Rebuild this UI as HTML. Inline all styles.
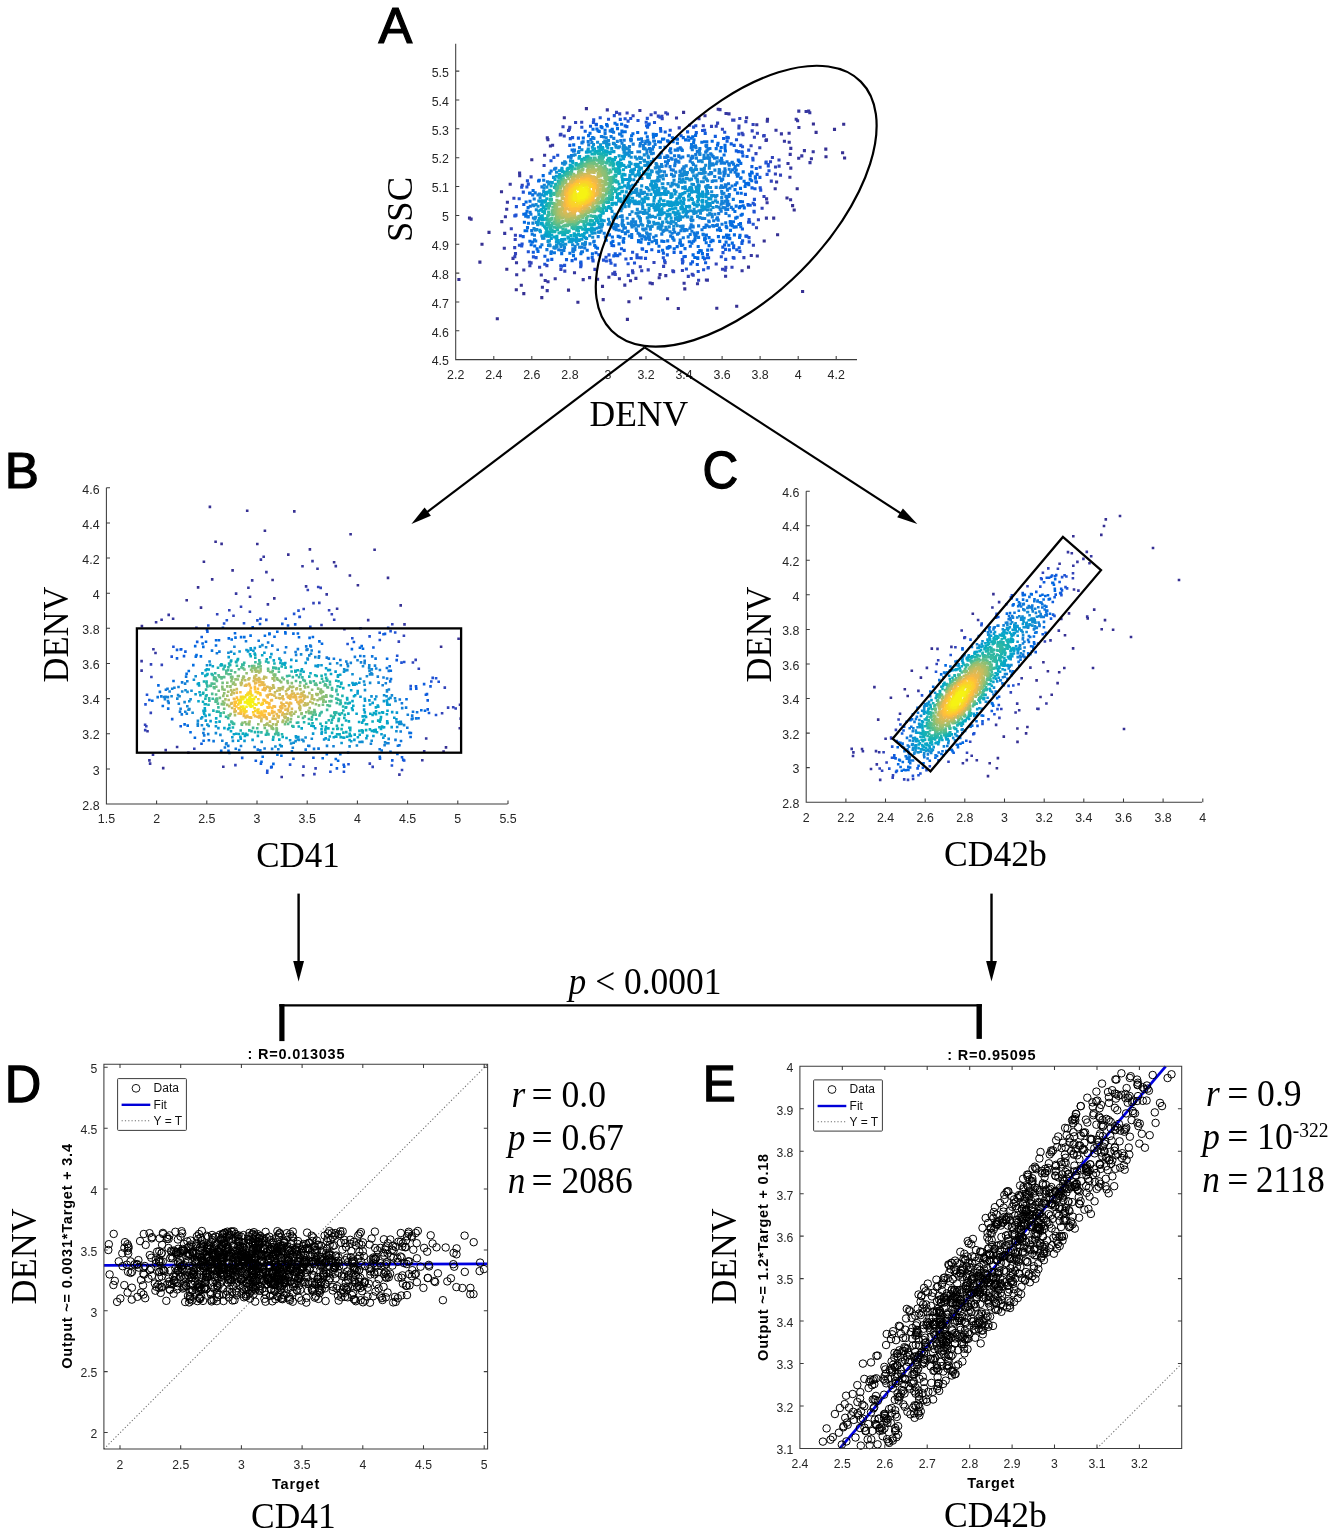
<!DOCTYPE html>
<html lang="en"><head><meta charset="utf-8"><title>Figure</title>
<style>html,body{margin:0;padding:0;background:#fff}svg{display:block}.ss{font-family:'Liberation Sans', Arial, sans-serif}.sf{font-family:'Liberation Serif', 'Times New Roman', serif}</style></head><body>
<svg width="1337" height="1536" viewBox="0 0 1337 1536">
<defs><marker id="mk" markerUnits="userSpaceOnUse" markerWidth="12" markerHeight="12" refX="6" refY="6" overflow="visible"><circle cx="6" cy="6" r="3.75" fill="none" stroke="#000" stroke-width="1"/></marker></defs>
<rect width="1337" height="1536" fill="#fff"/>
<g id="panelA">
<g stroke-linecap="square" stroke-width="3.1" fill="none">
<path stroke="#363093" d="M802.6 291.5h0M497.3 318.7h0M458.9 279.5h0M736.7 306.3h0M716.8 308.3h0M479.9 262.1h0M627.4 319.4h0M577.9 302.2h0M678.3 308.5h0M603.2 299.6h0M482 244.2h0M843.7 124.3h0M667.6 298.8h0M777.6 234.8h0M834.5 129.4h0M628.9 301.7h0M489 232.4h0M640.6 298h0M568.5 290.1h0M844.6 158h0M469.5 218.1h0M471.1 219.1h0M842.6 152.8h0M816.1 132.4h0M797.2 188.8h0M531.8 159.7h0M501.5 191.7h0M523.8 293.6h0M541.8 297.6h0M825.8 149.1h0M826 156.7h0M794.2 210h0M516.3 289.7h0M586.4 108.6h0M506.8 269.2h0M773.7 218.1h0M764.2 241h0M683.6 112.4h0M813.4 124h0M521.3 285.2h0M602.5 286.4h0M792.6 205.6h0M684.8 288.9h0M787 198h0M767.5 119.2h0M748.5 267.1h0M564.3 117.7h0"/>
<path stroke="#3637a0" d="M790.6 199.7h0M757.3 256h0M742.1 270.7h0M810 162.6h0M504.3 248.3h0M516.7 274.7h0M798.9 127.5h0M789.9 177.3h0M813.2 151.8h0M547.2 290.6h0M583.2 279.6h0M510.2 184.3h0M798.8 111.1h0M501.8 221.6h0M718.2 109.3h0M767.3 121.1h0M652.3 283.6h0M650.1 283h0M809.8 112.7h0M808.7 111.1h0M789.1 133.3h0M547.3 137.9h0M796.2 119.2h0M811.4 158.7h0M720 109.6h0M504.7 233.4h0M776 130.2h0M597.6 279.2h0M519.6 173h0M542.4 287.3h0M797.6 120.8h0M725.6 276.3h0M804.4 150.6h0M781.4 133.9h0M624.8 285.1h0M806.1 111.5h0M589.6 277.6h0M547.9 139.6h0M789.2 142.3h0M784.4 141.3h0M705 115.7h0M790.8 168.1h0M790.8 148.4h0M766.4 218.1h0M684.1 283.3h0M555.2 278.7h0M798.7 158.2h0M775.2 188.8h0M801.8 155.9h0M507.4 202.3h0M548 281.8h0M790.2 154.4h0M676.5 118h0M544.6 155.2h0M519.7 175.6h0M659.2 277.8h0M505.4 216.8h0M545.2 280.5h0M523.8 270h0M639.9 110.5h0M726 113.5h0M607.3 109.9h0M751.3 255.5h0M729 113.9h0M707.4 280.1h0M746.6 117.7h0M697.5 283.8h0M506.7 209.2h0M788 163.5h0M665.8 275.6h0M541.3 275h0M550.4 146h0M706.4 280h0M630.5 280.8h0M608.9 277.3h0M660 274.5h0M516.5 262.8h0M767.1 202.7h0M513 258.4h0M699 118.8h0M552.6 145.3h0M635.9 278.4h0M776.6 182h0M756.8 124.7h0M766.5 139.9h0M619.4 278.7h0M766 140.5h0M574.5 272.8h0M766.6 198.9h0"/>
<path stroke="#3243ba" d="M725.3 270.3h0M511.3 228.7h0M667.5 114h0M665.8 112.7h0M648.2 269.9h0M563 126.8h0M732 267.2h0M739.8 118.5h0M753.1 124.5h0M514.8 256.8h0M780.5 175.1h0M575.6 122.5h0M673.6 271.6h0M764.2 135.6h0M594.9 269.4h0M753.4 245.2h0M763.6 136h0M745.9 121.6h0M698.6 280.2h0M722.5 269.3h0M672.8 270.9h0M779 160h0M717.6 123.1h0M759.8 147.7h0M513.9 198.3h0M732.7 120.1h0M743.9 257.6h0M733.9 120.1h0M756.5 227.7h0M615.3 274.5h0M628.3 275.4h0M612.8 273.9h0M564.8 271.1h0M529.9 265.7h0M725.8 267.4h0M560.3 134.9h0M515.5 253.6h0M641.7 270.8h0M772.4 157.5h0M757.4 133.3h0M560.9 134.3h0M762.1 208.2h0M758.4 219.7h0M764 196.5h0M581.7 122.2h0M771.3 181.1h0M752.2 130.9h0M539.6 267.3h0M614.7 272.2h0M688.3 276.4h0M754.4 137.2h0M655.2 112.8h0M514.7 247.6h0M632.9 272.6h0M663.6 266.4h0M627.1 113h0M654 262.5h0M560.9 269.5h0M779.1 166.1h0M716.2 126.3h0M616.5 112.4h0M569.8 127.3h0M632.5 270.9h0M633.1 115.8h0M529.4 262.2h0M711.5 126.4h0M775.4 174h0M531.1 262.9h0M739 126h0M544.1 165.5h0M531.1 176.9h0M682.4 270.5h0M515.2 239.5h0M651.1 114.7h0M515.4 235.2h0M661.9 116.2h0M640.3 266.7h0M569.4 129.3h0M756 153.6h0M689.6 125.2h0M693.2 275.2h0M564.2 136h0M738.9 128h0M568.5 130.5h0M751.1 145.7h0M716.2 264h0M722.4 129.2h0M692.2 274.2h0M546.9 265.6h0M775.5 167h0M522.2 185.2h0M679.2 127.9h0M619.7 113.9h0M703.3 125.8h0M665.1 262.6h0M742.1 133.3h0M658.3 116.1h0M743 134.8h0M662.2 118.6h0M770.5 161.8h0"/>
<path stroke="#2053d4" d="M753.2 224.3h0M521.7 187.2h0M660 117.2h0M580.7 266.7h0M734 258.1h0M514.8 215.7h0M527.4 180.7h0M628.1 263.8h0M638 120.5h0M561.6 266.2h0M725.7 259.4h0M544.8 264.2h0M515.1 216h0M695.8 125.7h0M560.8 265.9h0M615.1 265.1h0M749.2 241.9h0M647.3 118.4h0M733.2 257.5h0M738.8 134.1h0M516.4 206.6h0M708.1 268h0M664.6 260.9h0M766.2 162.1h0M686.4 269h0M600.2 117.8h0M519.4 245.2h0M708.3 267.5h0M630.7 118.5h0M634.5 263h0M614.3 115.6h0M519.2 198.8h0M645.5 258.4h0M564.6 265.4h0M698.2 271.5h0M760.7 190.1h0M703.6 269.8h0M765.9 162.9h0M593.7 119.9h0M516 215.1h0M724.7 132.2h0M611 263.3h0M581.8 127.3h0M768.3 164.5h0M581.1 265.1h0M693.6 127.1h0M749 237.6h0M721.3 256.7h0M625.9 259h0M748.7 150.1h0M553.9 157.4h0M769 170.7h0M768.3 166h0M767.1 174.4h0M606.4 261h0M603.5 260.1h0M631.2 258.5h0M754.2 212h0M521.7 246h0M752.8 158.3h0M551 160.7h0M754 211.4h0M682.5 263h0M641.1 257.9h0M739.9 251.4h0M760.2 187.7h0M753 159.9h0M533.4 256.9h0M704.6 130.2h0M646.2 122.2h0M610.1 260.4h0M639.1 257.7h0M754.4 199.4h0M593.1 260.9h0M637 257.8h0M663.3 257.8h0M754.5 204.7h0M522.1 244h0M670.2 130.3h0M520.4 235.8h0M736.5 139.7h0M528.3 251.7h0M523.3 192.1h0M682.9 261.4h0M528.3 184.1h0M536.1 257.6h0M557.7 155.3h0M749.6 222.2h0M580.7 263.3h0M606 257.3h0M742.5 146.7h0M625.1 118.8h0M592.8 260h0M702.6 130.5h0M570.3 138.6h0M753.2 203.3h0M740.8 145.4h0M746.9 236.2h0M654.5 122.5h0M637 254.8h0M628.1 121.1h0M723 252.6h0M593.4 122.5h0M632.6 252.2h0M682.3 259.6h0M760.1 167.2h0M608.5 119.2h0M748.6 222.3h0M749.1 219.5h0M526.9 187h0M617.7 255.7h0M572.6 137.6h0M609 254.9h0"/>
<path stroke="#0f5cdd" d="M616.8 255.5h0M619.9 254h0M726.9 137.4h0M728.3 137.8h0M649.2 124h0M613.8 255.9h0M715.3 136.4h0M745.9 236.1h0M727.3 137.6h0M580.9 262.1h0M690.8 263.9h0M747 156.5h0M624.2 250.4h0M648.6 124.7h0M736.8 249.8h0M547.8 260.1h0M705.2 133.4h0M598.9 254.8h0M620.3 119.4h0M739.2 247.7h0M646.6 125.8h0M705.6 262.8h0M615.2 253.7h0M660.5 128.5h0M687.6 131.9h0M697.3 264.5h0M723.6 138.5h0M750.2 205.2h0M741.9 243.4h0M667.3 254.9h0M533.3 252.3h0M755 188.8h0M741.7 151.7h0M523.2 236.6h0M742.3 152.4h0M734.2 145.4h0M592.2 257.5h0M742 242.6h0M756.3 168.5h0M683.9 256.7h0M590.5 126.2h0M646.4 251.5h0M621.5 248.8h0M742.6 240.8h0M692.5 261.9h0M665.2 132h0M708.6 257.8h0M725.5 249.4h0M759.9 177.4h0M647.6 127.1h0M731.2 143.9h0M729.4 249.9h0M572.1 260.6h0M727.1 141.1h0M685.3 256.5h0M751.9 166.6h0M748.6 205.2h0M663.4 253.1h0M588.2 258.3h0M585.2 131.2h0M551.8 259.4h0M748 204.6h0M658.7 251.4h0M742.9 155.9h0M696.3 132.6h0M707.4 257.7h0M738.4 151.6h0M722.8 247.1h0M660.8 131.1h0M566.5 259.6h0M733.6 247.7h0M596.1 124.3h0M736.3 150.9h0M596 252.8h0M612 245.5h0M711.7 249.7h0M651.8 249.8h0M613.6 245.8h0M669.4 135.2h0M569.8 145.4h0M596.4 124.6h0M745.4 194.4h0M681.1 135.7h0M704.5 258.9h0M674.1 252.4h0M752 187.9h0M757.1 174.4h0M680.8 252.4h0M756.5 182.2h0M626.9 126.6h0M707.5 254.5h0M733.7 245.7h0M642.6 249.1h0M575.5 259h0M544.9 256.2h0M578.4 138.1h0M724.6 245h0M523.8 204.5h0M642.1 248.8h0M742.4 229h0M755.9 181.8h0M625.2 125.9h0"/>
<path stroke="#0268e1" d="M694.8 257.5h0M592.4 253.9h0M662.6 250.3h0M739.6 237.4h0M611.3 242.9h0M697.8 258.4h0M728.8 245.2h0M725 145.3h0M703.1 257.4h0M744.3 207.9h0M621.6 124.3h0M740 235.4h0M619 243.9h0M637.7 132.5h0M615 123.2h0M543.2 175.6h0M697.7 257.7h0M693.1 254.9h0M672.4 137.8h0M525.1 230.8h0M538 251.4h0M755.5 178.1h0M719.7 241.4h0M531.2 244.8h0M755.3 176.7h0M597.5 248.3h0M707.7 250.1h0M742.5 201.8h0M743.2 205.7h0M732.3 243.1h0M751.6 172h0M695.6 135.4h0M742.3 214.2h0M538.6 181h0M539.3 180.2h0M718 143.3h0M683.3 137.6h0M675.4 138.5h0M712.2 141.3h0M752.2 173h0M726.1 242.1h0M606.6 124.5h0M612.9 241.4h0M741.2 193.3h0M740.8 226.7h0M725 147.9h0M676.8 138.9h0M623.6 242.2h0M593 129.3h0M617 124.8h0M741.1 215.3h0M709.1 245.6h0M677.5 139.3h0M702.4 253.6h0M688.3 137h0M529.9 241.3h0M740.5 223.5h0M524.4 222.2h0M526.1 202h0M523.8 214.3h0M713.1 240.8h0M685 248.6h0M674.2 248.7h0M740.5 201.6h0M748.8 184.7h0M529.6 193.3h0M667.6 248.3h0M692.7 136.8h0M632.9 133.7h0M745.1 186.5h0M537.1 248.9h0M606.3 240.3h0M698.4 252.5h0M710.8 241.7h0M751.7 180.8h0M601.1 126.6h0M623.2 241.1h0M749.7 174.2h0M712.1 240.3h0M645.7 133h0M530.1 193.1h0M573.7 144.9h0M729.8 238.6h0M667.2 247.7h0M659 246.2h0M607.3 125.9h0M701.3 250.8h0M717.5 145.2h0M718.4 236.6h0M723.5 237.2h0M699.9 251h0M668.6 247.6h0M740.1 206.6h0M534.7 246h0M750.2 175.8h0M526.7 230.7h0M721.2 147.5h0M748.4 183.3h0M727 237.8h0M699.8 250.6h0M738.9 224.5h0M740.5 188.4h0M725.4 151h0M734.4 234.9h0M740.8 163.4h0M738.3 160.1h0M656.3 134.5h0M595.8 247.1h0M663.8 139h0M739.3 161.4h0M747.2 183.5h0M590 133.2h0M667.6 140.9h0M583.3 138h0M750.2 179.2h0M739.4 207.8h0M670.1 247h0M596.9 129h0M745.7 183.6h0M691.3 138.2h0M673.1 141.8h0M685.6 139.9h0M677.2 246.6h0M662.5 139.1h0M668.9 141.9h0M669.2 246.5h0M602 127.6h0M737.5 193.1h0M690.3 246.2h0M728.8 235.2h0M726.5 235.1h0"/>
<path stroke="#046de0" d="M653.3 134.4h0M706.2 242.7h0M655.9 135.5h0M532.5 242h0M573.5 255.6h0M737.2 217.2h0M681.3 245.4h0M706.8 141.9h0M625.2 131.7h0M698.2 246.5h0M736.2 226.9h0M743.2 171.9h0M682.7 245h0M744.1 181.3h0M677.4 143.3h0M688.7 140.2h0M533.1 190.5h0M588.6 135.6h0M525.7 216.3h0M631.6 135.8h0M709.1 237.6h0M617.5 128.6h0M612.4 237h0M704.6 141.8h0M735.7 218.1h0M694 139.8h0M623.8 238.5h0M526 213.9h0M734.1 227.3h0M527.5 227.6h0M734.2 226.8h0M621.9 131h0M730.5 230.4h0M598 130.7h0M720.6 230.5h0M594.7 245.5h0M736.2 206.1h0M580.9 253.7h0M741 177.7h0M679.7 243.2h0M691.9 243.2h0M656.6 243.1h0M740.6 178.1h0M704.6 239.6h0M738 165.2h0M720.3 151h0M734.9 211.5h0M705.4 238.7h0M638.5 241.6h0M736.9 182.9h0M733.5 221.7h0M735 189.6h0M648.7 243.6h0M622.1 132h0M717.5 230h0M620.1 237.1h0M660.5 142h0M732.3 225.6h0M612.3 129.2h0M605.4 237.1h0M735.4 184.9h0M527 211.3h0M680.4 242.2h0M701.8 142.2h0M716.2 148.6h0M653.5 137.1h0M737.5 165.3h0M638.8 241.3h0M618.2 236.4h0M704.7 238h0M726.8 227.8h0M641 242.1h0M599.2 131.5h0M724.1 155h0M730.7 225h0M731.7 222.4h0M689.3 241.7h0M690.1 241.7h0M551 253.4h0M719.4 228.1h0M665 147.2h0M528.1 207.6h0M572.1 150h0M605.1 130.2h0M726.2 226.4h0M693.6 241.3h0M587.2 250.2h0M706.4 235.1h0M663.9 241.5h0M638.5 240.6h0M647.3 136.8h0M680.2 147.7h0M658.6 141.8h0M730.2 222.2h0M730.3 221.5h0M609.5 234.9h0M738.2 174.4h0M530 201.3h0M540.4 247h0M661.8 241.1h0M611.8 130.4h0M670.6 148.9h0M551 252.9h0M737.4 176.1h0M631.7 237.4h0M561.7 253.6h0M693.6 142.7h0M532.7 194.9h0M667.7 240.9h0M569.9 253.3h0M733.1 209.2h0M678 148.9h0M694.9 239.9h0"/>
<path stroke="#0d75dc" d="M725.7 222.8h0M681.3 149.1h0M610.2 130.9h0M583.1 141.8h0M652 241.7h0M581.6 252h0M582.5 251.7h0M680.2 240h0M638.5 139.3h0M722 224.2h0M733.3 199.4h0M543.7 180.2h0M551.2 171h0M736.8 174.1h0M674 240.1h0M703.4 234.7h0M732.3 162.3h0M641.5 138.8h0M729.2 215.7h0M581.9 142.9h0M612.1 131.4h0M706.7 145.5h0M534.5 239.8h0M582 142.9h0M656.4 240.6h0M677.6 150.1h0M528.5 223.2h0M629.4 236h0M675.2 150.1h0M732.1 186h0M698.6 237.4h0M691.5 144.6h0M703 234.3h0M528 216.9h0M669.7 150.8h0M660.2 147.5h0M735.3 166.6h0M682.3 150.4h0M733.6 164.1h0M736.3 170h0M535.7 241h0M732 162.7h0M716.5 225.5h0M717.4 224.9h0M620.5 134.2h0M655.1 240.5h0M554.4 252.8h0M695.2 237.6h0M528.3 216.6h0M613.6 132.3h0M619.5 134h0M705.9 145.8h0M713.6 226.1h0M630.6 139.4h0M654.5 141.2h0M631.4 139.7h0M735.1 172.3h0M734.8 168.2h0M551.4 251.9h0M731.3 207.4h0M549.9 173.3h0M673 238.4h0M683.3 237.8h0M532.2 234.3h0M696.1 235.8h0M653.7 141h0M706.6 146.6h0M712.7 225.6h0M670.9 152.8h0M622 136h0M688.2 236.9h0M535.2 192.9h0M709.4 226.8h0M573.3 251.8h0M709.9 148.5h0M530.3 206.2h0M546.9 249.6h0M691.2 147.7h0M592.7 137.6h0M693.1 146.5h0M729.9 188.3h0M702 229.7h0M625.4 233.7h0M694.8 234.5h0M695.2 145.8h0M697.5 232.9h0M574.5 150.1h0M641.8 239h0M605.1 133.4h0M672.5 237.3h0M649.5 239.7h0M725.9 213.5h0M661.3 153h0M631.7 234.5h0M647.8 140.1h0M705.2 227.2h0M655.1 144.5h0M704 227.5h0M631 140.8h0M695.5 146.3h0M727 161.8h0M694.3 146.8h0M718.2 220.1h0M573.5 151.3h0M645.7 239.3h0M728.5 183.7h0M694.2 233h0M707 225.8h0M690.2 234.5h0M531.7 230.6h0M593.7 242h0M721.5 158.2h0M732.6 169.7h0M678.7 155.9h0M667 155.7h0M728.8 163.7h0M625.3 232.7h0M706.2 225.7h0M642.2 141.5h0M642 141.6h0M674.6 155.7h0M727.7 209.4h0M679 156.4h0M679.1 156.5h0M670.7 236.1h0M574 151.3h0M594.2 241.3h0M682.8 157h0M590.9 139.5h0M708 149.1h0M530.1 212.4h0M706.1 225h0M667.9 156.8h0M729.3 194.6h0"/>
<path stroke="#1079da" d="M584.8 248h0M692.3 149.8h0M729.3 165.2h0M645.8 141.4h0M680.7 158h0M622.3 231.4h0M572.8 250.6h0M696 147.8h0M554.6 169.1h0M666.1 157.5h0M729 204.4h0M541.9 244.7h0M664.7 157.4h0M593.9 138.4h0M647.6 238.2h0M604.2 233.2h0M691.9 231.2h0M730.7 172h0M716.7 219h0M688.3 155.8h0M698.6 225.9h0M648.9 142.3h0M627.6 231.7h0M728.9 196.4h0M671.1 158.3h0M588.2 141.6h0M727.6 190.1h0M619.1 230.3h0M727.4 189.5h0M616.2 229.7h0M726.1 185h0M653.7 237.2h0M725.8 209.7h0M534.5 235.3h0M639.9 236h0M659.8 155.8h0M713.7 220.7h0M717.4 217.8h0M677.5 234.2h0M640.4 143.5h0M653.5 146.7h0M568.5 156.9h0M590 243.9h0M628.1 231.4h0M721.9 160.6h0M728.3 175.4h0M672.1 159.3h0M648.9 142.8h0M675.9 159.7h0M649.8 143.2h0M725.9 186.9h0M725.3 184.7h0M555.8 168.2h0M649.3 237.4h0M579.5 147.6h0M563.9 250.4h0M675.5 160.6h0M724.6 163.3h0M729.2 169.2h0M727.4 205.7h0M699.9 148.6h0M668.5 160.5h0M616.1 228.8h0M534.2 199h0M614.2 228.6h0M678 161.2h0M530.9 214.2h0M641.9 235.9h0M723.3 162.7h0M678.8 233.2h0M660.2 157.4h0M601.4 136.5h0M709.2 221.7h0M644.7 236.7h0M693.2 227h0M624.2 140.3h0M645.2 143.5h0M633.2 144.1h0M642.4 235.9h0M656.1 235.8h0M574.8 249.6h0M678.9 162.1h0M717.1 157.9h0M639.6 234.4h0M598.2 236.6h0M727.8 201.5h0M648.9 144.3h0M720.1 160.7h0M648.2 236.5h0M706.9 150.9h0M727.6 201.6h0M611.1 136.6h0M561.1 250.2h0M692.9 226h0M532.8 205h0M675.1 163.8h0M687 230.1h0M725.2 207.8h0M665.5 161.7h0M708.7 221h0M658.6 157.3h0M672 233.2h0M690 228.1h0M667.5 163.2h0M638.1 233.2h0M722.7 179h0M722.3 179.5h0M652.5 149.1h0M726.9 203.6h0M721.4 180.7h0M684.3 230.6h0M674.7 165.7h0M692.4 156.2h0M613 227.3h0M670 166.6h0M691.9 157.1h0M723.9 175.8h0M690.9 226.5h0M699.4 150.4h0M661.8 234.1h0M718.7 213.6h0M639.9 145.9h0M691.1 158.5h0M721.2 163h0M623.9 228.1h0M721.2 211.1h0M726.9 199h0M721.2 163.1h0M722.9 187.4h0M674.7 232.2h0M603.9 137h0M685.5 229.6h0M710.7 153.9h0M697.3 151.5h0M725.1 172.6h0M725 172.9h0M643.4 145.5h0M541.9 186.9h0M625.4 227.9h0M721.4 185.7h0M724.3 173.7h0M558.7 249.7h0M725.2 170.6h0M711.9 155.1h0M671.2 169.8h0M581.6 247.3h0M680.9 230.7h0M724.9 168.8h0M571.4 155.6h0M666 165.9h0M692.9 157.7h0M691.2 224.8h0M719.4 177.7h0M653.3 153.3h0M620.8 140.6h0M613.8 138.4h0M723.9 172h0M725.9 196.4h0M705.7 152.1h0M713.1 156.6h0M615.8 225.7h0M690.2 161.3h0M673.3 170.1h0M714.6 158.1h0M618 225.6h0M572.9 248.7h0M695.7 154.6h0M636.6 230.4h0M649.5 148.5h0"/>
<path stroke="#1481d6" d="M622.6 225.6h0M723 207.6h0M650.1 234.3h0M670 231.8h0M623.6 225.4h0M562.5 163.3h0M716 180.8h0M616.1 224.6h0M720.4 187.8h0M606.2 137.8h0M622 224.3h0M717.1 161.7h0M564.7 161.7h0M720.2 173.3h0M647.2 233.8h0M699.1 153h0M712.3 216.9h0M723.9 193.3h0M632.1 227h0M622.3 223.4h0M725.1 201.3h0M579.6 247.2h0M650.6 151.6h0M611.4 225.5h0M681.9 228.7h0M636.1 228.7h0M719 172.9h0M622.7 220.5h0M651.6 153.6h0M622.3 220.6h0M628.2 223.4h0M627.2 218.3h0M533.9 205.7h0M671.5 174.4h0M644.7 148.2h0M719.6 170.8h0M714.7 176.5h0M534 228.6h0M713.6 180.8h0M683.8 166.7h0M723.2 193.3h0M613.6 223.9h0M584.5 244.9h0M643.6 148.5h0M631.4 224.9h0M686.2 165.9h0M720.2 209.1h0M622.2 217.1h0M714.9 214.3h0M700 153.9h0M661.5 164.6h0M719.2 169.6h0M646.6 232.7h0M532.9 223.1h0M675.7 172.1h0M721.7 191.6h0M682.6 227.8h0M644.8 149h0M707.9 155.2h0M645.1 149h0M699.8 154.4h0M622.1 215.9h0M692.4 162.8h0M538 195h0M633.7 225.6h0M704.7 218.5h0M716.3 163.7h0M696.4 158.1h0M647 150.1h0M682.4 227.5h0M631.6 221.9h0M663 231.5h0M620.3 216.5h0M585.4 244h0M662.1 166.5h0M722.6 193.9h0M702.4 218.4h0M723.3 203.3h0M712.2 181.4h0M692.9 220.3h0M632.5 222.1h0M722.1 193.5h0M617.3 141.4h0M544.3 185.2h0M664.5 171.9h0M555.1 248.2h0M673.7 229.4h0M716.2 187.4h0M691.6 220.8h0M673.3 176.1h0M591.9 142.5h0M629.8 214.5h0M684.2 168.2h0M635.8 225h0M629.5 146.6h0M633.1 219.2h0M666.3 175.4h0M682.4 169.1h0M714.9 170.1h0M704 155.4h0M674.4 175.8h0M622 143.3h0M616.8 217.6h0M709.5 158h0M643.9 229.9h0M693.4 164.4h0M683.1 226h0M642.7 229h0M573.5 155.2h0M635 221.9h0M663.9 230.4h0M708.4 157.7h0M708.1 157.6h0M638.5 225.9h0M635.4 222.2h0M667 229.9h0M680.3 171.1h0M711.6 172.9h0M699.9 217.6h0M709.1 158.4h0M711 173.7h0M553.9 247.6h0M635.6 221.9h0M639.6 151.8h0M535.3 230h0M653.5 159.2h0M680 171.7h0M548.5 245.5h0M637.9 151.8h0M713.3 165h0M533.4 218h0M564.5 247.5h0M616.3 216.5h0M646.9 153.3h0M721.2 204.3h0M712.6 163.7h0M571 157.7h0M710.6 172.5h0M613.3 219.9h0M719.1 207.3h0M698.5 161.1h0M680.6 226.2h0M691 219.5h0M646.1 228.9h0M706 158.1h0M721.7 197.6h0M699.1 161h0M721.8 201.3h0M599.9 232.1h0M708.9 174.2h0M613.7 218.8h0M539.4 194.1h0M711.4 214.2h0M588.7 144.9h0M709.7 161.2h0M547.4 181.8h0M703.9 158.5h0M575.1 246.4h0M601.2 230.7h0M650.4 229.3h0M608.3 224.2h0M700.8 160.7h0M710.7 165.1h0M695.8 166h0M691.2 168.3h0M709.6 162.8h0M659.1 167h0M641.2 224.3h0M550 245.7h0"/>
<path stroke="#1389d3" d="M642.7 225.3h0M548.8 245.1h0M578.9 151.6h0M707.6 180.8h0M648 156h0M661.2 171.2h0M624.3 145.7h0M656.1 163.6h0M613.5 217.6h0M709.3 168.1h0M709.6 165.2h0M535.7 229.6h0M592.7 237.3h0M660.7 229.3h0M575.1 154.7h0M609.5 222.4h0M554.5 247h0M585.5 242.3h0M697.6 216.4h0M702.2 161.8h0M632.1 211.7h0M674 180.3h0M608.5 140.6h0M690.4 169.5h0M555.6 247.1h0M656.8 164.7h0M708.1 215h0M684.3 171.6h0M706.4 179.1h0M623.4 145.6h0M582.5 243.9h0M644.3 154.9h0M662.9 175.6h0M707.7 215h0M660.7 228.9h0M677.3 225.8h0M623.7 145.9h0M640.5 221.2h0M621.1 210.8h0M709.7 213.9h0M681.2 174.1h0M536.1 204.5h0M648.6 157.6h0M683.9 172.5h0M705.7 165.2h0M705.2 172.6h0M581.9 149.8h0M679.8 175.5h0M704.9 176.9h0M695.6 168.9h0M637.9 216h0M612.8 217.1h0M647.6 225.9h0M709.8 213.6h0M657.8 167.1h0M639.3 218h0M673.7 226.2h0M636 213.3h0M659.3 169.7h0M650.2 226.8h0M691.7 217h0M704.4 168.3h0M656.7 165.8h0M704.3 172.6h0M628.1 148.8h0M693.5 170.1h0M549.7 244.9h0M658.1 228.3h0M578.4 152.5h0M704.2 169.4h0M669.3 226.9h0M536.3 229.8h0M607.6 141h0M557 246.7h0M614.8 214.3h0M598.5 232.1h0M691.9 170.7h0M696.6 169.5h0M703.7 172.9h0M640.4 218.6h0M703.5 173.1h0M665.9 227.4h0M661 228h0M639.4 217h0M701.1 169.3h0M703.9 178h0M701.8 169.7h0M561 246.5h0M710.5 187.5h0M626 147.9h0M631.8 152.5h0M629.2 150.3h0M651.9 226.4h0M672.3 183.4h0M565.7 162.9h0M687.4 172.6h0M716.6 206.6h0M604.8 141.1h0M708 185.6h0M701.1 173.5h0M692.7 171.9h0M652.2 226h0M544 188.2h0M658.3 227.3h0M672 184h0M663.3 179h0M659.4 227.3h0M597.6 142.2h0M534.8 219h0M693 172.2h0M564.3 164.2h0M613.4 143.4h0M699.1 173.2h0M682.4 175.6h0M668 183.6h0M659.9 227.1h0M659 171.9h0M651.2 161.6h0M716.9 195.5h0M674.1 184h0M614.4 144h0M679.6 178.8h0M638.2 212.8h0M685 174.6h0M536.7 229.5h0M660.8 226.7h0M707.2 185.8h0M672.1 184.9h0M639.6 157.2h0M703.3 181.7h0M577.8 244.3h0M623.1 147.6h0M648.7 222.5h0M686.6 174.6h0M624.2 148.2h0M697 175.1h0M717.4 202.3h0M629.5 152.3h0M708 187.2h0M676 223.6h0M625 149h0M687.9 217h0M641.4 158.1h0M648.2 221.1h0M635.3 157.1h0M649.6 222.1h0M629 152.3h0M662 225.8h0M572.6 244.8h0M660.3 176.9h0M619.4 146.7h0M622 208.2h0M693.7 175.8h0M655.3 167.9h0M659.6 176h0M687.4 216.9h0M701.3 181.7h0M640.3 158.5h0M670.8 186.3h0M658 173.2h0M715.7 196.4h0M661.6 225.4h0M542.6 238.2h0M654.6 223.9h0M679.3 182h0M536.3 209.8h0M615.9 145.6h0M700.5 213.3h0M695.7 177.8h0M640.3 212.1h0M693.9 213.5h0M676.8 184.9h0M711.7 191.8h0M608.5 219.2h0M621.4 207.9h0M715.6 197h0M697.2 179.3h0M535.6 217.2h0M637.3 209.4h0M683 179.2h0M656.8 172h0M705.7 186.7h0M671 223.5h0"/>
<path stroke="#108ed2" d="M710.8 209.9h0M713.1 207.5h0M593.5 144.6h0M623.3 149.3h0M556.5 172.2h0M637 158.9h0M659.1 224.3h0M563.2 244.9h0M653.7 222.3h0M647.3 217.9h0M696.1 212.8h0M697.3 180.5h0M641.7 185.9h0M682.2 180.8h0M657.3 223.6h0M681.5 181.5h0M644.4 160.4h0M682.2 180.9h0M556.5 245h0M715.7 200.7h0M595.1 233h0M635.7 184.2h0M686.3 178.6h0M644 160.5h0M681.5 182.2h0M625.2 206.6h0M697.6 181.7h0M627.7 153.2h0M643.6 213.4h0M649.2 163.3h0M658.2 223.3h0M603.7 142.6h0M687.8 178.8h0M691.5 179.1h0M715.4 200.9h0M538.8 201h0M683 181.1h0M647.6 162.3h0M678.3 185.8h0M642.9 212.4h0M713.5 195.5h0M650.1 164.3h0M540.1 197.7h0M628.9 206.1h0M618.3 147.8h0M631.2 157.3h0M637.6 181.5h0M644.5 161.1h0M565.7 244.2h0M673.8 221.9h0M668.5 222.7h0M706.5 188.7h0M662.9 183.7h0M636.7 189.1h0M678.6 220.5h0M689.8 179.9h0M629.2 155.6h0M696.2 211.9h0M644.5 213h0M680.4 219.5h0M657.9 177.3h0M678.3 186.8h0M601.2 227.1h0M624.3 151.2h0M648.4 163.7h0M640.9 190.4h0M536.4 222.5h0M685.7 215.7h0M632.8 185.2h0M616.2 147.3h0M650.1 216.9h0M601.8 226.2h0M662.6 222.5h0M662.2 183.7h0M586.6 238.5h0M693.3 211.6h0M685 182.3h0M543.9 238.3h0M662.7 222.1h0M671.3 221.5h0M541.8 194.8h0M627 154.3h0M541.9 236h0M625.7 153.1h0M678.1 219.8h0M548 241.4h0M659.2 180.6h0M635.3 190.3h0M666.8 221.8h0M649 215.2h0M646.7 213.3h0M570.5 160.9h0M538 206.2h0M707.5 209.9h0M698.3 185h0M646.4 187.5h0M543.7 191.6h0M606.5 143.6h0M682.8 217h0M649.4 215.1h0M646.9 213.1h0M641.2 192.1h0M624 152.1h0M609 144.4h0M648.8 165.4h0M647.3 213.1h0M699.2 185.7h0M636.9 191.7h0M699 210.9h0M674.4 190.4h0M642.7 208.5h0M711.6 195.5h0M560.3 244h0M589.7 235.8h0M626 154.3h0M645 210.3h0M602.5 224.6h0M652.5 216.4h0M657.5 180h0M641.3 193.1h0M644.4 192.4h0M633.8 179.8h0M707.5 191.6h0M693.5 184.5h0M691.9 184.2h0M640.3 162.5h0M665.8 188.9h0M711.8 196.3h0M641.9 178.5h0M642.7 207.7h0M642.9 193.4h0M712.8 202.4h0M647.7 188.4h0M623.4 205.1h0M641.1 178.2h0M686.4 213.3h0M682.7 187.6h0M652.2 171.2h0M690.3 210.7h0M675.8 219.3h0M624.5 204.7h0M701.2 210.4h0M706.8 191.4h0M642.7 206.9h0M635.4 192.5h0M612 211.4h0M638.8 193.8h0M655.4 217.3h0M687.9 211.8h0M548.7 184h0M678.3 218.3h0M683 188h0M623.7 204.7h0M629.9 186.3h0M685.2 186.8h0M657.2 181.1h0M625 154.4h0M651.3 170.7h0M651.8 171.8h0M593.3 232.9h0M702.7 210h0M635.2 203.7h0M694.1 209.4h0M630.1 188.6h0M550 182.2h0M662.8 187.6h0M639.5 194.9h0M645.9 165.3h0M676 191.8h0M656.4 181.1h0M639.1 194.9h0M710.3 205.8h0M633.2 192.4h0M634.3 203.3h0M659.7 218.4h0M702.2 209.8h0M662.9 187.9h0M537.7 224.8h0M696.1 187h0M638.7 203.6h0M637.8 203.4h0M624.4 204.1h0M648.9 210.8h0M546.9 187.1h0M553.5 177.4h0M680.2 216.6h0M648.5 168.2h0M649.1 190.1h0M607.5 144.8h0M642.1 204.1h0M648.5 168.3h0M704.4 209.3h0M685.4 188.7h0M675.4 218.3h0M708 193.5h0M647.3 194.4h0M707.2 192.9h0M667.8 191.9h0M629.5 203h0M649.4 177.7h0M648.4 177.5h0M639.7 196.2h0M644.8 165.5h0M637.3 195.3h0M686.9 211.2h0M690.2 187.5h0M599.1 227.4h0M650.8 184.9h0"/>
<path stroke="#0998d1" d="M651.8 181.2h0M647.7 177h0M666 218.7h0M561.9 168.3h0M654 181.2h0M637.3 202.4h0M698.9 188.4h0M647.9 176.8h0M651 184.7h0M650.3 174.6h0M640.1 176.1h0M648.6 176.7h0M645.2 197.3h0M628.5 186.1h0M548.8 240.7h0M537.7 223.3h0M585.4 237.7h0M638.1 164.5h0M576.4 241.6h0M691.6 187.8h0M642.7 202.7h0M636 164.4h0M668.1 192.5h0M651.7 184h0M639.4 201.7h0M677.2 217.2h0M558.5 243.1h0M549.4 241h0M642 199.1h0M689.7 188.5h0M649.3 174.1h0M629.6 180.7h0M643.5 200.2h0M630.4 179.4h0M710.8 198.9h0M539.8 230.4h0M635.1 164.5h0M644.2 200.1h0M644.4 201.7h0M639.8 175.5h0M628.9 202.4h0M592 233.2h0M588.3 149h0M671.1 218.1h0M628.1 202.5h0M649.1 208.4h0M635.3 175.9h0M647.3 198.1h0M632.7 201.6h0M540.4 231.6h0M708.2 206.6h0M635.2 201.2h0M604.2 220.7h0M652 185.9h0M664.6 191.3h0M637.8 165.1h0M628.3 183.2h0M696.5 188.8h0M637.8 165.2h0M540.4 201.3h0M634.9 201h0M627.9 185.4h0M601.8 223.9h0M647.7 170h0M624.5 156.1h0M647.7 204.8h0M648.1 198.6h0M655.5 184.2h0M579.2 240.4h0M675 193.9h0M671.4 193.9h0M710.1 203.5h0M688.9 190.1h0M600.5 144.7h0M687.8 190.7h0M703.2 208.4h0M559.5 170.8h0M629.7 162.3h0M656.6 185.1h0M658.1 215h0M581.9 239.2h0M645.9 173.9h0M630.9 193.8h0M637.1 174.7h0M646.2 173.7h0M684.9 192.6h0M691.8 189.8h0M689.7 207.2h0M655.5 185.3h0M631.1 163.8h0M650.9 194.4h0M592.4 147.2h0M644.1 173.8h0M571.6 241.7h0M678.9 215.4h0M682.9 193.6h0M654.4 185.9h0M569.2 241.8h0M637.8 166.4h0M652.7 189.1h0M538.5 211.3h0M627 201.7h0M679.9 194.4h0M683.1 212.2h0M638.4 173.7h0M643.6 173.2h0M681.6 194.3h0M636.1 166.5h0M627.3 187.9h0M684.2 211.1h0M629.9 200.5h0M650.3 204.7h0M632.6 198.3h0M667.1 216.5h0M656.4 186.8h0M659 188.3h0M689.5 206.2h0M654.4 187.3h0M705.4 207.1h0M632.3 198.3h0M692.1 191h0M685.5 209.6h0M638.7 167h0M628.5 200.8h0M639.4 173.2h0M629.6 178.1h0M629.7 178h0M655.4 187.4h0M708.6 204.2h0M643.5 172h0M702.6 192.1h0M709 198.2h0M660.9 214.8h0M651.4 205.5h0M641.4 168.1h0M706.1 194.6h0M670.9 195.3h0M658.9 189.4h0M698.5 191.1h0M691.6 192.3h0M665.9 194.4h0M666.3 194.5h0M627.6 200.5h0M638.7 172h0M654.3 190.8h0M633 173.9h0M707 205.5h0M689.3 194.2h0M578.8 239.8h0M694.3 191.8h0M708.1 204h0M639.7 169.4h0M655.2 210.3h0M708.7 199h0M638.5 171.1h0M689.5 194.8h0M654.5 192h0M679.2 213.9h0M671.5 195.9h0M697.1 191.6h0M697 206.1h0M707.1 205h0M680.5 196h0M686.4 206.6h0M680.2 196.1h0M652.7 205h0M562.8 241.8h0M606.7 145.9h0M701.7 206.9h0M688.5 196.3h0M632.8 173.1h0M657.5 190.5h0M694.5 204.7h0M662.1 214h0M669.9 215.4h0M596.8 228.2h0M634.4 169.4h0M662 193.5h0M654.2 197.5h0M663.1 194.2h0M632.2 173.3h0M654 207.5h0M675.3 215h0M628.6 198.4h0M629 196.7h0M633.1 172h0M672.1 196.4h0M693.2 203.5h0M655 208.6h0M653.9 200.9h0M611.7 148.5h0M654.6 197.8h0M655.9 193.3h0M688.8 200h0M622.2 156.3h0M653.7 204.2h0M538.4 220.9h0M667 214.6h0M655.6 195.1h0M658.6 192.5h0M679 196.8h0M659.5 212.1h0M571.9 240.9h0M659.1 193h0M661.1 194h0M702 206.4h0M629.9 175.2h0M683.5 198.2h0M662.6 213.2h0M702.8 193.9h0M691.2 198.2h0M693.8 202.9h0M691.5 198.7h0M706.2 196.7h0M657.3 194.7h0M556.4 241.7h0M655.6 207.7h0M696.9 204.7h0M631.8 169.9h0M702.5 205.9h0M698.1 193.2h0M660.2 194.9h0M684.1 199.7h0M670.1 214.3h0M574.7 240.3h0M692.4 199.5h0M707 203h0M657.7 209.7h0M627.2 197.7h0M679.6 197.9h0M629.5 166.4h0M670.8 197.4h0M594.6 229.6h0M572.6 161.3h0M663.6 212.8h0M587.9 150.4h0M626.3 191.9h0M631.2 170.8h0M664.3 212.8h0M698.5 204.8h0M544.7 235.8h0M623.6 158.7h0M628.8 165.9h0M675.9 213.4h0M630.6 171.4h0M699.3 194h0M656.4 205.7h0M682.7 208h0M659.5 210.2h0M624.6 199.9h0M538.9 214.6h0M701.3 194.6h0M656.9 206.4h0M676.4 213h0M683.7 203.7h0M683.4 202.5h0M626.6 179.5h0M658.6 208.5h0M682.2 207.7h0M583.9 236.5h0M621.3 201.8h0M657.5 204.3h0M676.8 198.7h0M674.9 212.9h0M624.7 199.2h0M706.2 201.4h0M660.5 198.9h0M658.6 207.7h0M681.2 208.9h0M661.9 210.3h0"/>
<path stroke="#079ccf" d="M659.2 201.4h0M700 195.5h0M703.1 196.5h0M680.8 201h0M678 211.2h0M697.4 196.6h0M682 206.1h0M624.1 199.1h0M673.3 212.3h0M599.4 224.2h0M699.9 196.2h0M680.9 207.6h0M697.7 201.4h0M659.4 205.4h0M661.8 208.8h0M545.4 193.1h0M663.4 200.7h0M667.7 211h0M561.9 169.9h0M664 200.8h0M613.9 151.6h0M624.6 185.9h0M591.4 231.2h0M619.1 155.9h0M680.3 203.2h0M660.9 204.5h0M698.5 199.1h0M698.6 198.8h0M702.6 202.3h0M698.6 199.8h0M542.3 200.7h0M544.2 195.8h0M561 240.6h0M616.2 204.3h0M624.6 196.1h0M701.9 201.3h0M702.6 200.4h0M579.6 156.5h0M557.8 240.6h0M677 201.7h0M610.9 208.5h0M676 201.5h0M576.2 238.9h0M667.7 201.9h0M572.9 239.4h0M663.8 205.6h0M539.4 218.6h0M664 205h0M664.1 204.5h0M545.2 235.1h0M669.7 209.6h0M607.8 147.9h0M677.4 202.9h0M670.7 202h0M570.5 239.6h0M546 192.5h0M540.2 210.2h0M676.1 202.6h0M601.8 220.2h0M677.4 204.4h0M586.4 152.1h0M675.4 202.9h0M674.2 202.7h0M667.1 204.7h0M671.3 202.8h0M675.8 208.1h0M672.8 208.7h0M668 204.8h0M670 204h0M541.4 205h0M591.1 230.7h0M583 235.8h0M669.7 205.5h0M556.4 176.2h0M670.4 205.8h0M542 202.9h0M674.2 204.6h0M572.2 239.1h0M671.9 205.5h0M616.3 203.4h0M598.5 147.2h0M593.2 228.9h0M625.9 167.3h0M562.4 239.5h0M576.5 238h0M561.7 239.6h0M564.9 239.2h0M600.9 220.4h0M551.3 238.5h0M620.6 159.7h0M618.7 200.9h0M547.5 236.2h0M587.6 152h0M583.1 235h0M542.2 204.1h0M611.6 151.8h0M600.7 147.4h0M625 174.9h0M594.6 148.8h0M600.8 220.1h0M556.9 239.3h0M552.3 182.6h0M623.9 165.5h0M602.5 147.6h0M588 151.9h0M620.3 198.7h0M591.2 229.7h0M622.4 191.3h0M620 198.9h0M547 235.4h0M623.5 179.5h0M543.3 201.3h0M586.9 232.3h0"/>
<path stroke="#06a4ca" d="M540.8 223.2h0M582.5 234.8h0M579 158.1h0M592 228.7h0M541 224h0M622.7 182.3h0M568.6 238.1h0M619 199.3h0M572.9 163h0M621.8 191.7h0M540.8 216.6h0M622.8 165.1h0M598.2 222.5h0M546.6 194h0M622 187.3h0M584.6 233.2h0M547.5 192.3h0M580 235.4h0M541.7 209.5h0M593 150.1h0M555 179.4h0M621.4 163.6h0M623.5 174.4h0M549.4 236.2h0M546 233.3h0M614.1 203.2h0M549.6 236.2h0M602.8 148.5h0M623.5 169.7h0M612.3 204.7h0M556.1 238.1h0M589.7 229.5h0M622.4 179.3h0M551.1 185.9h0M590.1 151.7h0M621 164.1h0M570.2 165.4h0M615.4 157.5h0M591.6 227.9h0M546 232.9h0M589.4 229.4h0M567.9 237.1h0M606.5 210.4h0M622.8 174.6h0M556.1 237.5h0M620.9 165.1h0M620.1 163.9h0M559.6 174.5h0M618.9 162.3h0M610.1 153.3h0M619.8 193.6h0M554.3 237h0M608.6 207.4h0M621.9 176.6h0M562.7 171.5h0M542.2 223.1h0M543.2 206.5h0M600.9 149.2h0M541.9 219.5h0M575.1 235.6h0M610 153.4h0M576.4 235.2h0M601.9 149.4h0"/>
<path stroke="#06a7c6" d="M574.3 235.6h0M578.5 234.4h0M608.5 152.3h0M609.1 206.6h0M600.2 217.6h0M562.9 171.6h0M594.4 224.3h0M619.4 164.2h0M612 203.5h0M600.3 149.6h0M548.8 192h0M606.9 151.5h0M549.5 234.5h0M620.2 166.2h0M607.7 207.8h0M542.3 215.8h0M618 162.7h0M586.8 229.6h0M542.8 211.5h0M543.1 225.1h0M549.8 190.2h0M547.2 232.5h0M570.9 235.6h0M593.8 224.2h0M617.4 197h0M603.3 212.9h0M619.7 187.6h0M556.9 236.4h0M606.4 151.6h0M545.5 200.8h0M604.8 150.8h0M593 224.8h0M545.1 202.1h0M605.8 151.3h0M543.7 207.6h0M616.8 197.5h0M585.6 229.9h0M551.7 235.1h0M618 163.8h0M614.6 159.6h0M547.5 232.2h0M597.4 220h0M602.6 213.2h0M574.7 234.3h0M594.2 223h0M546.8 198.7h0M596.6 220.6h0M605.1 151.6h0M617.3 163.5h0M549.7 191.7h0M617.7 164.3h0M600.8 215.2h0M571.3 166.4h0M544.6 226.7h0M598.8 150.8h0M618.5 166.2h0M619.1 167.9h0M619.1 184.3h0M568.4 168.4h0M619.8 171h0M619.8 170.9h0M574.2 233.8h0M617.4 194h0M543.3 218.7h0M543.4 219.5h0M567.8 168.9h0M619.7 173.1h0"/>
<path stroke="#0aacbe" d="M546.9 230.1h0M562.7 234.8h0M599.7 151.1h0M567.2 169.4h0M564.7 234.6h0M595.7 151.8h0M595.2 151.9h0M545.6 227.9h0M596.6 151.6h0M619.4 172.4h0M564.2 234.4h0M546.5 229.1h0M590.6 224.7h0M617.9 189h0M599.2 216.1h0M549.4 232h0M549.6 232h0M576.2 163.5h0M611.9 159.4h0M559.5 176.9h0M582.7 229.3h0M551 191h0M603.5 152.6h0M544.6 211.2h0M544.4 213.1h0M618.6 173.3h0M581.7 159.6h0M544.5 212.6h0M570.7 167.8h0M595.3 152.7h0M550.5 192.8h0M578.5 231h0M617.7 169.4h0M596.7 218h0M617.8 170.5h0M612.1 199.8h0M602.9 210.5h0M592 154h0M596.2 218.4h0M617.8 181.7h0M572.4 166.8h0M586.4 156.9h0M585.3 227.1h0M546.9 227.7h0M589.7 223.9h0M606.4 154.9h0M545.5 208.7h0M584.2 158.3h0M613 162h0M558.9 178.3h0M609.8 158.4h0M564.5 172.6h0"/>
<path stroke="#15b1b4" d="M546.5 205.5h0M601.1 212h0M559 233h0M595.6 218.3h0M605.3 154.7h0M559.8 177.5h0M616 190.9h0M567.7 232.4h0M613.8 164.1h0M588.1 156.4h0M592.6 220.9h0M616.9 171.4h0M604.5 207.5h0M615.6 191.6h0M616 190h0M611.3 199.5h0M552.4 231.5h0M560.7 176.7h0M602 153.7h0M594.6 154h0M560.9 232.4h0M551.7 230.9h0M576 165.1h0M565.6 232.1h0M611.8 162.2h0M587.7 224.1h0M547.6 203.8h0M584.8 225.9h0M576.7 230.1h0M596.1 216.8h0M563 232.1h0M554.6 231.7h0M615.4 168.7h0M550.7 195.4h0M616.1 171.4h0M546.9 224.5h0M546.7 224h0M577.6 229.6h0M612.5 197.1h0M567.8 231.6h0M599.9 153.7h0M608.5 202.1h0M598.4 153.8h0M581.3 227.7h0M602.8 208.8h0M608.3 158.9h0M616.2 182h0M611.7 197.9h0M552.1 230.3h0M554.9 231.3h0M612.1 163.9h0M581.9 161.2h0M615.6 171.3h0M569.2 231.1h0M600.1 154.2h0M555.6 184.9h0M550.5 228.9h0M546.2 218.6h0M555.9 184.4h0M566.7 172.1h0M568.8 231h0M551 195.9h0M616 175.1h0M613.2 165.9h0"/>
<path stroke="#1db3af" d="M550.9 228.9h0M554.5 187.4h0M615.8 180.2h0M547.1 222.8h0M607.8 202.1h0M580.4 227.3h0M562.5 175.9h0M550 199.3h0M546.7 219.4h0M590.2 220.7h0M610.8 163.2h0M590.8 220.2h0M607.2 202.5h0M615.6 176.3h0M550.2 199.5h0M552.2 193.8h0M584.9 159.8h0M549.7 226.9h0M608.8 161.2h0M571.7 169.2h0M609.7 198.9h0M603.4 156.4h0M550.4 199.5h0M549.1 203.5h0M584 224.5h0M548.5 224.6h0M615 175.2h0M558.3 181.6h0M578.5 227.5h0M578.6 164.7h0M614.1 188.5h0M594.5 216.2h0M566.2 173.3h0M613.2 169h0M607.4 160.6h0M589.1 158.1h0M565.7 229.9h0M612.4 193.5h0M603.5 205.9h0M573.6 228.8h0M551.1 227h0M601.6 156.4h0M599.4 210.7h0M557.5 229.7h0M614.5 181.1h0M612.2 193.4h0"/>
<path stroke="#2eb7a4" d="M574.3 228.3h0M587.1 159.4h0M547.7 216.2h0M610.2 196.8h0M548.6 208.3h0M547.8 215.7h0M611.3 194.8h0M593.2 216.5h0M550.8 226h0M566.5 173.7h0M610 165h0M586.3 221.6h0M549.5 205.5h0M550.4 202.7h0M582.1 162.9h0M548.3 219.9h0M603 157.8h0M551.5 199.5h0M580.5 164.2h0M600.3 156.9h0M549.5 205.8h0M562.9 229.2h0M600.3 208.9h0M565.1 175.1h0M548.2 215.2h0M581.8 163.4h0M600.9 157.2h0M590.5 158.3h0M613.7 178.1h0M565.1 175.1h0M613.6 177.8h0M549.2 221.7h0M612.6 188.8h0M548.6 212h0M574.7 168.8h0M603.2 204.9h0M575.8 226.8h0M551.4 225.2h0M569 172.5h0M559.4 181.9h0M554.1 193.2h0M613.2 177.1h0M611.1 193.1h0M578.6 166.2h0M607.9 198.6h0M554.3 227.1h0M612.5 188h0M605.3 201.9h0M612.2 189.2h0M549.3 220.1h0M572 227.6h0M607 163h0M602.3 158.7h0M556.6 227.8h0M613 179h0M556.7 227.8h0M561.4 179.5h0M599.2 157.6h0M612.5 187.1h0M572.3 227.5h0M611.5 191.1h0"/>
<path stroke="#38b99e" d="M589.8 159.4h0M599.7 208.5h0M556.9 186.7h0M609.4 195.8h0M601.8 158.8h0M611.2 191.5h0M594 158.1h0M556.1 188.7h0M549.2 214.5h0M595 158.1h0M554.2 194.5h0M568 173.8h0M571.4 171.5h0M583.7 221.7h0M601.9 159.2h0M610.8 191.6h0M556.8 187.8h0M605.8 162.7h0M557.2 186.9h0M586.7 219.5h0M589.6 160h0M611.9 187.1h0M569.5 172.9h0M550 219.6h0M612.2 182.3h0M575 225.9h0M558.9 227.3h0M610.9 171.7h0M558.3 227.2h0M597.8 210h0M571.7 171.6h0M581.6 164.9h0M559 183.7h0M551.9 203.1h0M610.8 190.4h0M560.5 227.2h0M611.9 182.6h0M583.1 221.4h0M611.8 181.3h0M609.8 170h0M590.8 215.9h0M568.9 173.7h0M552.4 223.3h0M594.5 159.1h0M573.1 226h0M599.7 159.5h0M557.3 188h0"/>
<path stroke="#4dbc92" d="M605.9 198.9h0M610.1 172h0M595.2 159.3h0M603.3 161.8h0M551.1 219.8h0M586.5 218.6h0M609.4 192.4h0M563.4 178.8h0M581.8 221.5h0M584.2 164h0M551 218.7h0M610.9 177.5h0M577.3 223.9h0M559.1 226h0M561.5 181.4h0M587.2 162.4h0M589 161.5h0M557.5 188.3h0M577.7 168.8h0M578.8 168h0M610.8 181.2h0M602.6 162.1h0M558 187.4h0M563.4 226.2h0M597.9 208.4h0M557.1 189.7h0M586.2 218.1h0M601.3 161.4h0M570.8 173.2h0M591.3 160.9h0M610.6 183.3h0M556.9 225h0M554.4 223.4h0M594.4 211.7h0M602.9 202h0M573.7 224.8h0M556.8 191.2h0M597.5 160.3h0M610.4 179.8h0M557.7 225h0M565.5 225.9h0M610.2 185h0M610.3 184h0M559.2 185.5h0M599.5 161h0M583.8 165h0M602.4 162.7h0M593.5 160.7h0M598.9 206.7h0M595.1 210.8h0M581.8 166.4h0M601.2 161.9h0M596.7 209.2h0M567.4 225.6h0M587.9 162.7h0M573.1 224.7h0M610 178.8h0M560.8 183.2h0M558.1 224.7h0M610.1 181.2h0M581.3 166.9h0M596.1 209.6h0M552.1 218.4h0M609.9 184h0M553.5 203.5h0"/>
<path stroke="#59bd8c" d="M554.9 222.7h0M565.8 225.3h0M608.6 173.1h0M558.4 224.5h0M578.5 222.1h0M603.2 200.5h0M605 166.5h0M564.9 225.2h0M554.2 221.7h0M602.3 163.6h0M552.1 210.7h0M587.5 216.2h0M585.2 164.7h0M556.9 192.7h0M574.8 223.6h0M552.8 207.2h0M569.8 224.8h0M580.6 220.7h0M609.2 186.5h0M599.4 162.1h0M552.1 212.2h0M586.5 164.2h0M567.3 224.9h0M601.7 163.7h0M593.7 211.2h0M584.3 165.6h0M606.5 169.7h0M567.5 176.6h0M606.2 169.3h0M557.8 223.6h0M609.1 179.6h0M609 178.2h0M591.8 162.3h0M552.5 211.1h0M577.2 222.1h0M608.8 178h0M605.3 168.4h0M599.1 162.7h0M608 189.5h0M570.5 174.8h0M608.3 188.2h0M552.7 214.7h0M606.6 193.2h0M569.3 224.1h0M572.2 223.6h0M602.6 200.2h0"/>
<path stroke="#71bf80" d="M605 169.2h0M557 222.1h0M605.7 170.5h0M553.2 210.6h0M594.4 162.7h0M557.6 193.5h0M592.1 211.6h0M607.5 189.4h0M589.8 163.7h0M564 180.7h0M554.8 203.7h0M590.1 163.7h0M605.2 195.2h0M601.1 201.8h0M600.6 202.5h0M587.2 165h0M607.7 177.2h0M557.1 195.8h0M608.1 183.5h0M587.5 164.9h0M575.1 222.1h0M606.5 191.8h0M601.3 201.2h0M557.1 196h0M605.9 172.2h0M585.9 165.9h0M582.7 217.8h0M606.4 191.8h0M603.2 167.7h0M574.9 222h0M592.5 163.5h0M562.6 182.9h0M562.9 182.5h0M602.8 198.7h0M554.7 206h0M588.7 164.7h0M604.2 169.4h0M553.7 211.7h0M553.7 211.4h0M606.6 174.9h0M560.4 186.9h0M556.3 220.2h0M555.5 219.1h0M561.2 222.7h0M594.2 163.8h0M597 164.2h0M558.9 221.7h0M605 171.9h0M587.8 165.6h0M600.7 166.3h0M596.9 206h0M586.8 166.1h0M586.8 166.2h0M604.4 171.2h0M554.3 214h0M555.7 218.4h0M606.8 179.1h0"/>
<path stroke="#87bf77" d="M606.5 178.3h0M560.6 187.4h0M558.5 193.6h0M573.7 174.2h0M604.2 171.5h0M605.1 173.7h0M599 203.2h0M558.1 195.4h0M556.9 200.3h0M558.5 220.8h0M559.3 191h0M576.5 220.3h0M594.3 208.3h0M603.2 196.5h0M579.1 218.9h0M555.1 207.8h0M579.7 170.8h0M573.5 221.3h0M590.3 211.4h0M578.9 218.8h0M565.8 180.3h0M585.6 214.6h0M588.7 166h0M591.3 210.5h0M605.4 176.2h0M554.9 212.6h0M606.3 184.1h0M600.5 167.6h0M559.3 191.9h0M579.1 171.4h0M603.3 171.3h0M591.5 210.3h0M594.4 207.8h0M601.9 198.1h0M571 221.6h0M570.4 221.7h0M556 205.6h0M596.7 165.7h0M583 169.2h0M599.4 167.1h0M555.3 209.9h0M558.8 220.1h0M567.9 221.9h0M555.8 207.1h0M556.4 204.5h0M590.2 165.9h0M563.1 184h0M562.7 221.5h0M558.6 219.8h0M605.7 180.6h0M605.3 189h0M599.6 167.6h0M559.1 220h0M588.1 212.5h0M605.8 182.7h0M601.5 169.6h0M598.3 203h0M557.7 218.8h0M583.6 215.4h0M602.4 196.6h0M556.5 205.1h0M571 176.7h0M604.9 177.9h0M555.7 209.7h0M604.8 177.5h0M604.6 190.7h0M582.2 216.1h0M558.8 219.3h0M556.5 216.1h0M591.6 166.1h0M593 208.4h0M582.5 170h0M602.4 196h0M568.8 221.3h0M593.9 207.6h0"/>
<path stroke="#92bf73" d="M557.5 217.7h0M588.4 211.9h0M602.9 173.2h0M600.2 169.4h0M601 170.3h0M556.2 209.1h0M556.4 208.1h0M556.7 206.2h0M578.5 172.6h0M557.5 217.2h0M602.8 194.7h0M605 182.2h0M593.1 166.5h0M605 184.6h0M580.5 171.5h0M560.5 190.8h0M601.1 170.7h0M578.1 218.1h0M568.7 178.8h0M592 166.6h0M562.6 186h0M589.1 167.3h0M565.7 220.8h0M593 207.9h0M603.2 174.9h0M599.3 169.1h0M560 193.1h0M598.5 168.7h0M581 216.2h0M560.6 191.1h0M600.6 170.8h0M590.4 167.3h0M556.6 210h0M602.2 173.5h0M566.5 220.6h0M582.1 215.4h0M598 202.1h0M558 216.6h0M579 217.1h0M557.1 214.5h0M557.8 203.9h0M601.4 172.5h0M586.4 212.5h0M602.5 175.2h0M603.6 190h0M557.8 215.3h0M603.6 189.6h0M558.2 216h0M592.7 167.6h0M558.4 202.7h0M557.1 211.7h0M565.7 182.5h0M593.4 167.8h0M597.7 202h0M601.3 173.5h0M588 168.7h0"/>
<path stroke="#a5be6b" d="M558.1 204.7h0M603 190.5h0M558.1 214.5h0M602.8 190.6h0M603.2 181.3h0M603.4 186.9h0M574.8 175.9h0M587.2 211.3h0M559.1 201.3h0M572.1 219.1h0M560.3 217.3h0M561.9 218.3h0M575.5 217.9h0M599 171.6h0M578.9 216.2h0M596.4 169.7h0M602.7 190.5h0M603 188.7h0M589 209.9h0M566.9 219.3h0M558.1 211.5h0M571.2 218.9h0M558.4 212.9h0M593.2 169.1h0M572.6 177.6h0M571.6 218.6h0M602.8 185.1h0M599.9 174.2h0M568.3 218.9h0M600 174.6h0M572.7 218.2h0M569.1 218.7h0M602.3 181.8h0M600 196.3h0M563.2 217.8h0M559.8 214.8h0M563.1 217.6h0"/>
<path stroke="#aebe67" d="M581.7 173h0M566.5 218.4h0M595.6 170.8h0M589.4 170h0M600.3 176h0M595.7 202.9h0M559.4 204.5h0M587.3 170.6h0M561.2 195.2h0M598.6 173.6h0M558.9 209.6h0M559.6 213.6h0M588 209.6h0M559.4 212.7h0M599.8 175.8h0M574.9 217h0M598.4 198.7h0M559.1 210.5h0M560.1 201.7h0M598.2 173.5h0M592 170.2h0M600.3 194.6h0M573 217.5h0M582.6 212.9h0M559.2 209h0M560 202.6h0M580.6 173.9h0M578 175.4h0M579.4 174.6h0M573 178.3h0M601.8 185.8h0M584.9 211.3h0M589.8 170.7h0M597.7 199.4h0M568.6 217.8h0M600.9 180.2h0M576.9 176.1h0M593.6 171.2h0M596.6 200.8h0M592.1 205.9h0M589.3 171.1h0M564.4 187.3h0M572.8 217h0M568.8 217.5h0M562.3 215.4h0M581.1 213.3h0M596.6 200.5h0M593.3 171.5h0M560.2 204.8h0M600.1 193.6h0M574.7 216.3h0M560.8 201.4h0M598.1 198h0M593 204.7h0M564.9 216.5h0"/>
<path stroke="#c0bc60" d="M601 185.7h0M561.9 214.3h0M562.9 215.3h0M588.8 208.1h0M593.6 172.1h0M561 212.4h0M600 192.7h0M566.2 216.6h0M594.1 172.5h0M563.1 191.4h0M588.4 171.9h0M573.6 178.6h0M598.3 176.7h0M562.4 194.3h0M562 213.8h0M588.6 172h0M574.7 215.7h0M583 211.6h0M598 176.6h0M591.1 172.1h0M567.5 216.4h0M600.4 189h0M599.5 180.3h0M580.4 175.2h0M568.8 216.4h0M599.3 180.5h0M577.1 177h0M573 179.4h0M581.8 212h0M598.7 195.1h0M561.2 209h0M564.4 189.4h0M562.2 198.1h0M574.4 215.2h0M572.6 179.9h0M598.5 195.2h0M564.3 214.5h0M599.7 183.5h0M561.5 209.4h0M570.9 181.3h0M584 174.2h0M572.3 215.5h0"/>
<path stroke="#c8bc5d" d="M562.5 198.1h0M569.2 215.7h0M578.6 176.7h0M580.5 175.8h0M571.3 181.1h0M588.6 173.2h0M571.8 215.4h0M570.9 181.5h0M563.4 193.9h0M581.6 211.4h0M599.4 189.7h0M566.4 214.8h0M584.2 209.9h0M566.7 186h0M582.9 175h0M568.2 184.2h0M567.4 185.2h0M564.3 213.4h0M562.2 202.6h0M562.2 202.7h0M586.5 208.2h0M567.2 185.6h0M565.2 213.7h0M573 180.4h0M588.6 173.9h0M562.3 206.1h0M587.6 174h0M562.4 203.6h0M568.5 184.3h0M598.8 191h0M596.4 178h0M585.8 174.5h0M598.9 185.8h0M563.7 194.6h0M597.9 181.5h0M585.4 174.7h0M571.2 214.5h0M573.8 180.2h0M564.1 211.8h0M580.7 211.2h0M563.2 198.5h0M570.9 182.4h0M598.5 189.6h0M592.7 202.5h0M590.4 204.7h0M564.6 211.9h0M563 207.9h0M596.4 179.3h0M568.8 214.1h0M568.2 185.2h0M563.5 209.8h0"/>
<path stroke="#d9ba56" d="M565.7 212.7h0M596.7 180h0M594 200.7h0M573.9 213.6h0M564.6 211.4h0M584.9 208.4h0M571.3 182.4h0M566.8 187.5h0M598 184.9h0M571.1 182.7h0M596.5 180.3h0M594.5 177.6h0M575.7 179.7h0M584 175.9h0M597.5 193.1h0M596.8 181.4h0M593.4 176.8h0M570.7 213.6h0M565.6 190.5h0M589 175.3h0M573.6 213.1h0M571.3 182.9h0M587 206.6h0M569.9 184.2h0M592.9 176.9h0M580.3 210.5h0M579.6 210.8h0M566.6 188.9h0M597.5 185.4h0M571.8 182.6h0M570.5 183.7h0M586.3 175.8h0M574.5 212.6h0M585.8 176h0M573.2 181.7h0M597.5 188.3h0M597.5 189.4h0M567.7 187.4h0M567.4 187.9h0M597.4 190.2h0M590.4 176.3h0M569 185.7h0M597.4 189.4h0M578 179.1h0"/>
<path stroke="#e9b94e" d="M565.7 191.9h0M586.4 176.2h0M564.3 204.8h0M596.7 193.1h0M595.8 181.9h0M594.8 180.2h0M565.5 209.1h0M564.5 205.4h0M593.1 178.3h0M573.8 212.1h0M581.5 177.8h0M596.1 194.4h0M565.4 194h0M588.7 176.6h0M578.8 210.4h0M589.7 203.7h0M593.3 178.9h0M594.8 181h0M567.7 188.5h0M574.9 211.5h0M590.2 203.1h0M569.7 185.8h0M595.3 182.3h0M566 208.5h0M582.6 208.2h0M565 199.1h0M570.6 184.9h0M586.7 177h0M586.9 177h0M595.3 195.6h0M573.5 211.5h0M586.6 205.7h0M566.3 208.6h0M582.9 207.8h0M588.2 204.5h0M579.6 209.5h0M591 178.1h0M568 188.6h0M587.1 177.3h0M593.1 199.2h0M585.8 177.4h0M566.7 208.5h0M586.7 205.4h0M589.1 203.5h0M567.8 189.3h0M565.3 202.4h0M578 180.2h0"/>
<path stroke="#f1b94a" d="M595.1 183.6h0M595.3 184.2h0M566 206.1h0M575.5 210.4h0M572.6 210.8h0M567.1 191.4h0M579.5 209h0M570 210.3h0M595.8 187.8h0M574 210.6h0M593.5 181.3h0M570.9 185.7h0M584 178.5h0M566.3 196.2h0M592.6 198.9h0M595.3 186.4h0M576.7 181.6h0M573.4 210.1h0M568 190.4h0M569.8 209.5h0M591.2 200.5h0M569.1 209h0M584.6 205.8h0M572.4 210h0M575 182.8h0M570.4 209.4h0M566.4 202.1h0M587.6 178.8h0M581.7 179.7h0M591.6 180.7h0M570.4 209h0"/>
<path stroke="#fdbe3d" d="M578.2 208.5h0M594.4 185.6h0M579.1 180.9h0M576.5 209h0M588.8 179.3h0M587.7 179.1h0M587 179h0M577.6 208.6h0M594.7 187h0M567.5 205.5h0M567.3 194.3h0M578.7 208.1h0M566.8 200.1h0M581.6 180.1h0M566.9 201.3h0M593.2 196.4h0M593.5 184h0M571.2 208.8h0M571.7 208.9h0M588.4 179.6h0M576 208.8h0M569.6 189.1h0M567.7 193.9h0M572.1 186h0M577.6 182.1h0M591.7 198.6h0M571 187.3h0M567.1 198.9h0M572.5 208.7h0M593.9 193.8h0M567.3 202.4h0M589.3 201.3h0M589.4 180.4h0M575.6 208.5h0M590.8 199.5h0M587.3 179.9h0M567.4 201h0M573.5 185.2h0M582.2 180.5h0M572.4 208.3h0M577.7 207.7h0M571.6 187.1h0M574.7 184.3h0M591.6 198.3h0M567.8 202.8h0M568.2 204.1h0M567.6 200.8h0M571.3 207.6h0M594 189.8h0M589.6 181h0M567.8 196.6h0M567.7 200.5h0M570.1 206.8h0M580.8 181.3h0M588 202h0M592.6 184.5h0M584.4 180.4h0"/>
<path stroke="#ffc337" d="M586.5 180.3h0M593.3 186.4h0M579.2 206.8h0M593.7 188.1h0M569.3 205.4h0M580.9 181.4h0M579.8 206.5h0M587.8 202h0M592.5 195.8h0M581.1 206h0M593.6 188.8h0M589.9 199.8h0M593.5 192h0M573.2 186.2h0M593.5 192h0M590.3 182.2h0M570.3 206.1h0M568.5 202.6h0M587.2 180.8h0M592.8 186.1h0M591.3 197.6h0M585.7 180.9h0M569 203.2h0M576 184.4h0M584.6 203.7h0M585 181h0M569.1 193.3h0M571.9 206.6h0M578.2 206.5h0M580.9 205.5h0M569.4 192.8h0M569.9 191.5h0M571.7 206.3h0M592.3 186h0M582.7 181.5h0M585.7 202.9h0M592.7 193.6h0M592.7 193.5h0M570.3 190.9h0M569.6 203.6h0M570.3 191.2h0M591.1 184.5h0M568.9 199.6h0M588.3 200.5h0M576.2 184.8h0M588.5 200.2h0"/>
<path stroke="#fcce2e" d="M572.6 205.8h0M570.2 203.6h0M581.6 182.4h0M570.7 191h0M591.8 194.9h0M591.5 185.7h0M576.5 185h0M585.9 202.1h0M572 189.2h0M584.5 182h0M586.6 182.2h0M569.9 193.8h0M577.1 205.7h0M570.7 191.6h0M582.6 203.8h0M582.8 182.4h0M588 200.1h0M574.7 205.8h0M570.6 203.3h0M570.2 193.2h0M577.6 184.6h0M569.5 197.2h0M588 182.9h0M589.7 184.1h0M587.9 200.1h0M591.6 194.2h0M569.9 200.7h0M580.3 204.6h0M569.7 198.1h0M569.8 199.4h0M589.5 198h0M575.6 205.4h0M583.7 182.7h0M571.4 203.3h0M575.1 186.7h0M585.7 201.5h0M570.3 194.5h0M574.7 187.2h0M574.1 204.9h0M571.9 203.6h0M571.7 191.1h0M585.8 201.3h0M571.9 203.4h0M589.3 197.8h0M588.3 184h0M590.3 186.2h0"/>
<path stroke="#fad32a" d="M575.2 187.2h0M586.3 183.3h0M588.9 184.7h0M587.6 183.8h0M587.6 183.9h0M590.1 186.4h0M572.8 190h0M572.1 202.7h0M572.7 190.2h0M573.9 188.8h0M573.6 203.7h0M590.8 193.7h0M590.6 194.2h0M576.7 204.3h0M571 199.9h0M571.2 200.6h0M579.1 185.1h0M570.9 198.2h0M571.1 195.3h0M590.8 191.9h0M581 202.9h0M571.9 192.9h0M589.1 196.6h0M573.1 202.6h0M571.2 198h0M589.9 194.7h0M587.7 185h0M571.5 199.2h0M581.9 202.4h0M582.2 184.4h0M572.5 201.4h0M587.6 198.3h0M571.8 194.3h0M572.6 192.2h0M573.4 202.1h0M589.9 194.1h0M587.6 185.4h0M571.8 195.1h0M577.5 203.2h0M572.1 193.6h0M573.4 202h0M590.2 191.7h0M579.3 185.9h0M577.9 203h0M582.3 184.8h0M585.8 184.8h0M590 192.7h0"/>
<path stroke="#f5de21" d="M588.9 195.9h0M583.5 201h0M572 196.7h0M589.1 195.2h0M579.9 202.4h0M576.3 188.1h0M572.1 197.6h0M579.6 202.4h0M583.9 184.9h0M582.2 185.2h0M579 202.5h0M574.8 189.8h0M587.9 196.9h0M584.1 185.1h0M573 199.9h0M572.4 198.2h0M586.7 198.2h0M574.8 190.1h0M589.5 191.4h0M586.9 186.2h0M589.2 189.6h0M585.6 185.6h0M583.6 185.4h0M589.2 189.9h0M588.8 194.5h0M583.3 200.4h0M572.9 196.3h0M586.7 186.6h0M584.7 199.3h0M589 192.5h0M579.1 187.2h0M585.8 186.3h0M573.2 195.2h0M583.2 200.1h0M573.3 197.5h0M573.3 197h0M588.4 194.1h0M575.8 200.7h0M574.3 199.2h0M585.2 186.6h0M587 187.7h0"/>
<path stroke="#f5eb18" d="M580.9 187h0M586.4 197h0M574.1 198.1h0M586.8 187.9h0M588 194h0M574.7 199.1h0M583.8 198.9h0M587.7 194.2h0M583.7 198.9h0M575.1 192.5h0M574.4 194.4h0M587.7 193.7h0M581.3 187.4h0M578.4 200.4h0M574.3 195.8h0M574.4 195.5h0M583.5 198.7h0M583.2 198.8h0M581.3 199.6h0M587.2 190h0M582.3 199.2h0M585.4 187.9h0M586.3 195.9h0M574.8 195.9h0M585.9 188.4h0M587.2 190.2h0M578.6 189.3h0M575.4 197.9h0M586.7 194.7h0M580.6 199.5h0M580.9 188.2h0M577.8 199.4h0M575.3 196.8h0M586.9 190.5h0M584 197.6h0M578.8 199.4h0M585.6 196h0M585.6 196h0M580.4 188.8h0M575.7 194.3h0M581.1 198.9h0M584.8 196.6h0M575.9 197h0M576.5 197.5h0"/>
<path stroke="#f6f313" d="M584 188.8h0M584 188.8h0M584.8 195.9h0M585.9 193.8h0M582 189.1h0M583.7 196.8h0M585.7 190.9h0M578.9 198.2h0M580.7 189.8h0M582.1 197.5h0M585.8 192.1h0M585.6 191.4h0M585.5 191.7h0M579.8 197.5h0M584.8 190.9h0M578.7 197.2h0M582.1 190.2h0M582.2 190.2h0M583.1 196h0M581.2 190.5h0M582.9 190.4h0M583 196h0M580.9 190.8h0M583.9 191.1h0M583.9 191.5h0M582.3 195.9h0M580.9 196.4h0M578.6 195h0M584 193.9h0M578.8 194.7h0M578.9 194.3h0M580.4 191.9h0M579.1 193.9h0M581.1 191.8h0M580.6 192.3h0M583.2 194h0M582.6 194.6h0M580.8 192.4h0M579.9 194.5h0M582.1 192.5h0M581.4 192.8h0M582.3 193.5h0M581.7 192.9h0"/>
</g>
<path d="M455.7 43.8V359.6H857M455.7 359.6v-3.6M493.8 359.6v-3.6M531.8 359.6v-3.6M569.9 359.6v-3.6M607.9 359.6v-3.6M646 359.6v-3.6M684 359.6v-3.6M722.1 359.6v-3.6M760.1 359.6v-3.6M798.2 359.6v-3.6M836.2 359.6v-3.6M455.7 359.6h3.6M455.7 330.8h3.6M455.7 301.9h3.6M455.7 273.1h3.6M455.7 244.2h3.6M455.7 215.4h3.6M455.7 186.5h3.6M455.7 157.7h3.6M455.7 128.8h3.6M455.7 100h3.6M455.7 71.1h3.6" fill="none" stroke="#3c3c3c" stroke-width="1.05"/>
<text class="ss" transform="translate(455.7 378.9) scale(0.94 1)" font-size="13.2" fill="#262626" text-anchor="middle">2.2</text>
<text class="ss" transform="translate(493.8 378.9) scale(0.94 1)" font-size="13.2" fill="#262626" text-anchor="middle">2.4</text>
<text class="ss" transform="translate(531.8 378.9) scale(0.94 1)" font-size="13.2" fill="#262626" text-anchor="middle">2.6</text>
<text class="ss" transform="translate(569.9 378.9) scale(0.94 1)" font-size="13.2" fill="#262626" text-anchor="middle">2.8</text>
<text class="ss" transform="translate(607.9 378.9) scale(0.94 1)" font-size="13.2" fill="#262626" text-anchor="middle">3</text>
<text class="ss" transform="translate(646 378.9) scale(0.94 1)" font-size="13.2" fill="#262626" text-anchor="middle">3.2</text>
<text class="ss" transform="translate(684 378.9) scale(0.94 1)" font-size="13.2" fill="#262626" text-anchor="middle">3.4</text>
<text class="ss" transform="translate(722.1 378.9) scale(0.94 1)" font-size="13.2" fill="#262626" text-anchor="middle">3.6</text>
<text class="ss" transform="translate(760.1 378.9) scale(0.94 1)" font-size="13.2" fill="#262626" text-anchor="middle">3.8</text>
<text class="ss" transform="translate(798.2 378.9) scale(0.94 1)" font-size="13.2" fill="#262626" text-anchor="middle">4</text>
<text class="ss" transform="translate(836.2 378.9) scale(0.94 1)" font-size="13.2" fill="#262626" text-anchor="middle">4.2</text>
<text class="ss" transform="translate(448.9 365.3) scale(0.94 1)" font-size="13.2" fill="#262626" text-anchor="end">4.5</text>
<text class="ss" transform="translate(448.9 336.5) scale(0.94 1)" font-size="13.2" fill="#262626" text-anchor="end">4.6</text>
<text class="ss" transform="translate(448.9 307.6) scale(0.94 1)" font-size="13.2" fill="#262626" text-anchor="end">4.7</text>
<text class="ss" transform="translate(448.9 278.8) scale(0.94 1)" font-size="13.2" fill="#262626" text-anchor="end">4.8</text>
<text class="ss" transform="translate(448.9 249.9) scale(0.94 1)" font-size="13.2" fill="#262626" text-anchor="end">4.9</text>
<text class="ss" transform="translate(448.9 221.1) scale(0.94 1)" font-size="13.2" fill="#262626" text-anchor="end">5</text>
<text class="ss" transform="translate(448.9 192.2) scale(0.94 1)" font-size="13.2" fill="#262626" text-anchor="end">5.1</text>
<text class="ss" transform="translate(448.9 163.4) scale(0.94 1)" font-size="13.2" fill="#262626" text-anchor="end">5.2</text>
<text class="ss" transform="translate(448.9 134.5) scale(0.94 1)" font-size="13.2" fill="#262626" text-anchor="end">5.3</text>
<text class="ss" transform="translate(448.9 105.7) scale(0.94 1)" font-size="13.2" fill="#262626" text-anchor="end">5.4</text>
<text class="ss" transform="translate(448.9 76.8) scale(0.94 1)" font-size="13.2" fill="#262626" text-anchor="end">5.5</text>
<ellipse cx="736.2" cy="206.2" rx="176.2" ry="91.6" transform="rotate(-45 736.2 206.2)" fill="none" stroke="#000" stroke-width="2.2"/>
<text class="ss" font-size="100" stroke="#000" stroke-width="2.48" stroke-linejoin="miter" transform="matrix(0.5060 0 0 0.5036 378.62 43.27)">A</text>
<text class="sf" transform="translate(638.8 426.3) scale(0.965 1)" font-size="36.8" text-anchor="middle">DENV</text>
<text class="sf" transform="translate(412.3 209.5) rotate(-90) scale(0.995 1)" font-size="36.8" text-anchor="middle">SSC</text>
</g>
<path d="M644.6 347.4L424.5 514.1" stroke="#000" stroke-width="2.15" fill="none"/>
<path d="M411.4 524.0L424.6 507.4L430.9 515.8Z" fill="#000"/>
<path d="M644.6 347.4L903.5 515.1" stroke="#000" stroke-width="2.15" fill="none"/>
<path d="M917.3 524.0L897.2 517.3L902.9 508.5Z" fill="#000"/>
<g id="panelB">
<g stroke-linecap="square" stroke-width="2.6" fill="none">
<path stroke="#363093" d="M294.3 511.4h0M209.9 506.9h0M350.6 534.3h0M388 577.9h0M374.6 549.8h0M247.2 510.8h0M458.6 638.7h0M441.1 646.8h0M203.9 561.8h0M232.6 570.4h0M400.7 605.4h0M264.9 530.8h0M288.3 554.6h0M357.9 585.3h0M141.9 626.1h0M212.2 579.4h0M198.1 587.4h0M186.7 600.2h0M349.9 575.5h0M221.6 543.9h0M215.6 541.7h0M309.9 549.4h0M257.3 544h0M201 607.6h0M459.8 728.3h0M272.6 580h0M163.2 768.1h0M446 747.4h0M443.6 751.5h0M274.3 598.4h0M334.1 562.3h0"/>
<path stroke="#3637a0" d="M302.5 566.2h0M335.8 566.1h0M165.7 750.1h0M422.3 760.3h0M266.4 572.1h0M252.2 580.4h0M263.7 556.7h0M368.2 620.1h0M236.1 593.6h0M173.1 618.8h0M260.9 559.6h0M156.1 622.2h0M177.1 747h0M312.5 561.1h0M168.7 614.9h0M317.5 568.7h0M424.2 751.4h0M141.6 661.1h0M150.1 763.6h0M141.6 670.6h0M223.3 766.8h0M248.4 587.7h0M161.6 619.7h0M149.4 760.4h0M267.9 604.4h0M153 754.6h0M153.4 649.3h0M426.2 738.5h0M460.7 718.6h0M188.4 752.7h0M250 596.8h0M303.1 775.2h0M306.1 586.4h0M344.4 629.3h0M404.5 624.4h0M281.7 777h0M337.1 608.7h0M460 704.8h0M399.4 774.6h0M155.5 653h0M326.7 594.4h0M147.5 731.2h0"/>
<path stroke="#3243ba" d="M334.2 619.7h0M307.8 590h0M145.2 730.1h0M444.8 687.6h0M314.4 774.1h0M372.7 766.9h0M415.7 659.9h0M360.5 628.2h0M151 664.4h0M217.2 614.2h0M320.7 587.9h0M241 606.7h0M145.1 724.8h0M321.5 625h0M403.9 635.7h0M161.8 664.9h0M318.2 587h0M146.3 726.2h0M235.4 765.1h0M331.8 614.2h0M229.3 610.2h0M151.4 677h0M418.8 668.8h0M329.1 610.3h0M369.8 763.6h0M455.7 708.5h0M319.3 602.9h0M313.5 603.1h0M196.4 627.8h0M453.2 707.3h0M412.9 662.5h0M249.9 611.8h0M402 770h0M448.1 707.6h0M398.8 641.6h0M442.1 713.3h0M303.5 766.6h0M194.3 748.7h0M315.6 768.4h0M303.7 609h0M233.5 615.8h0M392.3 624.2h0M150.8 712.9h0"/>
<path stroke="#2053d4" d="M145.5 704.4h0M438.7 681.8h0M436.1 678.2h0M436 715h0M173.4 646.7h0M330.4 771.7h0M343.9 771.8h0M298.5 610.6h0M290.1 764.6h0M208.3 625.5h0M432.7 677.9h0M226.8 620.3h0M171.7 656.6h0M267.2 772.7h0M310.3 626.9h0M404.2 662h0M266.3 619.9h0M369.6 636.4h0M147 694.7h0M352.3 638.3h0M395.2 632.5h0M260.4 618.8h0M397.2 655.7h0M224.1 623.5h0M391.9 765.5h0M388.2 627.9h0M294.1 613.9h0M244 623.3h0M379.7 632.8h0M285.7 618.7h0M257.4 620.4h0M404.2 760.5h0M379.8 640h0M267.3 770.8h0M401.5 662.6h0M390.6 631.1h0M299.8 616.7h0M431.3 681.5h0M348.5 764.3h0M299.5 617h0M347.6 644h0M410.7 686.1h0"/>
<path stroke="#0f5cdd" d="M383.5 634.3h0M177 649.9h0M177 658.4h0M207 629.8h0M385 633.9h0M403.2 759.9h0M222.9 627.8h0M172.2 719.1h0M416 686.3h0M242.2 757.9h0M430.5 686.4h0M344.2 766.6h0M424.1 684.1h0M396.7 660.1h0M336.9 768.4h0M410.7 688.9h0M180.7 649.5h0M260 624h0M282.3 623.9h0M207.4 631.6h0M416.3 688.6h0M181.2 649.3h0M427.7 700.4h0M180.7 726.3h0M427 694.1h0M149.4 700h0M255.8 760.8h0M425.9 694.8h0M353.9 642h0M429 713h0M402 757.2h0M380 758.6h0M271.2 767.4h0M343.7 764.8h0M331.3 764.7h0M252.7 627.2h0M271.7 766.9h0M293.4 758.8h0M260.9 763.6h0M295.2 624.4h0M313.4 757.8h0M201.7 637h0M392.3 760.4h0M288 625.5h0M427.7 709.4h0M373.4 647.5h0M184 656.1h0M185.4 651.6h0M197.2 641.9h0M201.5 743.8h0"/>
<path stroke="#0268e1" d="M379.8 756.9h0M322.7 758.3h0M387.1 658.7h0M261.5 761.7h0M273.4 763.9h0M195.2 646.1h0M297.9 633.5h0M293.4 633.6h0M285.3 632.3h0M158.4 685.4h0M152.3 700.7h0M285.5 633.4h0M322 643.8h0M235 633.3h0M277.3 631.8h0M312.9 637h0M319.4 641.4h0M410.6 737h0M425 710.7h0M194.9 737.7h0M338.1 760.8h0M221.2 750.9h0M190.5 732.3h0M216.1 640.2h0M299 637.2h0M219 640.3h0M397.4 754h0M202.6 643.5h0M206 641.7h0M361.7 646.1h0M335.8 759h0M351.9 649.1h0M184.6 724.4h0M309.6 637.9h0M228.8 638.4h0M269.5 633.6h0"/>
<path stroke="#046de0" d="M421.3 710.2h0M203.3 646.9h0M269.4 634.1h0M196.5 655.1h0M195.8 656.6h0M203.6 740.8h0M262.7 756.8h0M274.5 636.8h0M359.9 647.8h0M229.5 753h0M326.8 754.2h0M410.9 733h0M235.5 637.6h0M363 648.7h0M389.7 666.3h0M231.7 639.5h0M187.7 725.6h0M216 645.5h0M173.5 681h0M406.5 699.2h0M418.5 718.3h0M241.1 637.1h0M250.6 635.6h0M264.9 635.8h0M390.8 670.8h0M348.2 752.8h0M281.4 755.8h0M409.5 732.9h0M399.4 745.2h0M162.8 706h0M340.3 754.1h0M244.3 637.1h0M193.3 665.1h0M168.2 708.6h0M188.8 671h0M390.5 751.7h0M208.9 740.3h0M186.6 673.7h0M228.5 750.9h0M200.9 656.4h0"/>
<path stroke="#0d75dc" d="M286.1 647.3h0M417.1 712.2h0M397.9 745.8h0M381.7 750.5h0M375.6 658.6h0M157.7 697.1h0M401 741h0M372.2 656.4h0M212 650.6h0M416.2 718.4h0M388.8 670.9h0M213.6 741.1h0M305.7 749.6h0M386.9 668h0M391 679h0M314 748.9h0M277.4 754.7h0M159.9 691.9h0M318.6 748.7h0M379.7 749.3h0M260.3 750.4h0M318.5 748.5h0M257.8 749.6h0M186.1 676.6h0M224.9 747.5h0M239.2 750h0M291.9 751.3h0M413 711.7h0M181.8 714.4h0M390.2 681.4h0"/>
<path stroke="#1079da" d="M204.2 735.4h0M354.9 656.9h0M180 711.6h0M333.9 658.8h0M360.3 656h0M364.1 656.3h0M268.1 642.5h0M297.9 649.1h0M235.8 748.8h0M412.6 718.5h0M161.3 696.4h0M310.3 645.6h0M309.2 745.9h0M387.1 678.5h0M412.2 715.6h0M254.6 747h0M246 641.3h0M182.1 682.4h0M406.1 707.6h0M308.3 745.7h0M340.3 660h0M167.5 688.7h0M411.8 719.1h0M165.9 689.7h0M272.3 645.6h0M258.7 640.8h0M219.4 651.6h0M319.2 651.9h0M306.2 646.4h0M326.8 657.6h0M310.9 646.5h0M328.8 658.6h0M399.8 699.5h0M401.9 703.2h0M216.9 653.3h0M203.4 733h0M407.3 727.7h0M295.6 652h0M264.6 748.5h0M228.3 745.9h0M168.7 702.9h0M395.5 739.9h0"/>
<path stroke="#1481d6" d="M277.7 649.7h0M180.6 708.8h0M234.4 646.7h0M163.9 697h0M208.2 734.1h0M226.1 744.2h0M164.9 699.3h0M384.6 745.3h0M346.3 661.5h0M186.8 713.8h0M383.5 677.5h0M357.5 660.3h0M385.8 683.2h0M284.9 652.5h0M174.4 687.8h0M379.9 670h0M292.8 747.8h0M222.3 740.8h0M185.3 711.7h0M327 745.9h0M187.3 681.2h0M172.2 688.7h0M375 665.6h0M168 701.1h0M178.5 687h0M364.7 660.9h0M185.1 683.6h0M388.4 743.3h0M407.8 714.7h0M165.5 696.8h0M350.8 662.9h0M226.5 743.3h0M241 746h0M197.8 725.8h0M307.5 649.4h0M387.1 743.2h0M361 662.4h0M169.6 691.5h0M376.2 668.5h0M402.2 708.1h0M306.6 649.9h0M333.5 746.3h0M382.7 685.2h0M272.1 748.9h0M388.9 689.5h0M311.7 650.5h0M278.3 749.3h0M364.6 663.1h0M378.6 682.6h0M319.1 656.2h0M347.4 664h0M167.9 697.1h0M178.8 703.7h0M370.9 743.8h0M296.1 654.9h0M377.8 676.6h0M400.7 731.5h0"/>
<path stroke="#1389d3" d="M369.3 665.4h0M356.9 745.5h0M337.2 663.2h0M262.4 645.1h0M197.8 723.6h0M385.1 742.4h0M204 729.1h0M349.6 746.4h0M188.5 709.8h0M387 690.2h0M395 698.2h0M363 666.2h0M301.1 654.4h0M215.9 733.1h0M318.8 657.8h0M171.6 696.3h0M371.8 669.4h0M404.1 725.1h0M303.5 741.1h0M369.1 667.9h0M266.1 647.2h0M370.1 682.9h0M348 666.2h0M189.4 709.1h0M182.2 691.5h0M187.3 706.2h0M177.3 698.6h0M311 653.7h0M220.4 734.9h0M311.8 738.7h0M372.2 674.4h0M391.9 695.4h0M387 691.5h0M184.6 702.1h0M178.1 695.1h0M371.4 673.1h0M185.5 690.3h0M192.6 712.8h0M369.5 670.9h0M179.6 696.2h0M340.8 665.2h0M395.5 701h0M388.7 738.9h0M315.3 657.1h0M370 674.4h0M197.9 720.8h0M231.1 651.7h0M201.9 725.3h0M209.6 661.5h0M228.4 652.8h0M330.1 663.8h0M302.4 739.8h0M366.9 676.2h0M309.3 655.4h0"/>
<path stroke="#108ed2" d="M195.7 676.3h0M260 646.6h0M187.5 691.9h0M396.4 731.3h0M281.7 746.3h0M305.6 737.5h0M193.9 679.8h0M275.4 746.5h0M293.7 742.7h0M281.2 746.3h0M291.1 743.5h0M189.3 701.3h0M401.5 724h0M364.6 684.7h0M364 681.5h0M299.1 739.9h0M365 690.1h0M347.3 670.1h0M295.6 741.1h0M307.5 658.5h0M371.5 696.4h0M307.6 658.8h0M371.7 740.8h0M390.5 697.9h0M400.8 721.8h0M360.3 678.8h0M232.9 740.9h0M297.9 739.5h0M307.8 659.4h0M190.6 699.2h0M362.4 742h0M344.2 669.3h0M352.5 674.3h0M208.7 726h0M376.3 696.5h0M324.1 739.5h0M400.1 721.8h0M399.4 724h0M384.1 695.3h0M362 741.7h0M207 665.2h0M386.6 696.2h0M345.3 670.5h0M261.7 741.9h0M191.5 690.7h0M397.2 727h0M359.6 742h0"/>
<path stroke="#0998d1" d="M396.9 712.6h0M207.4 724.6h0M239.6 651.5h0M296.3 660.8h0M280.1 745h0M291.3 659.9h0M383.3 737.7h0M244.5 740.9h0M250.7 648.4h0M254.8 648.1h0M341.6 743h0M321.5 665.3h0M201.2 718.5h0M359.3 682.8h0M238.3 740.8h0M398.3 722.2h0M252.6 739.9h0M388.7 698.9h0M364.8 698.8h0M298.3 737.1h0M218.4 728.1h0M313.1 733.6h0M234.3 653.7h0M318.4 665.3h0M369.4 700.4h0M344 671.7h0M246.5 650h0M305.7 662.9h0M375.1 699.3h0M271.4 654.1h0M365 700.8h0M328.7 739.6h0M384.7 735.6h0M296.2 737.5h0M215.9 726.2h0M325.7 738.4h0M396.7 722.2h0M315.6 665.9h0M396.4 719.4h0M202.2 717.2h0M317.7 666.4h0M360.5 696.7h0M290.1 740.3h0M205.8 720.6h0M356.5 684h0M210.2 664.9h0M251 649.8h0"/>
<path stroke="#079ccf" d="M386.8 700.5h0M355.7 683.6h0M232.3 737.3h0M295.9 736.3h0M389.7 704.8h0M248.2 650.9h0M351.2 741.3h0M394.3 717.8h0M391.7 727.1h0M372.7 702.9h0M357.7 691h0M326.1 668.3h0M392.2 712.1h0M364 705.8h0M387.2 702.7h0M370.1 704.5h0M383.9 701.1h0M354.6 684.8h0M366.4 738.2h0M357.6 693.4h0M248 651.4h0M228.7 657.1h0M195.6 694.3h0M387.2 703.4h0M352.5 683h0M353.5 684.1h0M279.4 658.6h0M240.8 738.6h0M353.4 684.2h0M264.4 652.8h0M210.6 721.1h0M253.4 650.8h0M353.3 684.7h0M387.4 704.6h0M381.5 734.2h0M202.4 673.4h0M354.4 739.9h0M321.6 733.6h0M364.1 709.6h0M329.9 670h0M335.6 671.6h0M373.4 736h0"/>
<path stroke="#06a4ca" d="M224.4 728.1h0M349.6 740h0M205.7 670.3h0M206.9 669.2h0M205.6 715.9h0M197.8 684h0M328.2 670.1h0M216.1 722.2h0M198.5 701.2h0M340.2 674.8h0M204.3 713.9h0M355.2 695.2h0M364.8 712.4h0M203.9 712.4h0M356.6 713.7h0M377.8 705.5h0M280.8 660.5h0M329.8 736.5h0M387.5 710.8h0M240.4 736.9h0M321.9 732h0M367.2 735.7h0M198.8 683.4h0M203.5 710.7h0M354 696.3h0M349 685.2h0M357.9 737.3h0M333.8 737.3h0M375.9 707.4h0M378.3 706.8h0M362.7 716.4h0M233.9 734.2h0M270.4 657.2h0M338.1 675.2h0M285.3 663h0M387.6 723h0M386.9 714.2h0M315.2 728.3h0M286.5 738h0M212.8 666.3h0M387.2 723.1h0M351.2 690.3h0M228.1 729.1h0M387.2 721.4h0M365.2 716h0M384.1 727.2h0M199.1 685.5h0"/>
<path stroke="#06a7c6" d="M377 732.2h0M353.3 705.8h0M301.7 728.4h0M231 731.3h0M301.9 669.4h0M244.9 736h0M205.1 710.8h0M208.7 669.5h0M325.6 732.5h0M352.7 710h0M219.6 721.6h0M335.7 736.6h0M382.9 727.3h0M366.1 717h0M336.3 736.7h0M344.1 737.7h0M381 729h0M359.1 722h0M352.5 701.1h0M209.4 714.9h0M370.3 713.8h0M337.9 676.6h0M254.7 653.6h0M359.7 734.8h0M343.3 737.5h0M250 654.2h0M383 712.6h0M321.5 729.3h0M340.7 737.1h0M382.3 712.3h0M376.1 711.2h0M352 708.2h0M364.1 719.8h0M363.3 720.6h0M236.2 733.8h0M199.6 692.2h0M257.9 735.9h0M374.2 731.5h0M382.1 726.5h0M374.4 731.4h0M291 666.9h0M262.2 655.3h0M373.9 713.1h0M362.2 722.6h0M204.8 708.2h0M216.2 718.4h0M313.7 726.3h0M347.1 736.8h0M283.3 663.6h0M279.3 739.6h0M350.6 736h0M379.4 713h0M349.8 736h0M200.4 695.3h0M331 674h0M350.9 735.7h0M354.7 734.6h0M362.6 732.4h0M372.6 715h0M245.6 734.9h0M375.7 729.8h0M247.4 734.9h0M374.3 730.3h0M371.9 730.9h0M311.4 725.7h0M379.4 727.2h0M238.9 734h0M376 714.1h0M273 739.6h0M284.6 664.8h0M229.4 728h0M362.7 731.3h0M273.8 660.4h0M381 717.1h0M280.4 663h0M303.6 671.7h0M310.5 673.2h0M359.4 730.9h0"/>
<path stroke="#0aacbe" d="M361.8 730.4h0M362.1 730.3h0M282.4 664h0M300.8 671.1h0M366.1 730.1h0M325.4 729.6h0M341.4 682.9h0M255.2 654.9h0M238 659h0M297.7 670.3h0M380.6 719.4h0M203 701.8h0M231.2 660.6h0M366 724.2h0M369.9 729.4h0M379.9 721.6h0M348.9 721.4h0M221.4 664.2h0M367 724.3h0M349.7 702.9h0M332.1 732.9h0M349.7 733.8h0M341.2 683.7h0M348.4 713.6h0M378.2 720.6h0M337.1 734.2h0M204.8 704.3h0M322 726.2h0M205.3 675.9h0M339.6 734.4h0M372.6 721.5h0M242.8 733.6h0M350.3 727.9h0M325.5 674.5h0M245.8 733.7h0M282.7 736.9h0M350.2 730.3h0M250.7 656.2h0M338.5 681.3h0M343.3 688.1h0M349.4 727.8h0M230.8 661.5h0M237.5 660.1h0M298.8 726.5h0M295.3 670.9h0M327.3 728.3h0M295.7 671.1h0M205.7 704.3h0M348.2 703.5h0M220.7 665.4h0M346.3 732.1h0M325.9 726.9h0M206.7 675h0M347.1 698.1h0M347.2 698.5h0M266.8 659.2h0M207.5 674.1h0M346 720.5h0M343.4 732.6h0M221.9 665.1h0M347.3 699.5h0M328.4 728.4h0"/>
<path stroke="#15b1b4" d="M315.2 675.3h0M308.9 723.7h0M320.5 723.8h0M285.6 667.6h0M312.5 723.2h0M295.4 671.8h0M336.2 680.8h0M203 693.6h0M321.6 675.7h0M204 681.5h0M316.7 676h0M340.2 686.8h0M344.3 717.9h0M344.8 714.7h0M346.2 707.2h0M229.4 724.9h0M236 661.7h0M203.3 692.8h0M218 667.8h0M333.2 729h0M232.9 727.5h0M229.1 663.5h0M341.6 729.1h0M345.6 707.6h0M281.7 666.5h0M291.6 671.5h0M345.5 703.1h0M213.4 710.6h0M337.3 729h0M342.2 725h0M274.4 663.5h0M326.2 722.6h0M205.4 698.7h0M236.4 662.2h0M337.9 728.5h0M208.5 704.8h0M255.3 657.7h0M300.5 674.5h0M273.4 737.1h0M309.3 676.6h0"/>
<path stroke="#1db3af" d="M220.5 715.9h0M255 732.1h0M224.9 665.7h0M342.4 695.9h0M336.9 725.9h0M343.3 710.5h0M240.7 730.5h0M337.6 686.2h0M304.1 722.3h0M331.5 722.6h0M341.9 713.3h0M293.4 726.6h0M326.2 677.9h0M328.8 720.2h0M205.9 696.2h0M338.5 721h0M282 734.3h0M343.1 706.5h0M265.9 734.7h0M338.9 718.9h0M338.7 719.4h0M216.9 711.6h0M258.3 732.1h0M230.2 664.9h0M266.1 661.5h0M251.5 731.1h0M224.5 666.8h0M339.9 714.7h0M332.1 719.8h0M229.6 665.2h0M268.4 662.5h0M296.6 675.2h0M211.7 674h0M316.4 719.2h0M339 713.8h0M206.6 695.2h0M206.6 681.6h0M333.5 717.6h0"/>
<path stroke="#2eb7a4" d="M333.7 716.8h0M278.4 734.9h0M249.3 730.4h0M331 715.9h0M322 678.7h0M261.4 732.4h0M206.5 683.2h0M209.4 700.8h0M335 715h0M311.7 719.7h0M340.8 703.4h0M218.8 711.8h0M206.1 689.6h0M292.3 726h0M340.5 700.6h0M327.2 679.8h0M302.4 677.4h0M327.3 679.9h0M244.2 662.8h0M268.5 734.5h0M336.4 712.6h0M220.6 713.2h0M259.3 660.4h0M298.2 722.5h0M339.8 704.1h0M336.5 689.9h0M335.3 712.2h0M334.3 712.6h0M268.1 734.1h0M329.9 681.7h0M299.1 677.1h0M209.2 698.4h0M278.7 668.6h0M296.9 722.8h0M228.4 667.3h0M223.5 669.1h0M337.7 694.5h0M212.6 675h0M215.2 673.2h0M336.4 691.2h0M233 723.8h0M326.7 680.7h0M207.2 685.8h0M236.9 665.7h0M338.3 699.8h0M267 733.4h0M207.4 686.5h0M308.9 719h0M319.5 715.5h0"/>
<path stroke="#38b99e" d="M242.3 664.6h0M275.4 667.8h0M337.2 699h0M234.1 723.9h0M275.2 734.1h0M336.8 703h0M226 716.8h0M278.1 733.4h0M289.4 675.8h0M232.4 722.5h0M275.8 668.4h0M231.4 721.6h0M243.5 664.9h0M278.2 733.1h0M292.8 677.1h0M336.2 698.6h0M276.3 733.5h0M312 717.2h0M273.3 667.6h0M260.1 662.5h0M327.1 709.9h0M320.2 713.5h0M313.8 681.2h0M330 684.5h0M323.3 681.5h0M228.2 718.1h0M218.4 707.4h0M303.4 680h0M255.4 662.3h0M321.6 712.1h0M212.7 698.8h0M287.1 676.1h0M228.1 670.1h0M332 688h0"/>
<path stroke="#4dbc92" d="M310.2 681.6h0M226.3 670.9h0M214.1 677.3h0M278.9 671.7h0M276.7 732.6h0M210.1 685.9h0M223.7 712.6h0M304.8 680.9h0M315.7 714.6h0M332.1 689.7h0M329.5 706h0M241.5 667.4h0M329.9 705.7h0M215.6 701.7h0M210.7 685.7h0M259.5 663.6h0M212.2 693.9h0M320.2 682.7h0M253.1 727.9h0M231.4 670.6h0M218.6 675.4h0M303 717.9h0M215.6 700.6h0M214.3 678.7h0M310.6 682.6h0M215.5 677.7h0M214 679.1h0M211.7 683.6h0M257.2 728.3h0M325.3 684.3h0M238.9 669.2h0M217.9 703.6h0M312.9 714.7h0M212.2 684h0M331.3 701.1h0M332.1 696.4h0M327.5 705.2h0M216.1 699.6h0"/>
<path stroke="#59bd8c" d="M315.8 683.5h0M326 685.2h0M226.3 673.4h0M267.1 730.8h0M258.5 664.3h0M217 700.6h0M243.1 668.3h0M219.5 677h0M216.6 698.8h0M328 687.5h0M216.1 679.6h0M304.8 716.4h0M324.7 685.5h0M276.7 730.9h0M329.5 701.2h0M327.4 687.3h0M249.3 666.2h0M213.8 687.3h0M296 681h0M214.3 683.7h0M214.4 683.7h0M217.2 698.6h0M235.1 672.2h0M288.1 723.9h0M330.6 695.9h0M228.7 674.2h0M272.7 670.9h0M214.5 688.2h0M315 684.6h0M216.1 694.5h0M228.7 715.5h0M268.1 668.7h0M241.9 724.6h0M216.9 680.9h0M314 712.4h0M221.8 677.4h0M314.9 711.9h0M290.5 722h0M230.5 674.3h0M300.3 682.4h0M306.2 683.7h0M282.4 677.8h0M316.6 685h0M224.2 677.1h0M252.3 666h0M221.5 678.5h0"/>
<path stroke="#71bf80" d="M244.4 669.5h0M311.2 713.2h0M216.3 686.7h0M260.6 666.4h0M254.3 666h0M283.8 679.2h0M224.2 708.8h0M241.8 724h0M322.9 704.7h0M276.9 729.5h0M298.4 716.8h0M221.8 704.1h0M325.7 701.7h0M311.5 712.3h0M309.2 713.3h0M287.5 681.1h0M272 672.2h0M229.8 715.4h0M218.7 690.7h0M275.3 674.6h0M219.9 697.9h0M311.4 712h0M314.4 710h0M231.1 677.4h0M232.3 676.9h0M264.8 728h0M268.2 670.6h0M222.6 682.9h0M275.3 675.1h0M285 724.2h0M258.2 667.1h0"/>
<path stroke="#87bf77" d="M246.4 724.3h0M270.1 672h0M326.5 696.8h0M326.3 695.3h0M222.3 686.7h0M273.6 674.6h0M249.2 724.5h0M323.3 701.6h0M232.1 678.6h0M273.2 729h0M319 705.4h0M291.8 683.1h0M276.6 728.3h0M253.6 667.9h0M253 668.2h0M252.4 668.3h0M222.5 689.1h0M237.9 676.3h0M227.3 682.8h0M238.7 676h0M287.9 683h0M242.5 722.7h0M223.8 704.4h0M304.4 685.7h0M222.9 701.5h0M291 719.1h0M323.6 699.7h0M271.8 728.5h0M318.1 688.6h0M320.9 689.6h0M301.5 713.9h0M272.7 728.4h0M277 678.4h0M308.1 687h0M231.4 681.1h0M255.9 668.4h0M306.3 712.3h0M324.2 696.6h0M323 691.7h0M272.4 728.2h0M251.1 669.7h0M280 680.9h0M277 678.9h0M224.5 689.8h0M277.9 679.7h0"/>
<path stroke="#92bf73" d="M260.6 669.3h0M235.5 679.4h0M230.6 714h0M223.3 695.9h0M301.7 713.3h0M227.3 686.4h0M274.4 677.3h0M321.5 691.6h0M281.2 682.2h0M308.6 710.7h0M321.8 692.2h0M224.3 702.7h0M285.9 721.7h0M224.2 693.2h0M322 698.5h0M299.9 685.7h0M322.5 697h0M322.5 696.7h0M320.2 691.7h0M246.6 673.3h0M287.6 720.1h0M255.2 669.7h0M237.8 679.5h0M320.9 693.2h0M320.3 699.3h0M305.1 687.5h0M233.9 682.5h0M245.2 722.3h0M258.3 724.2h0M315.9 704.3h0M312.1 689.8h0M288.1 719.2h0M271.8 726.9h0M232.9 683.9h0M243.5 676.5h0M230.5 686.4h0M319.7 698.5h0M230.4 686.7h0M248.9 722.7h0"/>
<path stroke="#a5be6b" d="M252.1 671.4h0M264.4 725.2h0M273.2 678.7h0M225.4 699.4h0M257.6 670.8h0M272.6 678.4h0M260.5 671.3h0M271.1 726.3h0M243.9 677.2h0M317.6 700.2h0M309.7 708h0M317.8 694.3h0M242.9 678.3h0M282.6 722h0M274.3 680.5h0M287.7 718.4h0M228.2 691.7h0M290 686.6h0M316.5 694.1h0M317.2 695h0M257.6 671.5h0M316.3 694.1h0M255.8 671.6h0M269.2 725.5h0M293.2 686.8h0M276.2 725h0M227.2 704.9h0M235.4 684.6h0M291.5 715.5h0M266.3 724.6h0M227.3 695.7h0M294.1 713.7h0"/>
<path stroke="#aebe67" d="M292 687.2h0M259.2 672.5h0M242.2 680.3h0M283 687h0M276.5 724.2h0M249.6 721.5h0M312.6 703.1h0M283.1 720.5h0M231.2 690.1h0M314.2 699.4h0M235 715.1h0M296.9 688.4h0M273.1 724.3h0M295.6 711.8h0M240.8 682.9h0M300.1 709.9h0M300.5 689.4h0M309.4 693.1h0M312.1 695.2h0M281.3 688.3h0M288.8 688.6h0M267.4 723.6h0"/>
<path stroke="#c0bc60" d="M290.4 714.1h0M278.7 688.2h0M245.2 680.3h0M312.1 697.1h0M229.3 706.1h0M282.5 689.2h0M266.2 677.5h0M284.9 717.9h0M311.7 698.8h0M296.3 689.3h0M264.3 676.7h0M241.8 683.3h0M285.7 716.9h0M287.5 689.6h0M310.3 701.8h0M228.7 700h0M277.7 721.6h0M273.1 685.2h0M249.4 678.2h0M303.7 691.7h0M232.3 691.9h0M279.7 690h0M306.9 704.8h0M307.6 704.1h0M234.3 690h0M256.1 675.4h0M290 713.2h0M273.3 686.1h0M279.6 690.3h0M307.9 703.6h0M291.6 712.1h0M248.5 679.4h0M241.1 684.9h0M305.4 705.2h0M284.4 716.7h0M273.9 687.8h0M231.3 694.6h0M261.3 721.1h0"/>
<path stroke="#c8bc5d" d="M299.3 708h0M254.5 676.6h0M277.2 690.7h0M300.3 707.6h0M286 691.3h0M303.9 705.3h0M307.5 696.9h0M236.8 689.1h0M287.3 713.7h0M263.7 678.8h0M292.2 691.1h0M270 721.6h0M234.5 711.9h0M254.2 678.1h0M305.1 703.3h0M301.6 693.1h0M232.1 708h0M271.6 688.4h0M302.1 693.6h0M275 692.4h0M299.9 706.1h0M259 678.1h0M304.7 695.7h0M233.8 693.3h0M279.7 694.4h0M284.6 714.3h0"/>
<path stroke="#d9ba56" d="M303 694.8h0M304.9 697.1h0M255.4 678.9h0M231.1 703.8h0M270.2 688.6h0M269.6 687.6h0M291.9 708.7h0M288 711h0M286.5 694.2h0M278.6 717.5h0M303.3 696h0M260.2 679.5h0M257.7 679.2h0M282.4 714.9h0M275.6 718.9h0M300.6 694.5h0M304 698.9h0M297.6 693.7h0M246.5 684.7h0M245.6 717.5h0M282.7 696.3h0M244.9 685.7h0M293.9 693.5h0M274.5 695.6h0M258.5 680h0M256.5 680.1h0M231.7 703.1h0M267.3 686.7h0M292.1 693.9h0M253.7 681h0M273 718.8h0M302.6 701.1h0M269.8 691h0M263.3 682.5h0M279 698h0M282.4 697.6h0M278.9 716h0M299 703.9h0M272.7 718.6h0M235.7 711.2h0M276.1 697.8h0M272.1 694.8h0M301.3 702.2h0M261.5 718.6h0M280.2 698.4h0"/>
<path stroke="#e9b94e" d="M288 708.8h0M246 685.7h0M266.8 718.9h0M249.1 683.9h0M282.7 712.7h0M291.3 695h0M261.6 682.2h0M289.1 695.7h0M277.6 716h0M264.5 684.8h0M250.6 717.7h0M270.6 694.3h0M300.7 697.3h0M285.5 709.6h0M236.8 692.6h0M234.7 709.4h0M287.8 696.7h0M298.8 702.9h0M301 700.2h0M261.9 682.9h0M283.4 699.3h0M295.3 695.4h0M238.6 713.5h0M251.1 717.6h0M299.6 697.2h0M295.4 695.5h0M248.8 717.3h0M300 700.7h0M259 682.1h0M263.6 684.8h0M289.1 706.2h0M290.7 696.5h0M262.7 684.3h0M243.8 716h0M288.7 697.6h0M250 717.3h0M294.6 696.2h0M265.9 688.4h0M297.4 702h0M246.5 716.6h0M259 717.5h0M262.4 684.6h0M281.4 702.8h0M256.1 682.8h0M285.1 706.3h0M295.3 697.1h0M296.1 697.4h0M264.9 688h0M279.7 711.9h0M293.4 697.3h0M280.6 710.9h0M291.1 703.5h0M266.3 717.3h0M290.3 698.6h0M288.8 703.7h0M286.5 702.7h0M283.5 704.2h0M268.5 694.8h0M282.3 707.9h0M273.7 715.7h0M276.7 714h0M255.2 683.4h0"/>
<path stroke="#f1b94a" d="M290 702.8h0M282.4 705.2h0M296.2 699.8h0M249.8 685.5h0M264.3 687.8h0M296 699.6h0M281.2 708.3h0M271.9 700.1h0M281.3 706h0M264 717h0M233.9 698.8h0M280.4 707.3h0M280.2 706.9h0M278.7 710.3h0M259.6 716.7h0M271.1 700.5h0M264.9 690.3h0M257.5 716.7h0M247.1 716.1h0M260 685.3h0M259.5 685.3h0M240.9 713.7h0M247.3 715.9h0M267.7 697.3h0M240.6 713.3h0M274.9 706.6h0M266.7 695.5h0M274.4 712.1h0M234.5 699.3h0M240.9 713.4h0M234.6 705.9h0M269.5 714.8h0M273.6 706.3h0M255 716.1h0M259.4 715.9h0M262.8 689.7h0M271.9 713h0M272.3 712.6h0"/>
<path stroke="#fdbe3d" d="M240.4 692.3h0M262.2 715.4h0M261.5 715.3h0M234.7 704.2h0M272.3 707.7h0M272.2 710.7h0M268.8 713.6h0M264.9 714.7h0M234.6 702.2h0M269.4 703.6h0M254.9 686.8h0M262.9 714.8h0M268.8 703.2h0M250.9 687.8h0M269.6 707.1h0M269.2 706.6h0M267.2 702.5h0M244.2 713.8h0M257.9 688.9h0M243.9 713.6h0M236.9 697.6h0M268.4 707.6h0"/>
<path stroke="#ffc337" d="M241.1 712h0M253.8 714.8h0M236.4 706.5h0M235.6 702.6h0M266.3 702.4h0M262.1 713.5h0M235.7 701.9h0M267.6 707.4h0M265.7 711.3h0M265.1 700.7h0M255 689.1h0M240.7 711.3h0M264.4 711.5h0M260.4 713.2h0M264.2 700.4h0M264.4 710.8h0M260.1 693.4h0M263.5 699.8h0M257.9 713h0M250.4 690.6h0M238.6 708.4h0M260.5 694.9h0M261.5 711.5h0"/>
<path stroke="#fcce2e" d="M258 692.4h0M258.6 712.4h0M241.1 710.3h0M257.8 693.2h0M255.7 691.9h0M262.9 702.8h0M257.9 712.1h0M262.9 703.6h0M245.1 712.1h0M238.1 700.1h0M250.2 692.2h0M238.5 700.2h0M261.9 703.8h0M248.7 692.6h0M238.2 704.5h0M253.2 712.2h0"/>
<path stroke="#fad32a" d="M240.9 696.9h0M243.6 710.9h0M261.4 704.7h0M240.3 708h0M258.4 709.5h0M255.3 711h0M246.4 711.4h0M247.5 693.8h0M248 693.7h0M257.5 709.8h0M250.8 693.6h0M239.1 703h0M239.7 700.1h0M258.4 699.3h0"/>
<path stroke="#f5de21" d="M247.6 694.8h0M250.8 694.5h0M246.2 695.3h0M243.3 696.9h0M242 698.1h0M255.7 697h0M258.6 703h0M240.9 699.6h0M241.1 706.7h0M240.1 703h0M243.2 708.6h0M242 698.7h0M252.3 695.5h0M240.4 702.5h0M244.7 708.9h0M240.8 702.4h0M254.6 708.2h0M245.2 697.2h0"/>
<path stroke="#f5eb18" d="M256.4 704.8h0M243.3 699.2h0M254 698.7h0M243.3 706.6h0M249.8 697.1h0M253.4 699.5h0M254.5 704.3h0"/>
<path stroke="#f6f313" d="M249.5 698.4h0M250.6 698.8h0M252.5 706.2h0M251.6 699.4h0M250.8 706.8h0M246.5 706.7h0M253.1 702.2h0M251 700h0M252.4 702.1h0M247.1 699.8h0M244.9 702.4h0M251 705.3h0M248.8 700.1h0M249.6 705.4h0M245.6 702.4h0M250.8 701.9h0M250.4 704.6h0M250.6 701.9h0M246.7 701.8h0M249 702h0M247.5 703.3h0M248.2 703.6h0"/>
</g>
<path d="M106.4 487.8V804H507.6M106.4 804v-3.6M156.6 804v-3.6M206.8 804v-3.6M257 804v-3.6M307.2 804v-3.6M357.4 804v-3.6M407.6 804v-3.6M457.8 804v-3.6M508 804v-3.6M106.4 804h3.6M106.4 768.9h3.6M106.4 733.7h3.6M106.4 698.6h3.6M106.4 663.4h3.6M106.4 628.3h3.6M106.4 593.2h3.6M106.4 558h3.6M106.4 522.9h3.6M106.4 487.7h3.6" fill="none" stroke="#3c3c3c" stroke-width="1.05"/>
<text class="ss" transform="translate(106.4 823.3) scale(0.94 1)" font-size="13.2" fill="#262626" text-anchor="middle">1.5</text>
<text class="ss" transform="translate(156.6 823.3) scale(0.94 1)" font-size="13.2" fill="#262626" text-anchor="middle">2</text>
<text class="ss" transform="translate(206.8 823.3) scale(0.94 1)" font-size="13.2" fill="#262626" text-anchor="middle">2.5</text>
<text class="ss" transform="translate(257 823.3) scale(0.94 1)" font-size="13.2" fill="#262626" text-anchor="middle">3</text>
<text class="ss" transform="translate(307.2 823.3) scale(0.94 1)" font-size="13.2" fill="#262626" text-anchor="middle">3.5</text>
<text class="ss" transform="translate(357.4 823.3) scale(0.94 1)" font-size="13.2" fill="#262626" text-anchor="middle">4</text>
<text class="ss" transform="translate(407.6 823.3) scale(0.94 1)" font-size="13.2" fill="#262626" text-anchor="middle">4.5</text>
<text class="ss" transform="translate(457.8 823.3) scale(0.94 1)" font-size="13.2" fill="#262626" text-anchor="middle">5</text>
<text class="ss" transform="translate(508 823.3) scale(0.94 1)" font-size="13.2" fill="#262626" text-anchor="middle">5.5</text>
<text class="ss" transform="translate(99.6 809.7) scale(0.94 1)" font-size="13.2" fill="#262626" text-anchor="end">2.8</text>
<text class="ss" transform="translate(99.6 774.6) scale(0.94 1)" font-size="13.2" fill="#262626" text-anchor="end">3</text>
<text class="ss" transform="translate(99.6 739.4) scale(0.94 1)" font-size="13.2" fill="#262626" text-anchor="end">3.2</text>
<text class="ss" transform="translate(99.6 704.3) scale(0.94 1)" font-size="13.2" fill="#262626" text-anchor="end">3.4</text>
<text class="ss" transform="translate(99.6 669.2) scale(0.94 1)" font-size="13.2" fill="#262626" text-anchor="end">3.6</text>
<text class="ss" transform="translate(99.6 634) scale(0.94 1)" font-size="13.2" fill="#262626" text-anchor="end">3.8</text>
<text class="ss" transform="translate(99.6 598.9) scale(0.94 1)" font-size="13.2" fill="#262626" text-anchor="end">4</text>
<text class="ss" transform="translate(99.6 563.7) scale(0.94 1)" font-size="13.2" fill="#262626" text-anchor="end">4.2</text>
<text class="ss" transform="translate(99.6 528.6) scale(0.94 1)" font-size="13.2" fill="#262626" text-anchor="end">4.4</text>
<text class="ss" transform="translate(99.6 493.5) scale(0.94 1)" font-size="13.2" fill="#262626" text-anchor="end">4.6</text>
<rect x="136.9" y="628.4" width="324.2" height="124.3" fill="none" stroke="#000" stroke-width="2.3"/>
<text class="ss" font-size="100" stroke="#000" stroke-width="2.46" stroke-linejoin="miter" transform="matrix(0.5119 0 0 0.5051 4.73 487.68)">B</text>
<text class="sf" transform="translate(298 866.7) scale(0.95 1)" font-size="36.8" text-anchor="middle">CD41</text>
<text class="sf" transform="translate(67.5 634.5) rotate(-90) scale(0.94 1)" font-size="36.8" text-anchor="middle">DENV</text>
</g>
<g id="panelC">
<g stroke-linecap="square" stroke-width="2.6" fill="none">
<path stroke="#363093" d="M1124 729h0M1179 580h0M1153 548h0M1093 668h0M874.4 687.1h0M1131 637h0M878.2 719.6h0M1073.1 648.4h0M1073.3 536.2h0M1120 516h0M890.9 697.8h0M1003.8 736.6h0M911.8 670.7h0M988 776.1h0M1113.1 629.7h0M1036.6 680.4h0M1101.3 534.9h0M1017.5 741.9h0M1057.6 683.1h0M1101.7 629.3h0M993.4 594.1h0M1105 620.1h0M997.9 758.1h0M1094.2 609.6h0M1064.3 668h0M1105.8 519.4h0M1069 613.4h0M1051.7 694.8h0M972.8 613.7h0M904.8 689.2h0M1065 635.2h0M1047.9 671.2h0M931.8 648.6h0M996.9 768.2h0M1104 526h0M1017.4 728.5h0M1027.4 727h0M920.9 677.6h0M989.7 763.2h0M1059.2 672.2h0M1040.5 697h0M1026.1 733.4h0M1043.4 662.2h0M907.7 696h0M1087.7 618.4h0"/>
<path stroke="#3637a0" d="M1068 552.1h0M1087.2 616.6h0M937.5 648.9h0M880.2 779.9h0M1017.2 703.6h0M1046.4 703.5h0M926.9 667.9h0M976.8 760.2h0M961.7 630.5h0M1037.4 708.8h0M1015.6 712.5h0M871 769h0M1019.2 710.2h0M1038.4 708.9h0M1089.5 563.3h0M1078.4 590.6h0M1086.8 551.9h0M1071.8 553.3h0M1091.2 556.3h0M962.9 763.3h0M853 756h0M851.7 748.9h0M1058.8 630.6h0M862 749h0M862.9 751.3h0M996.1 724.9h0M876 751.1h0M853.4 752.4h0M900 713.7h0M1077.4 561.9h0M1083.4 558.9h0M1059.6 563.8h0M992.4 607.5h0M1073.3 565.8h0M971.7 755.7h0M966.8 760.1h0M1030.4 667.6h0M1061.3 618.9h0M879.2 752.2h0M918.4 690.9h0M885.6 738.8h0M876.8 764.4h0M951.4 646.9h0M978.1 620h0M999.1 602.1h0M1050.5 640.4h0M1074 589.5h0M1021.7 678.3h0"/>
<path stroke="#3243ba" d="M999.4 717.9h0M938.2 660.3h0M1073 573.2h0M1018.6 684.2h0M1010.8 692.4h0M879.7 768.5h0M1072.9 578.2h0M883.6 752.2h0M882.1 770.8h0M948.5 761.7h0M898.6 719.5h0M936.7 664h0M967 752.8h0M1027.5 586.2h0M965 637.3h0M964.3 637.9h0M892.7 777.6h0M1048.3 568.4h0M955.4 647.2h0M1001.3 709h0M895.9 729.9h0M891.1 737.5h0M908 779.9h0M1057.9 568.8h0M904.2 779.4h0M886.6 762.5h0M913.1 779h0M893 775.2h0M891.2 738.4h0M1044.9 641.5h0M1042.9 572.8h0M970.2 741.7h0"/>
<path stroke="#2053d4" d="M1013.3 685.5h0M926.5 770.1h0M889.3 768.6h0M950.7 655h0M918.5 775.2h0M1066.4 576.5h0M936 671.7h0M994.4 714.2h0M988.5 719.2h0M981.7 623.6h0M920.4 773.5h0M900.4 724.5h0M974.2 733.4h0M1064.6 575.3h0M1011.9 595.4h0M1067.1 588.4h0M1041.1 578.3h0M996.6 613.9h0M973.3 734.1h0M892.2 746.6h0M981.4 625.1h0M997.5 709.1h0M1006.3 604.3h0M929.8 766.2h0M982.5 723.9h0M1010.9 597.3h0M1041.7 579.3h0M912.9 775.9h0M998.8 705h0M1040.3 586.6h0M1065.5 587.1h0M1061.4 595.1h0M996.4 615.7h0M1054.5 615.9h0M1046.3 633.3h0M892 757.7h0M896.1 771.9h0M922 695.4h0M1062.1 577.1h0"/>
<path stroke="#0f5cdd" d="M970.5 639.6h0M1008.6 685.9h0M1011.7 598.1h0M922.9 767.7h0M1035.7 652.1h0M1045.6 632.9h0M991.8 711h0M1043.9 582.2h0M1061 593.4h0M1044.1 582.2h0M982.5 721.4h0M896.9 770.8h0M953.6 752.8h0M938.5 760.4h0M896.8 741.1h0M894.3 755.3h0M1022.7 593.1h0M996.1 617.6h0M966.3 740.7h0M1060.2 593.1h0M1062 590.4h0M1056.2 575.1h0M894.3 757.7h0M1053.1 614.6h0M1038.1 643.6h0M977.5 725.9h0M1046.8 577.7h0M1054.6 597.3h0M1052.8 602h0M1036.3 591.9h0M1061.2 588.7h0M904.1 726.6h0M999.1 696.7h0M1052.1 575.5h0M998.3 617h0M917.6 768.4h0M1055.1 576.2h0M1055.7 594.6h0M906.6 721.7h0M1059.6 582h0M902.1 733.5h0M1049.1 577.7h0M1051.1 576.8h0M895.6 758.4h0M1051 618.6h0M1042.7 634.3h0M903.5 730.5h0M898.4 742.5h0M962.5 648.4h0"/>
<path stroke="#0268e1" d="M897.7 747.3h0M1054.9 590.8h0M901.8 770.7h0M1055.2 579.2h0M945.6 665.4h0M1054.8 588.7h0M918.6 765.7h0M1031 594h0M952.5 751.1h0M993.2 705.6h0M1053.9 584.8h0M1052.4 582.9h0M1053.1 582.9h0M962.8 742.6h0M1022.9 595.2h0M1048 595.2h0M1024.8 594.9h0M997.2 698.1h0M1049.9 598.9h0M1031.7 594.4h0M958 747.3h0M898.2 764.2h0M943.4 755.2h0M923.5 763.2h0M1042.5 594.8h0M962.5 649.5h0M912.9 714.2h0M903.9 769.8h0M905.6 770.2h0M1048.8 599.4h0M1019.3 665.8h0M1045.3 596h0M900.4 742.8h0M908.4 769.9h0M900.6 767h0M983.1 715.7h0M1033.3 648.5h0M908 769.7h0M1034.4 643.8h0M1032 651.2h0M1030.3 654.2h0M1040.2 595.7h0M960.5 743.7h0M1050 613.8h0M1003.8 685.3h0M929.8 760.8h0M1006.9 613.6h0M899.2 759.7h0M1012.8 605.4h0M951.8 749.7h0M1033.2 646.5h0M1017 599.6h0M992.5 703.9h0M978.8 636h0M1013.6 604.4h0M910.4 720.2h0M1034 642.4h0M910.1 767.5h0M899.9 760.5h0"/>
<path stroke="#046de0" d="M917.5 707.9h0M1028.5 655.4h0M1029.4 596.9h0M1043.9 627.2h0M908.3 766.9h0M941.2 674.4h0M935.4 757.7h0M957.8 744.7h0M949.8 749.5h0M991.9 703.1h0M946.4 751.1h0M941.4 754h0M933.2 686.7h0M981.7 715.5h0M1043.6 599.5h0M902.6 743.6h0M1011.4 675.1h0M902.3 746.8h0M912.1 719.2h0M902.8 762h0M1031.1 646.3h0M1010 613.1h0M956.8 744.7h0M937 756h0M1046.4 606.6h0M1013.2 671.4h0M976.5 721.3h0M1028.2 653.2h0M1023.1 599.6h0M1012.3 672.7h0M1047.2 610.6h0M910.2 763.2h0M972.2 725.6h0M1034.5 599.3h0M1007.5 678.8h0M1033.9 636.5h0M984.8 630.8h0"/>
<path stroke="#0d75dc" d="M1018.9 602.3h0M1046.8 615.4h0M930.3 691.5h0M1024.6 657.1h0M1046.6 614.1h0M1044.8 605.9h0M1037.7 600.6h0M904 747.8h0M1002.4 683.4h0M970.6 726.6h0M909.1 761.6h0M942.5 751.2h0M909.7 728.3h0M944.1 672.5h0M913 760.5h0M1046.2 611.6h0M1041.5 602.6h0M1044 621.9h0M989.8 627.3h0M1026.9 600.6h0M1040 602.3h0M910.8 760.5h0M927.6 758.5h0M1037.4 601.5h0M904.5 751.1h0M939.3 680.1h0M1034.3 601.2h0M1009 616.3h0M1042.2 604.2h0M1018.6 661.9h0M935.6 755.2h0M1045.5 615.2h0M906.8 758.8h0M989 628.2h0M907 737.9h0M1028.9 642h0M1020.2 603.5h0M905.7 756.2h0M1044.7 609.5h0M1036.5 632.4h0M1020.1 603.9h0M1018.2 606.3h0M1020.5 659.8h0M909.1 759.4h0M1019.1 605.2h0M906.8 757.5h0M960.2 738h0M1019.8 605h0M950.4 666.5h0M995.9 691.5h0M907.9 757.6h0M1014.5 612.8h0M938.7 752.5h0M1030.2 637h0M911.3 726.7h0M1035.2 632.7h0M1042.3 607.5h0M955.5 661.5h0M1028.1 639.9h0M995.7 691.6h0"/>
<path stroke="#1079da" d="M965.1 730.9h0M909.7 757.3h0M918 712.7h0M1023.8 603.9h0M945 673.1h0M1043.7 617h0M1023.3 604.4h0M971.9 646.9h0M1023 656.2h0M1021.2 606.5h0M1012.2 616h0M924.3 757.3h0M1028.9 636h0M993.5 694.5h0M1018.8 610.7h0M908.9 754.5h0M988.7 701.8h0M1038.3 607.3h0M997.6 625.8h0M1032.3 605.5h0M907.5 749.4h0M914.5 721.9h0M1008.7 619.3h0M1010.3 671.1h0M962.3 733h0M998.3 625.6h0M916.9 716.7h0M1039.5 625.9h0M947.3 746h0M1010.4 618.3h0M1023.2 654.5h0M916 719h0M1028.8 606h0M908.6 752h0M1042 616.7h0M994.7 627.3h0M993.8 627.7h0M907.8 745.5h0M1032.1 606.6h0M957.4 661h0M959 736.6h0M1020.6 657.1h0M1031.7 607.1h0"/>
<path stroke="#1481d6" d="M989.5 630.3h0M1041.3 616.9h0M1029.8 607.4h0M1023.3 609.4h0M947 672.4h0M955.2 740.5h0M1039.4 624.6h0M1039.4 611.5h0M1040.7 614.1h0M1035.2 608.7h0M1013 617.6h0M1027.4 607.9h0M1004.6 676.7h0M1024.4 641.7h0M943.5 677.2h0M1023.9 651.2h0M910.5 736.1h0M1024.6 647.5h0M981.8 708.8h0M1006.8 674h0M1036.7 627.9h0M955 740.2h0M913.3 728.2h0M1024.5 610.1h0M1032.2 609.2h0M1036.8 627.5h0M943.9 746.4h0M909.7 740.5h0M1005.9 622.9h0M909.1 746.6h0M977 644.3h0M911.1 735.7h0M1010.7 620.1h0M988 632.4h0M1020 656.1h0M1000.8 680.3h0M1033.9 629.4h0M930.2 696.2h0M912.8 731.1h0M930.2 696.3h0M962.6 656.6h0M1007.3 622.6h0M963.4 655.9h0M924 755.2h0M914.2 753.6h0M1039.1 616.3h0M964.5 654.9h0M1002.9 677.3h0M1034.6 628.5h0M1038.6 622.5h0M1023 643.5h0M1032.8 611.4h0M1000.3 680.4h0M1022.8 639.1h0M1035.9 612.9h0M949.9 670.6h0M993.5 629.5h0M1023 637.9h0M927.9 754.4h0M1003.6 625.4h0M1017.2 617.5h0M925.2 704.3h0"/>
<path stroke="#1389d3" d="M1019.3 616.3h0M1027.4 612.2h0M1028 612.1h0M948.3 743.3h0M949.7 671.2h0M1017.7 657.1h0M931.2 752.9h0M1011.4 665.1h0M1020.8 653.4h0M1026.6 632h0M914.6 752.5h0M1005 674h0M924.8 705.7h0M924.2 706.6h0M1023.1 635h0M1036.9 616.7h0M962.6 729.3h0M1035 626.2h0M990.8 631.9h0M922.2 710.7h0M950.8 670.6h0M956 665.3h0M912.8 749.7h0M956.7 735.9h0M1008.7 668.5h0M977.1 713.4h0M985.8 701.7h0M1022.5 616.6h0M975.8 715.2h0M1007.4 624.7h0M1009.7 666.4h0M1012.2 622.2h0M961.7 729.7h0M992 691.8h0M1021.3 618h0M1029.6 615.2h0M930.7 751.9h0M912.1 744.6h0M917.6 752.2h0M924.2 753.3h0"/>
<path stroke="#108ed2" d="M927.1 703.5h0M994 687.6h0M1035.5 622.6h0M988.2 634.8h0M982.5 641.2h0M913.1 747.9h0M982.5 641.2h0M1010.7 623.7h0M918.7 752.3h0M913.1 738.3h0M1022.5 618.2h0M1009.4 665.9h0M1022.6 632.1h0M920.9 715.8h0M915.6 750.5h0M912.8 741h0M1020.3 648.6h0M924.2 708.8h0M1020.2 645.3h0M1034.8 620h0M1021.1 619.6h0M1022.3 619h0M962.5 659.3h0M932 750.6h0M912.8 744.4h0M1032.5 625.6h0M1021.9 619.3h0M1024.4 618.1h0M1034.6 619.9h0M1033.7 618.6h0M919.4 720h0M989.2 634.5h0M1020 645.2h0M974.3 716h0M1028.1 627.6h0M915.8 730.6h0M952.5 670.2h0M953.2 737.9h0M921.1 716h0M1034.1 621.5h0M1034.1 621.7h0M997.2 681.4h0M1033.9 620.2h0M932.9 749.7h0M1019.7 645.8h0M987.6 697.8h0M1033.6 621.2h0M1031.8 618.5h0M979.4 708.3h0M1023.2 619.9h0M1028.3 626.7h0M920.9 751.8h0M1033.1 622.2h0M948.6 740.9h0M1015.6 623.3h0M1021.6 630.7h0M929 701.8h0M1019.4 648.8h0M979.4 645.6h0M958.6 664.4h0M1017.7 653.1h0M1026.1 627.1h0M979.4 645.7h0M1002.8 629.2h0M1030.5 624.9h0M915.3 748.2h0M1032.4 621.8h0M1021.2 630.4h0M1028.4 625.8h0M1031.8 620.3h0M1030.8 619.6h0M928.6 751.1h0M935.1 692.7h0M917.6 727.3h0"/>
<path stroke="#0998d1" d="M931.6 749.6h0M1023.6 621.6h0M1023.7 627.3h0M995 632h0M916.1 732.5h0M977.5 647.9h0M1029.5 624.4h0M1008 665.9h0M962.2 660.6h0M1007 627.9h0M1014.3 624.8h0M1028.7 620.3h0M1004.9 670h0M915.8 747.9h0M914.6 739.1h0M914.9 737.9h0M1018.7 648.1h0M1026.4 624.9h0M1008.3 665.1h0M919.1 723.7h0M981.9 643.7h0M923.9 711.4h0M1018.1 650.6h0M998.8 677.7h0M1018.4 649.6h0M1022.9 624h0M1009.8 627.1h0M1026.6 623.5h0M1026.3 623.6h0M1026.7 622.8h0M1017.7 635.8h0M927.2 705.8h0M1017.8 650.4h0M1019.6 628.5h0M915.2 745.5h0M928.3 704.1h0M1007 628.7h0M1019.3 629.1h0M1016.3 625.8h0M1017.6 641.8h0M926 750.9h0M1017.4 626h0M1017.6 626.2h0M955.3 734.1h0M916.7 732.7h0M1008.5 628.4h0M919.5 724.2h0M1017.6 627h0M1015.1 626.7h0M1017.5 631.5h0M938.3 744.3h0M957.4 731.4h0M933.7 747.1h0M978.7 647.8h0M1014.3 627.3h0M924.1 712.3h0M1004.5 630.2h0M1007.1 665.5h0M968.8 655.2h0M1017 631.5h0M1010.7 659.3h0M949.2 675.7h0M927.8 749.8h0M994 633.6h0M916.3 745.4h0M915.8 741.2h0M990.4 690.8h0M1015.1 628.9h0M919.6 725.5h0M1015.7 629.9h0"/>
<path stroke="#079ccf" d="M1015.5 629.7h0M918.5 748.1h0M921.1 749.5h0M1015.6 630h0M954.8 670h0M924 749.9h0M989.5 636.9h0M991 635.7h0M958.6 666.2h0M921.2 749.2h0M922.2 749.5h0M921.3 749.2h0M931.5 700.1h0M1012.7 629.7h0M929.9 748.4h0M1007.8 630.3h0M916.5 739.1h0M1016.5 649.2h0M1014.9 633h0M924.1 713.8h0M1012.3 656.1h0M977.2 709.1h0M922.1 749h0M947.7 739.2h0M956.1 669.2h0M987.5 639.6h0M1004 631.6h0M1003.5 631.8h0M1013.9 653.5h0M917 739.4h0M1013.7 633h0M925.4 711.7h0M946.7 739.5h0M1016.1 646.4h0M1013.8 634h0M967 657.7h0M981.4 646.7h0M973.7 713.9h0M917.2 740.8h0M974.8 652.1h0M1002.6 669.2h0M929.6 747.5h0M1010.2 657.5h0M1010.8 656.7h0M920.3 727.3h0M968.6 656.6h0M996.2 678.6h0M917.5 741h0M922.1 721.4h0M1013.3 635.3h0M969.1 719h0M962.8 662.6h0M946.4 739.2h0"/>
<path stroke="#06a4ca" d="M989.6 638.5h0M926.1 748.1h0M956.2 669.9h0M918.7 744.5h0M1005.2 632.5h0M982.6 646.2h0M985.4 643.2h0M1009.7 632.6h0M943.4 684.2h0M984 699.2h0M944.5 682.8h0M941.4 686.8h0M1004.8 665.2h0M919.2 732.7h0M938.3 742.3h0M1000.1 671.7h0M991.8 685.7h0M1008.9 658.4h0M961.5 725.6h0M921.6 724.5h0M938.9 742h0M1011.2 634.1h0M1004.3 665.6h0M1014.1 650.6h0M1012.1 653.8h0M1010.1 656.4h0M918.6 741h0M935.6 743.3h0M1002.4 633.5h0M1006.7 633.2h0M1011.7 635.9h0M989.9 688.9h0M1004.9 664.1h0M1004.6 664.5h0M936.6 742.5h0M962.9 724h0M1014.2 648.8h0M997.3 675.3h0M966.8 659h0M951.8 734.4h0M976.9 651.8h0M919.8 743.4h0M923.4 746.5h0M993.4 681.9h0M957.6 669.3h0M1003.5 665.6h0M1013.1 640.4h0M924.1 746.6h0M990.1 639.3h0M942.4 740h0M974.4 653.5h0M929.5 745.8h0M932.2 744.5h0M922.8 746.1h0M1012.4 639.2h0M989.7 639.9h0M988 641.7h0M1013.3 649.5h0M923 722.3h0M983.4 698.9h0M995.6 636h0M997.8 673.7h0M999.8 634.8h0M920.3 733.3h0M997.1 674.9h0M1010.7 653.9h0M930.4 704.9h0M922.2 745.1h0M984.3 697.7h0M1013.5 648.1h0"/>
<path stroke="#06a7c6" d="M949.9 735.6h0M963.3 663.5h0M1004 634.6h0M1004.8 662.3h0M1012.7 641.8h0M1005.9 660.4h0M995.2 636.5h0M928.4 708.9h0M1011.2 638.5h0M922.4 725.6h0M997.5 673.7h0M927.6 745.3h0M1002.8 635h0M1007.9 656.9h0M981 649.7h0M927 745.2h0M943 686.1h0M996.9 636.2h0M1012.8 648.4h0M956.2 729h0M920.5 736.7h0M1011 639h0M975.1 653.8h0M1003.5 663.4h0M980.1 702.5h0M926.8 713h0M949.9 735h0M993.8 637.8h0M1001.3 635.5h0M965.2 721.1h0M1011 639.8h0M979.8 651h0M967.8 659.2h0M997.3 636.4h0M979.6 651.2h0M1012 649.1h0M979.5 651.3h0M926.3 744.4h0M939.4 740h0M924.8 719.5h0M922.5 728.2h0M988.6 642.8h0M985.6 646.2h0M1011.2 650.6h0M921.6 733.4h0M1002.7 663.6h0M1011 640.9h0M945.8 737.3h0M970.6 715.5h0M961.7 666.3h0M970.4 657.2h0M921.6 739.7h0M929.3 708.5h0M944.6 684.4h0M998.2 670.8h0M1002.6 636h0M985.6 694.8h0M1001.5 665.1h0M959.9 668.3h0M972 656.2h0M925.4 743.7h0M930.3 743.1h0M1011.4 649.2h0M1004.1 660.8h0M937.2 694.6h0M955.5 728.9h0M928.1 711.4h0M986.3 645.8h0M1010.5 650.9h0M922.7 741.1h0M947.5 736.1h0M965.7 720.1h0M927.1 743.5h0"/>
<path stroke="#0aacbe" d="M922.1 733.8h0M931.9 742.2h0M1010.7 642h0M939.9 691h0M999.5 667.6h0M922.7 731.4h0M987.7 644.8h0M962.1 723.1h0M997.7 637.4h0M1010.2 641.5h0M922.9 730.5h0M984.7 648.2h0M1001.3 664.1h0M993.7 639.3h0M970 715.6h0M936.6 695.9h0M997.6 637.6h0M998.4 637.4h0M937.1 695.3h0M931.9 741.6h0M1008.5 639.5h0M972.6 656.4h0M922.7 736.7h0M998.7 668.3h0M1001.9 662.6h0M994.7 676.3h0M989.1 643.8h0M930.7 706.9h0M1004.3 637.4h0M1005 637.6h0M1004.4 658.3h0M923.9 740.1h0M993.6 678.2h0M930.9 741.5h0M998.1 668.7h0M949.9 679.1h0M991.5 641.8h0M923.2 733.9h0M923.4 731.3h0M941.5 738.1h0M985.5 648.3h0M984.5 649.1h0M967.8 660.5h0M949.4 733.8h0M992.2 641.5h0M990.3 684.1h0M1004.2 638.1h0M998.8 666.5h0M968.5 716.7h0M923.7 736h0M964.1 720.8h0M1009.8 647.2h0M925 739.7h0M996.2 639.1h0M967 718.1h0M925.1 739.6h0M995.6 673.3h0M996.7 639h0M972.6 656.9h0M962.9 721.7h0M935.8 698h0M923.8 734.9h0M924.1 736.6h0M946.1 735.8h0M935.1 739.5h0"/>
<path stroke="#15b1b4" d="M926.6 718.2h0M924 733.1h0M940 691.9h0M924.8 726.3h0M933.2 703.2h0M950.3 732.4h0M1008 642h0M1006.5 640.3h0M977.1 654.7h0M971.1 713.4h0M1007.4 641.4h0M1007.9 642.1h0M938.3 694.5h0M1000.7 661.2h0M1008.1 642.6h0M931.1 740h0M948.6 733.7h0M1008.9 646.3h0M1004.7 655h0M1000.9 660.8h0M1007.9 642.5h0M982.2 697.7h0M959.7 723.9h0M929.2 739.9h0M1005 654.4h0M939.6 737.9h0M927.4 716.8h0M994.1 641.4h0M1001.8 639.2h0M954.4 728.1h0M987.2 648.4h0M928.6 713.9h0M987.2 689.3h0M964.6 665h0M942.5 689h0M929 739.5h0M954.6 675.2h0M971.5 658.2h0M947 734.6h0M929.1 712.7h0M925.2 734.9h0M1008.2 644.9h0M949.8 732.3h0M925.2 734.7h0M930 739.3h0M993.5 642.4h0M957.4 725.5h0M1002.3 657.2h0M1005.4 652.9h0M1008.1 645.1h0M930.8 739.2h0M994.8 641.6h0M1007.6 648.8h0M925.3 733.9h0M933.3 738.7h0M991 681h0M979.4 700.8h0M988.1 648.5h0M945.7 735h0M926.9 720.2h0M925.7 733.8h0M989.7 647h0M986.5 690h0M969.8 660h0M934.3 738.3h0M925.6 732.3h0M993 643.8h0M992.7 644.1h0M1007.3 645.7h0M957.4 725.2h0M999.4 659.9h0M994.6 642.7h0M983.8 694.6h0M952.5 677.8h0M993.9 643.4h0M982.6 652.9h0"/>
<path stroke="#1db3af" d="M968.9 715.1h0M958.1 724.5h0M1006.6 648.3h0M959 723.8h0M1000 658.4h0M1006.7 647.2h0M974.7 656.9h0M936.5 737.6h0M977.9 655.3h0M1004 652.5h0M1000.5 657.2h0M1000.8 656.4h0M947 684h0M927.6 735.9h0M996.7 665.6h0M988 649.9h0M944.3 735.2h0M986 651.4h0M954.9 675.7h0M999.3 658.1h0M1005.9 645.4h0M1000.4 641.5h0M1003.4 642.2h0M953.9 727.5h0M1004.6 650.4h0M945.6 734.3h0M960.4 670.6h0M929.8 736.8h0M995.7 668.2h0M926.9 723.3h0M998 642.3h0M1001 641.9h0M1001.8 653.7h0M959.8 722.8h0M1001.2 654.4h0M941.2 736.1h0M996.8 663.7h0M1004.9 649h0M991.4 647.7h0M932.1 737.2h0M930.2 712.4h0M1004.4 649.6h0M976.6 703.6h0M937.9 696.7h0M929.9 713.4h0M987.6 651.3h0M946.6 684.9h0M980 699h0M991.1 648.8h0M997.8 643.3h0M937.6 736.5h0M1001.8 652.1h0M996.8 661.1h0M998.4 643.3h0M1003.5 644.6h0M1000.7 643.2h0M932.2 736.5h0M927 725.7h0M982.6 654.1h0M1003.4 645h0M997.6 644h0M990.9 649.7h0M1001.2 651.7h0M1002.4 650.1h0M1002.1 644.3h0M988.3 684.2h0M998.2 655.3h0M937.4 736.2h0M935.3 736.4h0M928.1 732.4h0M1001.3 651h0"/>
<path stroke="#2eb7a4" d="M931.3 735.7h0M990.9 650.6h0M932 709.3h0M1002.5 648.4h0M1000.3 651.6h0M1001.1 644.9h0M1000.3 644.6h0M996.1 660.2h0M992.9 649.6h0M1002.1 647h0M997.7 645.6h0M994.7 667.7h0M997.2 654.5h0M990.4 679.4h0M1000.6 650h0M992.4 650.5h0M929.3 733.7h0M931.8 735.5h0M927.6 728.2h0M1000.2 650.2h0M993.7 649.7h0M939 695.8h0M970.5 660.9h0M981.1 696.9h0M997.5 646.5h0M1000.4 646.2h0M995.8 658.1h0M993.8 650.2h0M995.4 661.6h0M998.9 646.4h0M999.2 650.5h0M1000.3 648.8h0M985.3 689.9h0M983 694h0M995.8 656.3h0M991.4 652h0M992.5 674.5h0M997.6 650.7h0M992.3 651.9h0M996.8 650h0M988.5 653.1h0M980 656h0M928.6 720.4h0M977.1 657.2h0M937.8 735.4h0M993.9 653.7h0M967.1 664.6h0M994.7 660.2h0M928.2 724.1h0M928.7 720.8h0M940 694.8h0M950.4 681.4h0M994.3 657.2h0M978.5 699.8h0M928.2 725.4h0M934.6 735.1h0M975.6 703.8h0M945.9 732.5h0M980.4 697.3h0M989 654.1h0M992.8 655.1h0M989.1 654.2h0M944.7 733h0M988.1 654.5h0M931.4 712.8h0M940.5 694.4h0M991.3 655h0M993.7 659.1h0M991.7 655.4h0M984.5 655.4h0M928.7 727.8h0M993.5 668.6h0"/>
<path stroke="#38b99e" d="M979.3 698.4h0M986.1 687.1h0M950.4 728.4h0M992.7 657.7h0M930.1 717.2h0M934.4 705.8h0M985.7 687.7h0M981.8 694.8h0M969.1 712.8h0M928.8 725.3h0M949.9 728.7h0M989.3 679.8h0M991.2 675.6h0M943.6 733h0M930 730.5h0M971.9 661h0M991.3 656.9h0M983.3 656.1h0M971.1 661.7h0M990 677.9h0M929.1 725h0M993 661.3h0M937.1 700.6h0M935.4 734h0M939.7 696.2h0M986.2 656.1h0M931.3 714.6h0M943.5 732.7h0M958.3 674.7h0M939 697.4h0M961.9 719.3h0M950.1 728h0M988.1 656.6h0M966 667.2h0M938.1 733.7h0M939.1 733.7h0M929.6 722.7h0M992.6 668.7h0M989 657.2h0M940.4 733.4h0M935.2 705.1h0M974.3 704.6h0M991 659h0M983.7 690.8h0M949.5 728.3h0M984.1 689.9h0M985.3 656.9h0M968 665.2h0M975.2 659.6h0M929.8 725h0M991.8 671.8h0M931.2 716.4h0M983.3 691.4h0M983.8 657.1h0"/>
<path stroke="#4dbc92" d="M965.3 716.1h0M948.7 684.7h0M958 721.8h0M930 725.5h0M986.6 657.3h0M986.7 683.7h0M982.9 691.9h0M973 706.2h0M945.7 730.8h0M958.5 675h0M953 680.2h0M948.8 684.7h0M948.8 684.8h0M944.2 731.5h0M931.2 717.5h0M930.2 723.8h0M938 700h0M978.3 658.7h0M970.1 710.4h0M965 669.1h0M934.3 708.6h0M930.5 722.7h0M969.6 711h0M974.9 660.3h0M944.8 730.9h0M991.6 664.9h0M961.7 672.5h0M930.5 723.6h0M931.2 727.9h0M939.8 697.3h0M930.7 724.2h0M950.5 683.3h0M971.5 662.8h0M989 677.5h0M990.3 674.1h0M940.9 732.1h0M932.6 729.7h0M935.6 731.8h0M991.2 670.3h0M991.4 667.3h0M978.9 659.1h0M935.5 731.7h0M955.3 723h0M934.6 708.6h0M970 709.9h0M990.2 662.3h0M945.1 690.1h0M973.5 704.6h0M973.5 661.6h0M990.2 662.5h0M977.1 659.8h0M955.4 722.8h0M991.2 667.4h0"/>
<path stroke="#59bd8c" d="M945.7 729.6h0M937.5 731.8h0M991.1 667.3h0M986.2 682.9h0M983.3 658.8h0M931.5 725.5h0M959.6 674.9h0M963.7 671.2h0M944 730.4h0M935.4 730.9h0M942 694.7h0M988.5 677.4h0M933.4 713.1h0M947.5 687.4h0M941.1 731.2h0M990.6 665.6h0M986.1 659.6h0M974.5 702.5h0M952.5 681.7h0M949.2 726.7h0M956.1 678.3h0M990.2 664.8h0M987.2 680h0M933.6 729h0M941.6 695.5h0M987.5 660.8h0M937.5 731h0M963.8 716.1h0M934.7 729.8h0M959.3 675.6h0M974.8 701.8h0M985.3 659.9h0M990.2 666.6h0M933.2 727.7h0M932.2 719.8h0M946.9 688.6h0M947.6 687.6h0M984.2 659.8h0M934 728.6h0M958.8 676.2h0M965.1 670.4h0M989.3 663.7h0M932.1 723.5h0M949.6 725.9h0M987.7 677.9h0M976.6 660.9h0M984.4 660h0M964.8 714.9h0M976.7 661h0M987 679.4h0M989 674.4h0M958.8 719.7h0M987.4 661.6h0M985.3 660.4h0M988.6 675.4h0M945.5 728.6h0M984.3 685.8h0M980.5 660.1h0"/>
<path stroke="#71bf80" d="M974.4 701.9h0M988.9 674.4h0M937.2 704.3h0M960.8 718.1h0M970 708.6h0M933.3 716.5h0M988.8 664.1h0M936.8 729.7h0M952.9 723.2h0M984.3 685.1h0M955.5 679.6h0M938.4 702.1h0M935.7 708.8h0M987.5 662.7h0M933.3 725.5h0M941.4 729.7h0M935.3 710.3h0M938.9 729.8h0M987.8 663.3h0M964.6 671.6h0M955.3 680h0M955.6 679.7h0M985.2 682.2h0M935.8 709.2h0M935.4 728.1h0M980.5 692.5h0M984.8 683.1h0M941.6 729.3h0M984.6 683.6h0M949.9 685.7h0M935.5 728.1h0M989.1 668.1h0M949.4 686.3h0M983.3 661.1h0M935.5 727.8h0M988.6 673h0M958.5 719.3h0M965.6 671h0M972 664.8h0M987.7 675.6h0M933.6 724h0M982.8 687.5h0M934.1 725.4h0M950.2 685.6h0M948.1 725.7h0M978.9 661.5h0M988.8 670.1h0"/>
<path stroke="#87bf77" d="M986.4 663.1h0M934.3 715.5h0M938.9 728.8h0M964.8 672.2h0M937.7 705h0M982.7 687.3h0M984.3 683.2h0M987.2 676h0M974.8 663.2h0M942.6 728.3h0M953.1 722.3h0M954.5 721.4h0M937.2 728h0M933.8 720.7h0M968.7 709.2h0M973.6 664.1h0M977.6 662.3h0M984.9 662.7h0M938.6 703.3h0M987.5 674.2h0M984.8 662.9h0M934.1 721.3h0M946.5 726h0M971.5 666h0M976.7 662.8h0M987.8 672.4h0M948.4 688.4h0M980.1 692.1h0M934.3 719.3h0M934.7 723.7h0M965.8 671.8h0M987.6 667.4h0M978.6 694.1h0M985.2 663.7h0M978.1 694.9h0M968.8 668.9h0M958.6 678.1h0M981.6 688.7h0M970.4 667.4h0M949.1 724h0M987.5 672.1h0M966.7 671.3h0"/>
<path stroke="#92bf73" d="M935 716.6h0M987 673.8h0M969.9 668.1h0M947.1 724.9h0M946.7 691.1h0M982 662.9h0M986.7 666.7h0M942.9 696.7h0M951.8 722.1h0M987.1 672h0M940.5 727h0M969.6 668.7h0M987.1 668.4h0M984.3 680.5h0M983.9 663.8h0M983.4 683h0M963.1 714.5h0M935.3 717.3h0M936.2 712.5h0M986.9 672.2h0M970.1 705.9h0M942.6 726.5h0M941.3 726.6h0M976.7 663.9h0M942.1 726.5h0M981.7 663.4h0M977.7 663.7h0M948.7 723.5h0M937.3 725.1h0M960.4 677.3h0M951.6 685.6h0M977 664h0M952.6 684.5h0M946.5 692h0M974.1 665.4h0M960.5 716.3h0M973.2 666.1h0M940.2 726.1h0M960.3 677.5h0M968.5 708h0M939.3 704.2h0M936.2 722.7h0M938.9 705.2h0M942.7 725.8h0M975.8 696.7h0M986.4 670.3h0M945.3 724.8h0"/>
<path stroke="#a5be6b" d="M986.3 671.3h0M947.5 723.6h0M985.8 673.8h0M974 665.9h0M942.9 697.6h0M981.3 687.1h0M941.9 725.6h0M972 667.6h0M942.2 725.4h0M969.8 705.6h0M979.4 664.2h0M936.5 721.5h0M968.3 707.8h0M953.2 720.5h0M984.7 666.4h0M975.9 665.2h0M943.2 725.1h0M953.1 720.5h0M961.2 677.2h0M942 699.3h0M936.3 720.3h0M954.2 683.4h0M957.7 717.8h0M938.8 706.4h0M939.6 704.4h0M967.3 709h0M985.4 668.6h0M971.4 668.6h0M984.9 675h0M947.7 723h0M963.6 713h0M967.8 708.2h0M983.2 680.1h0M981.6 684.9h0M983.2 665.8h0M936.9 721.2h0M941.7 724.8h0M970.2 669.8h0M982.1 683.2h0M978.7 664.9h0M980.4 664.9h0M977.2 665.2h0M969.2 705.9h0M979.6 689.9h0M983.1 680h0M985.4 671.5h0M936.8 720.2h0M968 707.8h0M959.6 678.9h0M982.8 665.8h0M936.7 718.9h0M983.8 677.7h0M937.5 722.1h0M985.1 669.2h0M966.7 709.4h0M975.6 696.1h0M968.4 707h0M952 686.2h0M940.4 724.3h0M937.6 722h0M975.5 696.1h0M939.9 704.5h0M937.5 721.5h0M983.4 666.6h0M981.9 683.3h0M943.4 697.7h0M973.7 667.3h0M958.2 680.2h0M941.4 724.3h0M957.2 681.1h0"/>
<path stroke="#aebe67" d="M937.7 721.6h0M941.5 724.2h0M962.4 713.7h0M947.8 691.6h0M971.8 701.4h0M938.7 722.8h0M984.3 668.4h0M975.6 695.8h0M937.4 719.8h0M961.3 714.5h0M971.6 669.2h0M940.3 723.6h0M951.1 720.7h0M949.2 721.6h0M983.1 678.3h0M972 700.8h0M939.1 707.6h0M981.9 666.3h0M961.1 714.6h0M961.1 678.1h0M963.8 676.1h0M941.1 702.6h0M938.6 721.9h0M973.2 668.3h0M951.5 687.3h0M979.3 689h0M984.3 672.1h0M984.2 670.8h0M983.9 669.5h0M979.5 666.1h0M949.3 690.1h0M983.6 668.8h0M979.2 689.1h0M937.7 715.3h0M982 680.6h0M972.6 699.5h0M955.7 683.1h0M958.2 716.4h0M940.5 722.8h0M982.7 668h0M968 706.7h0M953.7 718.9h0M972.3 699.8h0M937.9 715.2h0M978.9 689.5h0M966.2 674.7h0M964.1 711.4h0M970.5 671.1h0M978.9 689.4h0M977.9 666.7h0M939.5 721.6h0M981.9 667.7h0M977.8 666.9h0M983.5 673.2h0M974.2 668.4h0"/>
<path stroke="#c0bc60" d="M941.7 722.5h0M941.1 703.6h0M983.3 674.2h0M965 675.8h0M942.6 722.6h0M938.3 714.4h0M950.5 689.1h0M964.8 710.4h0M961.8 713.3h0M976.9 692.6h0M982.3 677.4h0M943.4 722.3h0M946.5 694.6h0M971.6 670.6h0M979.4 667.3h0M970.6 671.5h0M968.4 673.3h0M969.2 672.7h0M941 721.7h0M945.7 696h0M942.1 702h0M975 668.5h0M982.7 670.7h0M953.8 718.4h0M982.4 669.8h0M951.7 719.4h0M939.7 720.4h0M939.5 709.2h0M976.9 692.2h0M976.4 693h0M977 667.9h0M972.5 698.7h0M980.6 682.4h0M939 712h0M975.4 668.6h0M980.3 683.4h0M938.8 713.9h0M973.6 669.7h0M940.8 705.4h0M942.9 700.8h0M979.5 668h0M951.3 688.6h0M982.2 670.9h0M964 710.8h0M939.4 719h0M965.7 708.7h0M942.7 701.3h0M969.6 702.8h0M960.4 680h0M982.1 673.4h0M980 683.5h0M939 715.2h0M981 669.5h0M979.2 668.5h0M955.4 717.2h0M964.5 710h0M975.6 669.1h0M974.4 669.7h0M971.7 671.6h0M946.8 695h0M940.1 719.4h0M979 686.9h0M945.3 721h0"/>
<path stroke="#c8bc5d" d="M981.4 670.7h0M975.2 669.5h0M940.4 707.4h0M946.9 720.6h0M955.6 716.9h0M970.6 672.6h0M981.6 674.9h0M978.4 688.2h0M959.4 681h0M961.7 712.6h0M976.4 692.2h0M981.6 672.4h0M980.6 670h0M980.8 678.3h0M977.7 669.1h0M975.9 669.6h0M940.1 709.1h0M970.4 673h0M940.1 718.5h0M981.1 676h0M973.7 670.8h0M959.3 714.3h0M978.2 688.1h0M942.8 720.4h0M981 676h0M940.7 719.1h0M966.5 675.9h0M949.8 691.4h0M978.1 688.2h0M975.7 670.2h0M947.2 719.9h0M967.6 675.3h0M965.9 707.7h0M967.8 675.2h0M939.8 715.2h0M980.4 677.8h0M980.8 673.7h0M979.3 670.4h0M968.5 703.7h0M977.2 689.7h0M949.6 691.9h0M957.9 682.8h0M978.9 670.6h0M976 691.9h0M955.2 685.4h0M980.2 672.5h0M951.1 718.4h0M980.3 676.6h0M968.8 703h0M973 696.5h0M974.9 671.1h0M972.3 672.5h0M969.2 702.2h0M979.9 672.5h0M944 719.8h0M942.5 703.5h0M967.4 705h0"/>
<path stroke="#d9ba56" d="M941.4 706.6h0M975.7 692.1h0M979.9 674.3h0M974.5 671.7h0M941.5 718.3h0M959.9 713.3h0M975.5 671.4h0M970.7 699.5h0M943.8 701.1h0M940.8 716.8h0M940.3 714.2h0M974.4 671.9h0M943.2 719.3h0M940.4 714.9h0M947.4 695.5h0M979.3 680.5h0M940.4 712.3h0M943.1 719.2h0M947.8 695h0M940.4 714.1h0M952.6 717.5h0M940.5 714.2h0M957.6 683.5h0M978.9 673h0M979.3 678.9h0M971.6 673.8h0M945.9 698h0M954.7 686.4h0M979.3 676.1h0M978.2 672.8h0M941.9 717.7h0M964.3 708.7h0M957.7 683.6h0M966 677.4h0M958.7 713.8h0M978.7 674h0M962.1 711h0M975.4 691.7h0M958.2 683.3h0M948.8 694h0M949 693.7h0M942.4 705.1h0M978.6 681.5h0M942.1 717.5h0M955.6 715.6h0M948.4 718.4h0M963.8 679.1h0M974.7 673h0M941.1 714.3h0M942 717h0M978.4 681.5h0M950.5 717.7h0M941 712.5h0M969.4 700.6h0M967.9 703.1h0M971.4 697.5h0M970.7 675h0M955 686.6h0M966.3 677.7h0M978.2 677.2h0"/>
<path stroke="#e9b94e" d="M943.5 703.2h0M977.8 675.5h0M973.2 694.5h0M975.8 690.2h0M950.2 692.5h0M941.3 712.4h0M966.5 677.6h0M947.6 696.3h0M977.8 684.2h0M970.6 698.4h0M966.2 705.5h0M968.7 676.3h0M976.6 674.5h0M948 695.8h0M941.5 711.6h0M967.7 677.1h0M945.3 700h0M946.7 697.9h0M945.7 699.5h0M953.3 688.9h0M977.1 686.2h0M942.5 706.8h0M972.9 674.9h0M953.3 688.9h0M945.1 717.7h0M977.3 677.3h0M955.1 715.2h0M950.8 716.9h0M973.2 693.8h0M941.9 713.4h0M948.1 696.2h0M974.2 675.2h0M944.5 717.2h0M965.3 706h0M959.4 683.3h0M951.8 716.4h0M944.3 702.6h0M976.7 677.3h0M976.5 686.9h0M946.9 698.2h0M967.7 702.3h0M971.1 676.1h0M972.7 675.6h0M942.8 706.7h0M961.6 681.6h0M956.4 686.1h0M947.5 697.4h0M944.7 716.9h0M973.2 675.8h0M965.7 705.2h0M975.9 688.2h0M963.9 680.1h0M949.5 716.9h0M975.9 676.9h0M963.5 680.4h0M976.6 678.5h0M966.5 678.5h0M955.9 714.3h0M959.6 711.9h0"/>
<path stroke="#f1b94a" d="M974.9 690.2h0M972.8 693.8h0M942.3 711.2h0M945.6 700.7h0M963.1 708.5h0M943.6 705h0M947.6 717h0M970.9 676.6h0M975.1 689.7h0M972.5 676.2h0M948.9 695.6h0M943.4 715.3h0M971.7 695.3h0M971.9 695h0M954.2 715h0M943.6 715.4h0M945.7 700.9h0M961.1 682.5h0M943.6 715.1h0M943.2 714.5h0M961.3 710h0M976.5 683.6h0M962.9 708.3h0M955.8 714h0M976 679.2h0M976.3 680.8h0M944.7 703h0M955.6 687.4h0M975.5 678.5h0M958.7 684.6h0M969.7 698h0M953.4 715h0M958.9 711.8h0M943 709.6h0M947.8 698h0M963.3 707.5h0M975.2 678.8h0M946.5 716.2h0M968.2 678.5h0M974.6 689.6h0M947.2 716.2h0M955.2 714h0M972.7 692.9h0M958.8 684.7h0M961.6 709.3h0M952.6 715.2h0M957.2 712.8h0M943.2 712.3h0M945.1 703h0M973.6 677.8h0M967.9 700.4h0M975.9 683.8h0M973.8 690.9h0M943.4 713h0M943.5 713.1h0M962.1 682.3h0M950.6 715.6h0M968.2 678.8h0M955.5 688.1h0M974.1 678.4h0M954.2 689.5h0M961.9 682.5h0"/>
<path stroke="#fdbe3d" d="M944.2 714.1h0M964.6 705.3h0M975.3 680.8h0M975.4 681.6h0M970.5 678.2h0M969 698.3h0M951.4 715.2h0M945.2 715h0M943.7 712.3h0M955.9 713.3h0M950.2 715.4h0M965.4 680.5h0M975.1 681.2h0M951.5 693.3h0M972.8 678.5h0M946.5 701h0M943.6 710.8h0M950.8 715.2h0M968.6 679h0M968.3 679.1h0M951 715.1h0M971.5 678.4h0M949 696.9h0M955.6 713.3h0M959 711h0M966.5 702h0M962.1 708.1h0M945.1 714.3h0M963.4 681.9h0M964.9 681h0M971.4 693.9h0M974.1 680.1h0M959.6 684.8h0M944.5 713.2h0M943.9 710.6h0M951 694.4h0M954.8 713.5h0M944 708.9h0M974.9 685.4h0M968.8 697.8h0M969.1 697.4h0M971.4 693.7h0M951.1 714.7h0M944.1 708.9h0M949.3 715h0M970 679.2h0M944.1 710.4h0M953.6 691.2h0M974.6 685.9h0M970.7 694.6h0M947.1 700.8h0M945.5 713.5h0M974.2 687.3h0M968.2 698.2h0M952.7 692.6h0M973.1 680.4h0"/>
<path stroke="#ffc337" d="M974.2 686.8h0M964.1 682.1h0M970.9 693.8h0M948.8 714.6h0M964.6 704h0M947.9 699.7h0M956.4 712.1h0M947.2 701h0M963.3 705.8h0M965.1 681.6h0M974.2 683.5h0M974 687.1h0M973.1 681h0M944.7 708.7h0M954 691.2h0M944.9 711.3h0M945 711.8h0M953.5 691.9h0M970.7 680.1h0M948.3 714.2h0M945.5 705.2h0M963.9 704.7h0M945.3 712.1h0M973.9 682.9h0M953.8 713.2h0M945.4 705.8h0M960.2 685.2h0M965.4 702.3h0M960.2 685.2h0M971.5 692.2h0M945.6 705.4h0M969 680.5h0M952.6 713.5h0M947.5 713.7h0M950.9 713.9h0M959.1 709.7h0M970.4 680.5h0M945.1 709.5h0M947.1 713.4h0M973.7 685.6h0M953.6 713h0M973.2 688.1h0M954.1 691.5h0M959 709.7h0M965.4 701.8h0M966.1 700.7h0M945.7 706.3h0M973.5 684.6h0M973.4 684.2h0M973.2 687.6h0M961.5 707.2h0M972.9 682.5h0M948.7 699.5h0M960.5 708.2h0M962.6 705.8h0M961.5 707h0M954.6 691.2h0M945.6 710.3h0M972 690.4h0M970.4 681.1h0M971.2 691.8h0M969.4 694.8h0M956.4 711.3h0"/>
<path stroke="#fcce2e" d="M966.2 700h0M949.9 698.1h0M973.1 685.6h0M961.9 684.7h0M969.5 681.4h0M953.8 692.6h0M969.2 681.4h0M972.5 683.2h0M966.9 698.7h0M954.3 691.9h0M949.2 713h0M962.4 705.5h0M972.3 688.5h0M961.1 707h0M945.9 709h0M947.5 712.4h0M954.4 712h0M965.3 682.8h0M972.2 683.5h0M951 712.9h0M971.7 682.7h0M956 690.3h0M946.1 707.7h0M954.3 692.4h0M959.9 686.6h0M957.3 689.1h0M955.5 691h0M949 700.3h0M963 684.4h0M968 696h0M971.8 683.5h0M969.4 682.1h0M970.8 682.6h0M966.5 682.7h0M970.4 682.4h0M963.9 684h0M965.4 700.4h0M957.9 688.6h0M955.5 711h0M954.7 692.2h0M965.7 699.8h0M972.1 686.6h0M947 705.1h0M964.5 683.8h0M972 686.6h0M964.6 683.8h0M971.9 687.4h0M964.6 701.4h0M950.8 712.3h0M946.7 707.2h0M965.1 683.7h0M963.1 684.8h0M959.6 707.8h0M963.8 684.4h0M966.6 683.1h0M966.6 683.2h0"/>
<path stroke="#fad32a" d="M966.3 698.1h0M960 707.3h0M958.1 688.9h0M960.2 707h0M970 683.2h0M947.1 706.3h0M971.2 688.6h0M960.9 706.1h0M949.1 711.6h0M963.1 703.2h0M957.2 709.5h0M965.6 699.2h0M956.6 690.6h0M971.2 688.3h0M969.3 683.3h0M947.2 708.8h0M956.3 709.9h0M949.2 701.2h0M968.8 683.4h0M971.1 687.7h0M969.2 683.5h0M961.8 686.2h0M947.6 705.2h0M952.3 711.4h0M949.1 711.2h0M970.4 684.4h0M956.6 709.6h0M966.8 696.6h0M970.1 684.4h0M950.3 711.3h0M947.6 708.5h0M949.8 711.2h0M970.2 684.7h0M951.1 711.3h0M969.9 684.5h0M958.4 689.3h0M947.7 708.5h0M954.6 710.4h0M969.1 692h0M959.6 688.2h0M955.3 692.7h0M970.6 686.1h0M967.1 684.2h0M970.5 686.7h0M964.5 700h0M954.2 710.4h0M959.5 706.8h0M953.7 695h0M958.2 707.8h0M957.1 708.7h0M962.4 703.1h0M948.1 707.9h0M948.7 703.8h0M954.4 694.3h0M970.2 687.1h0M948.7 709.5h0M948.2 706.3h0M963.1 686.1h0M948.5 704.9h0M970 688.2h0M948.2 707.1h0"/>
<path stroke="#f5de21" d="M960.5 688.1h0M969.5 686h0M953.7 710h0M948.5 706.1h0M969 690.6h0M957.1 691.4h0M961.6 703.6h0M951.5 710.3h0M963.7 700.4h0M964 686h0M968.9 690.5h0M962.8 686.7h0M957.1 691.5h0M950.1 709.8h0M949.1 708.8h0M964.8 685.8h0M969 686.2h0M966.3 695.4h0M964.3 699.1h0M948.8 706.7h0M961.4 687.9h0M965.1 685.9h0M955.2 709h0M957 707.9h0M953 697.4h0M949.5 704h0M966.6 685.9h0M953.5 696.6h0M968.6 687.3h0M951.8 699.5h0M967.2 693h0M967.7 692h0M949.3 707.4h0M961.9 688h0M950.1 708.7h0M959.8 689.6h0M968.5 688h0M952 699.3h0M957.1 692.3h0M960.9 688.9h0M968.2 687.6h0M964.1 687h0M950 703.8h0M966.6 693.7h0M968.1 689.6h0M950.5 702.6h0M965 686.8h0M957.9 706.6h0M967.2 692.3h0M952.3 709.1h0M964.9 696.7h0M968.1 689.3h0M964.8 687h0M965.6 686.8h0M962.1 701.5h0M967.4 691.4h0M965.9 694.6h0M960.2 689.7h0M959.8 690h0M950.9 702.1h0M962.2 701.1h0M965.3 687h0M967.5 690.7h0M954.3 708.5h0M965.2 687.1h0M954.2 696.5h0M966.9 687.3h0"/>
<path stroke="#f5eb18" d="M963 688.1h0M956.8 693.2h0M950.1 705.3h0M966.7 692.3h0M953.2 698.3h0M960.4 690h0M950.9 702.9h0M967 690.8h0M951.1 702.6h0M964.7 696.1h0M963.6 688.2h0M962.2 700.5h0M967 690h0M964.6 696.1h0M955 707.6h0M954.5 696.8h0M951.2 707.2h0M953.3 707.9h0M954.6 707.6h0M953.6 698.4h0M953.6 707.8h0M965.7 692.9h0M955.3 707.2h0M951.8 702h0M956.2 694.9h0M966 691.8h0M951.1 704.2h0M962 689.7h0M956.1 706.6h0M965.5 692.6h0M965.2 693.5h0M965.3 693.1h0M952.4 701.1h0M965.5 692.4h0M964.8 694.3h0M959.4 691.9h0M954.5 697.7h0M965 693.2h0M951.8 706.1h0M963.2 689.7h0M952 703h0M952.5 706.5h0M957.4 694.1h0M958.2 704.3h0M954.8 697.7h0M957.6 704.8h0M962.7 690.4h0M957.5 704.7h0M952.4 702.6h0M963.1 690.5h0M958 693.9h0"/>
<path stroke="#f6f313" d="M952.7 702h0M952.4 705.1h0M960.5 701h0M958.9 693.2h0M952.7 702.8h0M964.1 692.9h0M952.6 704.6h0M959.2 693.1h0M963.3 695.1h0M953 705.2h0M958.3 703.3h0M956.2 696.7h0M959.8 701.5h0M952.8 704h0M960.8 699.9h0M956.8 695.9h0M952.9 703.9h0M958.4 703.1h0M958.5 694.1h0M961.3 692.1h0M953.8 701h0M957.5 695.2h0M960.5 692.6h0M953.5 704.9h0M956.2 704.7h0M959.7 693.3h0M962.7 692.3h0M955.4 705h0M954.1 700.6h0M962.6 695.5h0M957.1 703.8h0M963 694h0M962.8 692.8h0M954.1 700.8h0M953.9 704.6h0M955.5 698.4h0M961.6 692.7h0M953.7 704.1h0M959 694.2h0M955 699.4h0M959.3 701.4h0M955.4 698.7h0M953.9 704.1h0M957.4 703.4h0M961.1 698.4h0M962.5 693.5h0M953.9 703.9h0M959.4 694.1h0M960.5 699.3h0M961.7 693h0M953.9 703.7h0M953.9 703.1h0M956.9 696.9h0M958.6 694.9h0M960.1 693.8h0M959.5 694.2h0M954.9 704.2h0M956.9 703.3h0M957.9 695.9h0M959.7 700.1h0M956.6 697.6h0M959.5 700.4h0M960.4 698.9h0M961.7 695.5h0M958.8 695.1h0M955.1 703.7h0M956.1 703.5h0M960 699.2h0M961.4 696h0M956.4 698.2h0M958.7 701.1h0M957.5 702.3h0M961.3 695.2h0M958.9 695.6h0M960.8 696.9h0M960.4 694.9h0M957.5 697.1h0M955.3 702.4h0M960.6 695.8h0M958.6 696.3h0M957.5 701.7h0M957.4 701.7h0M959.9 696.2h0M957.6 701.2h0M959.6 697.8h0M959 696.9h0M957.2 698.7h0M956.6 700.1h0M958 699h0"/>
</g>
<path d="M806.2 491.2V802.2H1202M806.2 802.2v-3.6M845.9 802.2v-3.6M885.5 802.2v-3.6M925.2 802.2v-3.6M964.8 802.2v-3.6M1004.5 802.2v-3.6M1044.2 802.2v-3.6M1083.8 802.2v-3.6M1123.5 802.2v-3.6M1163.1 802.2v-3.6M1202.8 802.2v-3.6M806.2 802.2h3.6M806.2 767.6h3.6M806.2 733.1h3.6M806.2 698.5h3.6M806.2 664h3.6M806.2 629.4h3.6M806.2 594.8h3.6M806.2 560.3h3.6M806.2 525.7h3.6M806.2 491.2h3.6" fill="none" stroke="#3c3c3c" stroke-width="1.05"/>
<text class="ss" transform="translate(806.2 821.5) scale(0.94 1)" font-size="13.2" fill="#262626" text-anchor="middle">2</text>
<text class="ss" transform="translate(845.9 821.5) scale(0.94 1)" font-size="13.2" fill="#262626" text-anchor="middle">2.2</text>
<text class="ss" transform="translate(885.5 821.5) scale(0.94 1)" font-size="13.2" fill="#262626" text-anchor="middle">2.4</text>
<text class="ss" transform="translate(925.2 821.5) scale(0.94 1)" font-size="13.2" fill="#262626" text-anchor="middle">2.6</text>
<text class="ss" transform="translate(964.8 821.5) scale(0.94 1)" font-size="13.2" fill="#262626" text-anchor="middle">2.8</text>
<text class="ss" transform="translate(1004.5 821.5) scale(0.94 1)" font-size="13.2" fill="#262626" text-anchor="middle">3</text>
<text class="ss" transform="translate(1044.2 821.5) scale(0.94 1)" font-size="13.2" fill="#262626" text-anchor="middle">3.2</text>
<text class="ss" transform="translate(1083.8 821.5) scale(0.94 1)" font-size="13.2" fill="#262626" text-anchor="middle">3.4</text>
<text class="ss" transform="translate(1123.5 821.5) scale(0.94 1)" font-size="13.2" fill="#262626" text-anchor="middle">3.6</text>
<text class="ss" transform="translate(1163.1 821.5) scale(0.94 1)" font-size="13.2" fill="#262626" text-anchor="middle">3.8</text>
<text class="ss" transform="translate(1202.8 821.5) scale(0.94 1)" font-size="13.2" fill="#262626" text-anchor="middle">4</text>
<text class="ss" transform="translate(799.4 807.9) scale(0.94 1)" font-size="13.2" fill="#262626" text-anchor="end">2.8</text>
<text class="ss" transform="translate(799.4 773.4) scale(0.94 1)" font-size="13.2" fill="#262626" text-anchor="end">3</text>
<text class="ss" transform="translate(799.4 738.8) scale(0.94 1)" font-size="13.2" fill="#262626" text-anchor="end">3.2</text>
<text class="ss" transform="translate(799.4 704.2) scale(0.94 1)" font-size="13.2" fill="#262626" text-anchor="end">3.4</text>
<text class="ss" transform="translate(799.4 669.7) scale(0.94 1)" font-size="13.2" fill="#262626" text-anchor="end">3.6</text>
<text class="ss" transform="translate(799.4 635.1) scale(0.94 1)" font-size="13.2" fill="#262626" text-anchor="end">3.8</text>
<text class="ss" transform="translate(799.4 600.6) scale(0.94 1)" font-size="13.2" fill="#262626" text-anchor="end">4</text>
<text class="ss" transform="translate(799.4 566) scale(0.94 1)" font-size="13.2" fill="#262626" text-anchor="end">4.2</text>
<text class="ss" transform="translate(799.4 531.4) scale(0.94 1)" font-size="13.2" fill="#262626" text-anchor="end">4.4</text>
<text class="ss" transform="translate(799.4 496.9) scale(0.94 1)" font-size="13.2" fill="#262626" text-anchor="end">4.6</text>
<path d="M892.6 738.7L1062.9 537L1101 570.2L930.5 771.3Z" fill="none" stroke="#000" stroke-width="2.3"/>
<text class="ss" font-size="100" stroke="#000" stroke-width="2.46" stroke-linejoin="miter" transform="matrix(0.4950 0 0 0.5205 702.41 488.16)">C</text>
<text class="sf" transform="translate(995.4 866.2) scale(0.967 1)" font-size="36.8" text-anchor="middle">CD42b</text>
<text class="sf" transform="translate(771 634.5) rotate(-90) scale(0.94 1)" font-size="36.8" text-anchor="middle">DENV</text>
</g>
<path d="M298.6 893.6L298.6 965.1" stroke="#000" stroke-width="2.4" fill="none"/>
<path d="M298.6 981.5L293.2 961.0L304.0 961.0Z" fill="#000"/>
<path d="M991.5 893.6L991.5 965.1" stroke="#000" stroke-width="2.4" fill="none"/>
<path d="M991.5 981.5L986.1 961.0L996.9 961.0Z" fill="#000"/>
<path d="M279.3 1005.4H981.9" stroke="#000" stroke-width="2.3" fill="none"/>
<rect x="279.3" y="1004.1" width="5.2" height="37" fill="#000"/>
<rect x="976.5" y="1004.1" width="5.4" height="34.8" fill="#000"/>
<text class="sf" transform="translate(568.6 993.5) scale(0.945 1)" font-size="37.5"><tspan font-style="italic">p</tspan> &lt; 0.0001</text>
<g id="panelD">
<path d="M103.9 1449.0L487.6 1064.2" stroke="#6e6e6e" stroke-width="1.05" stroke-dasharray="1.2 2.1" fill="none"/>
<path d="M103.9 1265.3L487.6 1263.8" stroke="#0000e0" stroke-width="2.7" fill="none"/>
<polyline points="358.6,1285.9 388.8,1277.2 198.2,1238.9 202.1,1278.2 299.9,1270.2 312.4,1261.5 320.4,1262.4 175.3,1268.3 424.1,1247.9 220,1234.6 284.7,1243 288.8,1276.6 311.8,1261.7 277.8,1247.7 294.8,1249 351.9,1295 200.1,1250 274.3,1281.1 249.4,1232.9 402.9,1283.7 239.7,1285.4 255.5,1280.9 275.2,1258.6 308,1290.5 193.2,1273.8 262.7,1271.7 263,1272.4 273.9,1282.3 247.4,1283.5 176.1,1253.5 222.5,1234.5 397.8,1261.8 156.5,1286.8 320.6,1259.2 171.9,1284.3 409.3,1261.4 241.2,1280.3 380.3,1263.2 260.7,1274.6 479.6,1271.1 316.9,1240.6 244.1,1259.2 270.2,1258.8 276,1280.2 229.4,1256.2 242.9,1261.2 200,1257.2 342.4,1249.6 261.9,1261.5 258.6,1244.3 242.7,1285.7 227.3,1252.1 297.2,1290.6 223,1237.6 250.2,1240.1 333.5,1269.8 159.1,1277.3 216.9,1265.3 235.2,1250.8 189.1,1302.4 270.9,1289.7 263.3,1241.3 254.1,1270.1 137.4,1296.8 151.9,1275.8 300.5,1261.7 247.9,1266.9 190,1296.1 253,1249.1 265.9,1294.8 155.4,1290.7 412.3,1270.2 177.4,1286.1 278.3,1266.4 325.5,1283.8 113.4,1285 192.2,1274.5 275.7,1270.4 191.7,1284.6 377.5,1250.3 464.6,1235.6 189.7,1297.4 217.2,1277.4 222.7,1274.8 442.9,1300.2 145.2,1298.2 235,1274.7 198.9,1287.9 249.2,1257.8 334.3,1245.3 288.3,1261 316.4,1258.5 324.7,1288.5 271.7,1280.6 317.7,1256 206.5,1251.5 335,1267.9 275.6,1252.2 132,1271.9 253.4,1294.6 223.1,1258.1 196.9,1276.3 208.1,1245 260.8,1256.3 255.9,1247.8 294.9,1277.5 189.9,1254 400.8,1241.7 354.8,1281.9 209.9,1273.5 198.9,1234.1 339,1266.4 321,1265.2 235.7,1237.3 138.4,1260.1 393.2,1302.4 261.7,1267.3 317.6,1279.3 398.3,1277.5 386.8,1262.1 215.4,1242.5 231.4,1252.8 328.5,1259.1 326.9,1241.1 195.8,1262.6 237,1292.6 229.6,1268.2 429.1,1266.4 348.7,1274.8 228.4,1248.3 445.7,1247.5 416.7,1243.2 286.4,1253.7 247.4,1259 332.8,1290.5 272.2,1273.8 352.2,1286.5 373.4,1257.5 371.2,1268.3 376.8,1266.4 383.2,1252.5 179.9,1272.6 383.9,1239.3 220.2,1239.8 336.5,1288.4 182.2,1233.4 261.8,1273.6 177.6,1283.1 232.7,1273.1 373.1,1296.3 376.2,1257.1 411.6,1236 363,1302.3 266.1,1255 281.6,1251.2 264.4,1249.3 392.1,1249.7 216,1254.8 180.7,1276.7 256.3,1243.7 212.8,1257.3 282.5,1246 151.3,1257.8 159.3,1271.7 206.4,1266.5 173.8,1250.6 212.4,1240.1 367.5,1296.5 330,1278.3 284.4,1281.7 338.2,1260.6 272.2,1272.8 415.7,1233 328.8,1280.4 312.4,1282.7 320.5,1285.5 278.9,1272.8 354,1261.5 205.6,1277.2 360.3,1288 289.8,1298.7 194.8,1261.1 229.8,1278.9 259.2,1289.5 194.1,1272.1 246.4,1257.5 357,1287.2 161.7,1276.5 432.6,1243.5 300.3,1269.4 211.6,1301.4 303.5,1282 298.3,1277.9 308.5,1281.8 234.8,1276.8 196.7,1259.8 214.2,1254.1 244.3,1261.2 315.9,1296.4 284.1,1279.8 274.3,1247 293.3,1241.1 206.2,1273 191.1,1244.5 180.6,1236.6 387.6,1292.5 308.6,1242.8 345.1,1296.8 159.2,1262.1 131.8,1299.6 234.1,1247.3 217.7,1264.1 128.2,1253.6 179.4,1252.9 228.8,1233.6 259.8,1290.9 292.1,1236.4 118.8,1261.4 253.1,1245 197.1,1257.3 159.3,1259.4 243.9,1289.2 208.2,1274.7 175.4,1273 159.7,1238.4 213.1,1253.2 261.3,1254.9 138.8,1267.6 257.6,1234.1 161.6,1286.9 398.5,1241.6 246.8,1274.8 210.3,1249.1 233.7,1245.2 192,1300.5 359.1,1270.2 292.6,1292.7 193,1253.2 390.3,1239.5 178.3,1270.5 241.8,1252.2 309.4,1269.5 361.1,1261.4 374.3,1259 270,1250.9 167.1,1238.9 199.9,1247.7 258.3,1265.3 250.9,1263.2 177.6,1252.2 212.8,1250.2 227,1273.7 148.4,1278.6 237.7,1270.2 122.3,1253.3 274.5,1275.4 192.1,1290.7 385.7,1272.6 348,1276.4 290.5,1249.8 207.4,1277 374.6,1274.4 222.4,1253.6 383.6,1286.9 255.5,1235.3 437.9,1273.3 191.3,1284.1 207.6,1248.7 281.2,1298.7 144.8,1266 227.1,1250.8 128.4,1246.3 306.2,1277.2 227.3,1276.5 205.9,1266.5 212.1,1235 369.6,1244.5 254.5,1257.1 277.4,1231.2 227.4,1291.5 237.8,1236.4 409.5,1285.4 280.4,1257.1 383.9,1273.9 258,1265.8 296.6,1254.8 402.8,1243.4 267.1,1279.6 127.6,1292.6 257.9,1247.2 207,1273 168.6,1238.9 187.5,1269.9 310.1,1268.4 253.1,1281.8 232.2,1264.4 287.3,1246.6 371.6,1238.5 215,1264.7 277.7,1276.9 137.2,1264.8 285.3,1277.4 254.1,1274.9 252.3,1270.9 174.3,1280.9 109.6,1274.4 244.7,1257.3 162.8,1261.5 246.3,1289.5 321.8,1251.8 197.8,1284 257.8,1253.1 325.6,1262.4 311.9,1289.3 312.3,1241 230.4,1279.7 285.6,1280 246.8,1274.7 188.1,1261.3 317.1,1250.1 249,1271.2 427.9,1277.9 188.2,1275.4 211.9,1268.5 237.9,1260 279.9,1272.3 223.5,1268.1 305.6,1248.6 259.6,1267 242.9,1243.1 192.7,1289.9 224.4,1243.3 362.8,1251.2 187.7,1247.7 255.7,1286.2 346.1,1247.1 264.8,1248.2 456.4,1287.1 208.2,1257.8 158.3,1284.7 141.1,1292.5 325.6,1301 301.9,1269.5 296.5,1289.8 248.5,1257.2 405,1247.2 172.5,1258.3 325.3,1284.4 199.6,1286.6 228.8,1297.4 282.4,1273.6 220.2,1273.3 277.9,1278.9 171.1,1250.7 232.7,1239.1 231.2,1231.4 182.7,1288.5 221.4,1244.6 228.5,1269.9 387.9,1243.3 395.7,1246.9 275.4,1299.2 254.6,1284.9 320.7,1282.8 120.3,1298.5 299.6,1257.7 227.8,1283.2 256.4,1249.7 276.3,1267.3 329.3,1272.8 358.1,1235.6 347.7,1297.3 255.1,1245.6 292.8,1231.6 326.2,1253.3 245.2,1273.9 189.9,1299.3 231.2,1281.9 279.8,1233 292.3,1263.5 287.9,1259.2 238.2,1246.2 247.9,1287.1 167.1,1237.1 222.3,1259.1 378.6,1288.5 318.2,1278.9 163.7,1270.6 385.5,1249.5 296.6,1272.3 193.9,1270.2 211.2,1259.8 324,1273.6 256.5,1247.6 293,1257 273.5,1284.4 299,1285.6 267.6,1284.3 252.4,1277.3 277.3,1296.2 203.2,1244.3 364.9,1300.5 260.5,1248 263.3,1254.7 332.8,1245.9 292.8,1301.7 297.7,1260.9 233.9,1257.7 224,1242.5 275.5,1255.2 378.8,1279.2 260.5,1236 295.4,1283.2 219.1,1251.4 183.9,1287.5 218.8,1268.9 320.9,1245.7 232.6,1300.5 359.6,1233.8 292,1283.8 218.3,1278.9 239.4,1266.5 224.6,1268.1 219.1,1295 268.8,1267.9 173.9,1280.1 320.7,1266.2 344,1274.3 271.7,1256.6 258,1248.8 299.6,1278.9 279,1237 130.6,1272.9 248.1,1242.5 225.8,1248.4 177.9,1239.5 222.8,1265 198.6,1291.3 295.1,1272.2 364.4,1282 223.4,1275.8 212.7,1254.9 248.6,1244 367.7,1287.7 192.6,1246.5 199.9,1297.9 397.4,1258.4 178.2,1268.6 238.7,1256.7 275.7,1253.9 300.5,1281.6 127.5,1244.2 189.5,1277.2 261.7,1261.6 423.4,1287.9 264,1262.7 224.8,1232.7 212.8,1281.8 354.5,1280.3 297.1,1250.7 290.6,1281.2 252.8,1262.7 353.8,1299.2 308.4,1248.5 288.2,1261.2 278.6,1246.8 290.5,1281.6 395,1296.9 385.8,1297.3 226.5,1256.3 373.6,1263.3 253.4,1238.5 181.6,1231.2 212.1,1253.2 122.6,1266.2 246.8,1278.9 233.8,1269.3 406.1,1240.5 263.1,1249.1 264.8,1248.7 199.4,1284.1 321.3,1282.1 241.5,1278.4 275.1,1291.6 243.9,1247.3 293.2,1237.6 238.3,1278 221.9,1267.2 347.9,1262.2 321.8,1264.8 183.7,1286 108.8,1244.2 344.2,1276.9 202,1248.6 234.5,1300.1 473.5,1294.1 428.8,1264.9 362,1291.2 200.9,1258.2 387.7,1274.5 338,1295.7 143,1285.4 108.3,1250 198.3,1261.5 161.7,1253.2 378.2,1272 248.9,1240.3 277.4,1255.7 282.5,1299.2 246.2,1258.1 220.3,1270.2 251.6,1254.3 223.1,1288.6 359,1243.8 250,1298.6 259.6,1241.8 323.1,1250.5 245.2,1254.3 314.7,1250.1 201.8,1266.3 370.3,1271.4 157.1,1251.7 288.9,1276.8 269.3,1236.7 257.5,1265.7 243.6,1260 336.1,1255.5 333.2,1262.2 232.9,1250.5 279.5,1283.7 114.8,1280.9 239.8,1269.2 216.9,1293.7 289.2,1251.1 406,1285.7 298.3,1262.2 231.4,1235 143.8,1234 405.9,1247.2 273.5,1249.9 188.4,1256.3 220.9,1264.8 208.3,1265.7 420.6,1266.7 307.1,1232.6 237.1,1259.7 348.1,1279.6 241.3,1279.5 361.4,1265.3 220.8,1239.5 329.4,1255.5 267.8,1260.6 258.9,1238 246.3,1296.6 277.5,1251.4 186.2,1286.2 255.8,1264.8 252.1,1262.8 197.4,1301.1 293.8,1252.1 202.8,1262.4 430.7,1235.3 265.9,1272.1 297.8,1265 196.9,1236.3 184.2,1250.6 332.7,1237 258.1,1271.3 397.8,1298.2 289.5,1297 270.2,1248.8 263.5,1269.5 171.6,1256.4 202.7,1260.6 384.5,1265.5 262.4,1288.7 219.4,1253.6 345.8,1282.9 364.5,1283 265.8,1240.7 347,1289.4 324,1264.5 284.1,1289.3 323.1,1275 335.1,1265.3 346.2,1288.1 376.6,1284.1 306.2,1260.2 313.4,1270.6 239,1265.1 255.2,1290.4 231,1273.3 294.4,1283.2 355.8,1301.2 170,1284.1 221.6,1274.6 252.8,1253.4 290,1270.1 456.5,1254.3 266.8,1237.8 374.2,1272.2 263.6,1266.4 352.6,1259.5 249,1236.2 281.9,1258.1 149.8,1270 318.9,1244.9 124.3,1285.1 252.6,1287.5 245.1,1269.4 223.6,1256.7 306.2,1244.2 286.9,1233.2 201.8,1240.2 232.7,1265.2 124.4,1247.8 293.1,1286.9 361.5,1244.9 302.4,1249.2 249.7,1265.7 141,1280 344.2,1287.3 352.4,1263.4 450.9,1278.3 270.2,1295.9 330.6,1254.4 252.6,1243.3 340.8,1292.7 228.6,1236.2 197,1285.3 267.3,1274.7 304.3,1264.2 280.9,1279.1 400.5,1256.5 238,1261 305.2,1282.5 304.2,1257.5 226.4,1294.5 287.2,1280.4 232.9,1277.4 204.1,1246.4 193.9,1275.4 252.3,1250.6 327.8,1233.5 229.1,1264.4 190.2,1292.4 402.2,1246.6 241,1256.6 313.3,1263.3 326.8,1276.6 255.8,1287.7 221.4,1238.4 233.3,1268.2 221.2,1262.3 258.3,1254.9 272.2,1242.9 333.7,1267.7 241.9,1246.4 252.4,1273.1 256.5,1281.2 279.4,1279.1 279.4,1233.6 295.7,1260.4 160.7,1261.5 208.4,1261.1 182.1,1268.8 203.7,1268.7 253.7,1279.6 385.5,1276.8 409,1274.1 280,1267.8 408.1,1261.4 137.2,1264.1 180.7,1252.6 313.1,1291.6 333,1286.9 262.1,1242.8 364.9,1281.5 351.3,1251 222.3,1280.3 173.6,1293.7 360.7,1300.2 185.7,1278.7 355.9,1275.2 210.8,1294.3 215.8,1262.7 280.5,1285.8 273.5,1242.3 205.3,1282.5 321.7,1289.2 269.7,1267.9 329.7,1244.8 264.5,1298.8 163.1,1234 338.4,1272.9 239.4,1242 180.7,1266.7 127.6,1250.8 206.8,1246.9 434.3,1281.1 272.8,1295.3 242.1,1255.2 213.9,1245.9 352.1,1262.4 224.3,1240.6 235.3,1264.1 212.7,1237.8 255.6,1262.7 320.2,1290.9 248.7,1258.9 170.2,1258.1 159.2,1287.9 173,1276.5 214.4,1288.8 345.3,1260.2 278,1279.3 143.5,1267.7 320.9,1256.9 323.4,1273.4 380.4,1247.9 247.1,1255.4 253.9,1232.2 462.4,1288 159.1,1261.1 227.9,1256.3 279.7,1255.6 342.8,1289.6 297,1254.5 281.9,1248.3 177.9,1261.9 206.6,1258.1 265.6,1231.9 288,1271.6 435.2,1282 297.4,1247.3 353.4,1266.8 257.1,1280.7 163.3,1269.6 216.8,1283.1 355,1299.7 250.1,1266.4 240.2,1246.9 221.5,1269.8 299.4,1275.7 176.1,1251.7 353.2,1293.3 203.4,1268.1 273.6,1244.5 319.3,1290.2 239.1,1267.9 274.2,1264.6 277.7,1274.6 277.2,1248.1 144,1274.6 221.8,1256.9 201.8,1231 329.3,1231.1 203,1300.9 194.2,1275 310.2,1255.1 155.8,1260.1 245.5,1255.6 268.4,1277.8 168.4,1248 152,1237.2 276.2,1277.2 228.9,1263.1 125,1242.2 311.7,1235.7 261.8,1254.3 213.6,1255.9 277.2,1250.5 191.4,1271.2 235.9,1254.3 256.3,1269.7 265.7,1271.4 244.1,1253.5 303.6,1244.1 219.2,1251.6 322.2,1260.2 254.4,1270.4 240.1,1248.7 351.3,1272.9 338.4,1263 282.4,1297.8 386.5,1278 484,1269.1 160.7,1292.9 407.2,1236.3 310.1,1250.1 303.6,1266.5 204.6,1287.9 126.8,1264.7 335.7,1278.3 206.8,1235.8 295.1,1250 251.7,1258.1 365.2,1266.1 276.1,1263.2 248.1,1239.1 316.8,1283.2 312.9,1261 370,1302.7 223.5,1301 253.6,1264.8 392.8,1245.8 264.8,1244.7 331.8,1233.2 285.1,1283.4 290.3,1267.6 223.6,1243.7 204.3,1289.2 251.6,1271.2 217.9,1263.6 406.7,1264 187.4,1241.4 277.9,1252.9 312.3,1274.7 350.2,1243.7 259.4,1238.5 393.6,1250.8 206.8,1254.7 217.9,1252.4 224,1233.2 277,1276.5 249.1,1265.3 288,1288.7 291.4,1269.2 167.1,1284.4 265.3,1284.3 203.5,1266.2 151.7,1238.3 175.4,1231.8 201,1264.8 297.4,1281 363.8,1256.3 215.1,1270.3 245.9,1265.9 315,1259.8 220.5,1254.9 219.3,1270.8 151.2,1268.5 199.9,1287 301.6,1267.2 251.3,1283.7 169.4,1235.4 252.9,1270 281.1,1245.6 227.4,1231.7 262.2,1238.5 447.3,1281.4 347.9,1287 335.3,1266.1 416.9,1282.2 395.7,1301.9 235.5,1258 456.6,1248.4 238.7,1235.4 329.8,1258 269.6,1265.5 197.2,1274.4 235.5,1234 207,1248.4 359.6,1255.9 208.1,1236.9 340.9,1242.7 298.3,1278.8 215.7,1236.6 154.9,1283.6 228.8,1253.4 236.6,1283 253.9,1274.4 226.7,1256 249.8,1254.5 258,1241.6 215.4,1280.6 192.5,1252.5 312,1290 301.1,1255.1 183,1250.5 216.8,1301.1 267.6,1256.3 279.5,1286.8 162.9,1232.9 238.5,1255 403.9,1263 309.4,1243.2 283.5,1273.9 473.7,1242.2 255.8,1257.1 271.1,1289.4 318,1277 415.9,1273.7 283.5,1282.7 280.8,1271.8 267.4,1259.6 235.9,1291.2 286.5,1268 255.7,1257.9 330.7,1240 277.5,1272.3 370.8,1259.3 217.8,1267.5 336,1261.2 246,1294.3 270.8,1240.1 278.8,1275.8 408.4,1233.6 290.9,1243.7 301.2,1276.8 299,1272.6 143.4,1273.7 318,1261.9 230.3,1272.9 360.3,1277.7 287.6,1261.6 210.4,1264.7 334.9,1273.6 140.1,1241.1 200.6,1237.7 270.5,1278.1 312.5,1254.5 335.2,1233.1 211.3,1299.9 159.3,1251.3 283.6,1240.9 252.4,1233.7 196.5,1244 258.9,1238.5 185.2,1302 217.6,1288.1 252.3,1249.5 243.3,1277.9 290.7,1268.7 272.9,1254.5 238.3,1241.2 254.2,1257.9 193.1,1285 278.1,1288.2 387.6,1253.6 238.8,1249.2 289.7,1254.5 220.7,1260.4 352.7,1261.2 200,1299.2 280.6,1264.7 162.1,1244.8 195.7,1292.5 249,1253.2 227.6,1246.4 392.4,1265.6 161.5,1270.3 223.2,1294.5 375.5,1291.6 189.2,1246.3 453.3,1264.2 266.9,1256.2 335.1,1235.5 306.4,1297.9 130.5,1261.4 289.1,1259.7 229.5,1288.8 228.3,1280.2 350.2,1239.8 280.4,1245.9 298,1241.1 186.3,1255.6 321.9,1260.8 289.1,1251.1 192.9,1267.7 202,1258 287.8,1250.1 242.2,1265.8 264.4,1280.6 275.2,1264.9 222.5,1271.9 220,1283.9 255.2,1243.1 204.5,1256.3 276.8,1266.2 195,1281.7 338.7,1300.6 274.8,1248.1 279.9,1249 368.8,1283.6 315.6,1261.4 273,1285 262,1260.5 219.8,1252.2 161.5,1253 390.7,1256.6 229.9,1270.6 307,1262.7 408.7,1231.8 268.3,1279.8 278,1279.5 411.9,1237.3 242.6,1250.8 284,1242.6 331,1260.7 183.3,1270.3 254.2,1266.6 329.2,1254.9 370.3,1274.5 275.6,1266.9 384.4,1255.7 205,1266.1 239.5,1245.8 223.9,1255.3 327.7,1238.4 216.2,1259.5 277.5,1267 254.2,1248.2 228.8,1240.4 390.1,1273.7 308.7,1284.2 210.1,1275.8 193.4,1253.2 205.8,1274.4 338.4,1257.1 401.3,1295.5 318.4,1298.9 243.3,1247.8 326.6,1256.1 307,1270 251.2,1241.9 233.5,1286.2 222.6,1246.1 374.9,1231.6 225.8,1244.9 402.5,1275.4 232.6,1270.9 278,1285.6 233.9,1231.4 285.2,1264.2 297.1,1264.5 272.8,1256.8 259.6,1279.3 270.1,1249.7 217.4,1250.3 297.2,1251.9 216.8,1261.5 290.3,1267.7 382,1298.1 276.8,1275.3 230.3,1267.7 241.6,1270.6 275,1284.4 292,1251.1 251.1,1277.9 340.3,1231.3 238.4,1241.9 326.1,1261.2 166.3,1300.8 217.6,1243.5 238.3,1238.7 315,1246.7 170.6,1270.6 272.4,1247.4 270.8,1282.7 314.7,1257.1 198.6,1254.1 292,1269.2 318.8,1288.2 293.5,1269 186.1,1285.4 249.7,1293.4 226.7,1237 302.7,1267.3 323.7,1276.4 249,1276.5 301.3,1252.6 217.3,1271.6 268.6,1281.3 237.5,1256.7 372.9,1259.9 282.2,1286.2 274.2,1290.5 199.9,1270.6 149.5,1233.2 220.7,1248.5 268.5,1265.4 215,1269.6 261.4,1279.8 193.2,1273.4 275.3,1284.3 221.1,1267.5 205.3,1287.2 304,1260.7 236.7,1295.2 237.1,1250.5 304.8,1255.1 416.9,1258.3 228,1278.8 342.7,1231.4 238.1,1267 246.5,1283.1 242.6,1247.5 369.3,1269 304.1,1260.1 385.7,1247.4 199.3,1297.9 355.9,1245.4 280.5,1290 283.7,1295.1 326.4,1273.5 255,1279.6 359.4,1252 213.3,1287.2 375.1,1248 236.2,1255.7 252.7,1234.7 375.5,1259.3 250.4,1263.6 240.5,1255.8 297.5,1243.9 270,1258.8 268.6,1259.2 296.6,1249.6 353.8,1241.9 362.7,1286.4 181.8,1265.6 186.9,1253 393.5,1257.4 470.4,1287.9 257.3,1255.8 209.2,1245.7 328.9,1253.2 406.8,1285.8 315.1,1252.7 292.4,1266.8 262.9,1281 382.5,1300 169.3,1281.5 414.9,1274.4 243.2,1262.4 275.1,1263.5 284.5,1258.2 249.5,1265.5 270.8,1283.6 175.6,1282.2 207.4,1277.2 287.8,1257.6 201.8,1245.8 215.2,1252.6 232.1,1231.9 335.4,1256.4 184.2,1277.9 241.1,1236.6 335.2,1263.3 239,1281.7 232.7,1262.2 208.3,1247.5 249.2,1279.9 177.8,1270.8 205.6,1279.5 206.5,1257.7 381.3,1266 201.1,1296.7 272.4,1301.3 278.4,1235.2 380.6,1296.4 344,1292.9 217.4,1285.4 299,1297.7 254.2,1288.9 259.5,1244.9 355.5,1283.3 303.3,1267.9 281.7,1280.1 253.8,1263.6 156.1,1263.3 427.2,1251.7 162,1287.3 236.5,1272.3 243.7,1263.5 178.2,1248.8 226.2,1244.7 248.8,1290.5 169.6,1289.3 265.9,1276.4 245.7,1296 407,1295.1 264.1,1239.3 286.5,1293.4 222.6,1257.4 216.2,1259.7 300.6,1274.3 213.6,1299.7 198.2,1289.6 269.1,1272.1 401.6,1257.4 287.4,1236.9 436.5,1247.3 287,1274.1 246.6,1274.1 229.8,1235.1 358.5,1278.7 222.9,1233.8 182.6,1250.6 375.6,1258.5 319.7,1293.1 341.3,1297.2 255.5,1253.9 192,1277.6 203.2,1254 210.3,1292 334.2,1267.7 196.2,1268.1 168.5,1278.7 214.8,1277.3 266.4,1252.4 480.1,1262.6 305.4,1262 212.3,1261.3 204.8,1282.3 288.1,1248.7 253.2,1277.3 300.4,1289.8 307.1,1248 207.6,1277.6 214.3,1274.7 210.8,1268.1 201.4,1288.8 212.1,1268.3 308.6,1249.2 300.5,1267.5 354.5,1269.9 260,1286 386.3,1264.1 128.5,1248.1 344.3,1239.9 201.1,1265 206.2,1289.3 318.4,1281.9 347.3,1271.4 274.3,1284 359.2,1270 359.2,1282 355.4,1268.8 192.2,1251.9 164.6,1271.1 411.9,1276.2 233.8,1265 177.6,1254.6 134.6,1264.4 181.2,1250.7 413.3,1249.7 350.9,1257.2 313.6,1246.3 291.8,1264.1 324.6,1235.6 188.8,1254.2 345.3,1243.2 224.1,1269.4 289.9,1300.4 341.7,1275.8 252.8,1263.4 149.8,1255.1 207.6,1265.3 244,1297.3 213.6,1269 243.2,1281.6 229,1263.7 225.7,1247.8 314.8,1297.6 264.7,1291.5 269.8,1265.9 255.2,1301.6 183.5,1283.6 360.9,1232.1 189.4,1265.9 184,1265.1 256.6,1236.6 309,1261.4 284.7,1265.7 347,1257.7 177.2,1289.5 185.2,1275.3 282.6,1267 302.9,1246 284.5,1282.7 182.6,1249 281,1253.8 216.3,1245 251.2,1287.2 128,1271.8 179.8,1264.5 206.4,1257.2 338.3,1234.4 244.1,1259.7 323.5,1270.1 283.5,1269.4 245.3,1257.6 145.7,1244.9 280.8,1258 427.8,1278.1 273.2,1272.9 314.8,1284.2 217.3,1286.2 176,1276.6 283.1,1278.8 282.9,1245.3 470.3,1294.2 216.8,1262.7 241.4,1293.7 317.7,1244.7 244.2,1256.9 400.8,1233 268.2,1250.9 200.7,1289.9 287.7,1263.5 231.5,1280.1 353.1,1277.4 170.1,1289.8 159.2,1272.1 329.1,1262.2 285.6,1259.2 280,1268.5 304,1262.3 223.8,1266.7 295.6,1270.7 464.8,1271.9 325.3,1263 233.4,1269.3 196.2,1246.3 231.2,1253.8 337.2,1286.2 296.3,1264.4 207.3,1256.8 271.7,1271.2 236.2,1270.1 454.2,1266.7 191,1249.3 179.9,1260 401.5,1277.7 343.6,1265.6 290.3,1234 312.4,1287.9 214.3,1248.2 287.7,1270.5 326.9,1248.9 179.9,1263.1 275,1267 265.5,1301.7 221.2,1277 208.2,1255.5 256.5,1271.4 278,1264.6 260.2,1263.3 131.9,1287.7 237.6,1261.7 171.4,1251.9 301.4,1300.5 356.8,1270.2 184,1243.9 340.7,1234.3 188,1295.9 238.8,1266.4 251.9,1272.5 275.5,1238.3 217.5,1256.4 196.4,1262.3 209.7,1249.6 314,1275.4 190.4,1240.5 305.7,1272.6 313.4,1237.4 202.1,1259.8 358.1,1258.6 232.2,1292 117.1,1301.9 306.3,1302.6 176.5,1252.3 417.8,1231 326.3,1272.2 217.3,1297.1 230.4,1255.9 143.5,1294.5 287.5,1263.4 194,1270.8 243.5,1235.1 362.9,1242.4 284.5,1241.5 262.7,1275.6 113.7,1233.9 335.6,1266 192.2,1261.5 195.6,1253.6 220.9,1257.7 278.4,1296.8 305.4,1248.6 453.6,1252.9 252.8,1266 242.8,1262.5 251.7,1290.9 235.5,1240.1 354.2,1268 200.8,1243.7 201.4,1282.1" fill="none" stroke="none" marker-start="url(#mk)" marker-mid="url(#mk)" marker-end="url(#mk)"/>
<path d="M103.9 1064.2H487.6V1449H103.9ZM120 1449v-3.8M120 1064.2v3.8M180.7 1449v-3.8M180.7 1064.2v3.8M241.4 1449v-3.8M241.4 1064.2v3.8M302.1 1449v-3.8M302.1 1064.2v3.8M362.8 1449v-3.8M362.8 1064.2v3.8M423.5 1449v-3.8M423.5 1064.2v3.8M484.2 1449v-3.8M484.2 1064.2v3.8M103.9 1432.4h3.8M487.6 1432.4h-3.8M103.9 1371.6h3.8M487.6 1371.6h-3.8M103.9 1310.7h3.8M487.6 1310.7h-3.8M103.9 1249.9h3.8M487.6 1249.9h-3.8M103.9 1189h3.8M487.6 1189h-3.8M103.9 1128.2h3.8M487.6 1128.2h-3.8M103.9 1067.3h3.8M487.6 1067.3h-3.8" fill="none" stroke="#3c3c3c" stroke-width="1.05"/>
<text class="ss" transform="translate(120 1468.6) scale(0.94 1)" font-size="13.0" fill="#262626" text-anchor="middle">2</text>
<text class="ss" transform="translate(180.7 1468.6) scale(0.94 1)" font-size="13.0" fill="#262626" text-anchor="middle">2.5</text>
<text class="ss" transform="translate(241.4 1468.6) scale(0.94 1)" font-size="13.0" fill="#262626" text-anchor="middle">3</text>
<text class="ss" transform="translate(302.1 1468.6) scale(0.94 1)" font-size="13.0" fill="#262626" text-anchor="middle">3.5</text>
<text class="ss" transform="translate(362.8 1468.6) scale(0.94 1)" font-size="13.0" fill="#262626" text-anchor="middle">4</text>
<text class="ss" transform="translate(423.5 1468.6) scale(0.94 1)" font-size="13.0" fill="#262626" text-anchor="middle">4.5</text>
<text class="ss" transform="translate(484.2 1468.6) scale(0.94 1)" font-size="13.0" fill="#262626" text-anchor="middle">5</text>
<text class="ss" transform="translate(97.4 1438.2) scale(0.94 1)" font-size="13.0" fill="#262626" text-anchor="end">2</text>
<text class="ss" transform="translate(97.4 1377.3) scale(0.94 1)" font-size="13.0" fill="#262626" text-anchor="end">2.5</text>
<text class="ss" transform="translate(97.4 1316.5) scale(0.94 1)" font-size="13.0" fill="#262626" text-anchor="end">3</text>
<text class="ss" transform="translate(97.4 1255.6) scale(0.94 1)" font-size="13.0" fill="#262626" text-anchor="end">3.5</text>
<text class="ss" transform="translate(97.4 1194.8) scale(0.94 1)" font-size="13.0" fill="#262626" text-anchor="end">4</text>
<text class="ss" transform="translate(97.4 1133.9) scale(0.94 1)" font-size="13.0" fill="#262626" text-anchor="end">4.5</text>
<text class="ss" transform="translate(97.4 1073.1) scale(0.94 1)" font-size="13.0" fill="#262626" text-anchor="end">5</text>
<rect x="117.6" y="1078.6" width="68.8" height="51.8" rx="0.8" fill="#fff" stroke="#3c3c3c" stroke-width="1"/>
<circle cx="136" cy="1088.3" r="3.9" fill="none" stroke="#000" stroke-width="0.9"/>
<path d="M121.6 1104.8H150.3" stroke="#0000d8" stroke-width="2.4"/>
<path d="M121.6 1120.8H150.3" stroke="#6e6e6e" stroke-width="1.05" stroke-dasharray="1.2 2.1"/>
<text class="ss" transform="translate(153.6 1092.2)" font-size="12" fill="#111">Data</text>
<text class="ss" transform="translate(153.6 1108.6)" font-size="12" fill="#111">Fit</text>
<text class="ss" transform="translate(153.6 1124.9)" font-size="12" fill="#111">Y = T</text>
<text class="ss" transform="translate(296.4 1058.7)" font-size="14.5" text-anchor="middle" font-weight="bold" letter-spacing="0.8">: R=0.013035</text>
<text class="ss" transform="translate(296 1488.8)" font-size="14.5" text-anchor="middle" font-weight="bold" letter-spacing="0.8">Target</text>
<text class="ss" transform="translate(72 1256) rotate(-90)" font-size="14.5" text-anchor="middle" font-weight="bold" letter-spacing="0.8">Output ~= 0.0031*Target + 3.4</text>
<text class="ss" font-size="100" stroke="#000" stroke-width="2.45" stroke-linejoin="miter" transform="matrix(0.5057 0 0 0.5153 4.78 1101.58)">D</text>
<text class="sf" transform="translate(293.3 1527.6) scale(0.962 1)" font-size="36.8" text-anchor="middle">CD41</text>
<text class="sf" transform="translate(35.5 1256.4) rotate(-90) scale(0.94 1)" font-size="36.8" text-anchor="middle">DENV</text>
</g>
<text class="sf" transform="translate(525.3 1106.9) scale(0.94 1)" font-size="37.5" text-anchor="end" font-style="italic">r</text>
<text class="sf" transform="translate(531.6 1106.9)" font-size="37.5">=</text>
<text class="sf" transform="translate(561.5 1106.9) scale(0.95 1)" font-size="37.5">0.0</text>
<text class="sf" transform="translate(525.3 1149.7) scale(0.94 1)" font-size="37.5" text-anchor="end" font-style="italic">p</text>
<text class="sf" transform="translate(531.6 1149.7)" font-size="37.5">=</text>
<text class="sf" transform="translate(561.5 1149.7) scale(0.95 1)" font-size="37.5">0.67</text>
<text class="sf" transform="translate(525.3 1192.5) scale(0.94 1)" font-size="37.5" text-anchor="end" font-style="italic">n</text>
<text class="sf" transform="translate(531.6 1192.5)" font-size="37.5">=</text>
<text class="sf" transform="translate(561.5 1192.5) scale(0.95 1)" font-size="37.5">2086</text>
<g id="panelE">
<path d="M1097 1448.4L1181.7 1363.7" stroke="#6e6e6e" stroke-width="1.05" stroke-dasharray="1.2 2.1" fill="none"/>
<path d="M839.9 1448.4L1165.7 1066.3" stroke="#0000e0" stroke-width="2.7" fill="none"/>
<polyline points="946.5,1341.6 922.2,1351.4 936.8,1311.2 1055.8,1236 877,1425.4 939.9,1312.5 1060.1,1195.8 952.9,1279.1 938.5,1349.6 908.3,1361.9 891.5,1385 843.3,1427.3 1137.9,1082.7 1087.1,1166.3 875.6,1423.9 952.3,1330.5 1001.4,1237 1079.7,1204.2 955.1,1260.6 969.6,1274.9 1133.2,1100.6 966,1286.1 987.3,1237.4 1007.6,1191.2 1000.2,1282.9 985.8,1274 983.6,1298.3 901.6,1389.9 1043,1236.5 980.7,1278.1 979.2,1321.6 927.9,1312.3 930.8,1336.8 957.2,1283.6 997.9,1290.7 953,1298.4 1042,1173.3 857.4,1402 1048,1167.9 892.1,1334.3 948.4,1264.5 1077.3,1189.4 1046.2,1220.8 1021.4,1222.2 990.6,1232.9 1076.6,1186.7 988.2,1248.4 966.5,1275.9 1039.3,1228.6 1018.6,1261.8 1144.9,1147.7 882.7,1436.2 1046.4,1197.4 940.1,1319.1 1056.7,1199.6 939.9,1334.4 962.5,1270.1 1050.2,1188.9 997.7,1288.2 945.9,1342.5 1065.5,1157.8 1104.5,1151.9 906.1,1318.5 914.5,1373.9 1014.7,1215.7 979.3,1281.2 1118.9,1123.8 1055.4,1175.5 976.5,1299.3 955.1,1338.4 971.2,1318.5 969.8,1286.5 874.4,1399.3 964.3,1253.8 885.1,1380.6 1044.8,1173.2 949.7,1281.4 1017.6,1244.8 1003.5,1211.6 1019.2,1259.2 940.9,1336.8 1092.8,1106.7 901.2,1393.4 1065.1,1127.9 1073.1,1119.5 1069.5,1211.2 1106.4,1118.9 1058.2,1136.5 1109.1,1160.4 1015.1,1270.7 937.1,1322 1008.7,1216.7 974.4,1292.5 940.6,1313.3 962.1,1290.4 1032.2,1204.2 998.2,1245.3 1122.2,1153.2 1094.2,1169.2 1039.7,1245.6 1075.1,1117.2 1013,1274.1 1025.3,1193.9 951.8,1349 909.8,1355.2 993.6,1255.5 967.4,1285.3 905.4,1378.9 1054.9,1207 1019.8,1239.7 951.4,1262.8 1040.5,1243.7 1066.8,1189 918.3,1404.5 1030.4,1191.8 987.7,1282.8 1033.9,1266.2 1044.4,1248.8 949.5,1336.5 1016,1260.6 1063.4,1200.2 868.2,1424 981.6,1330.6 947.1,1314.7 978.4,1288.8 929.3,1318 952.7,1370.5 1109,1102.9 905.2,1329.7 1091.1,1139.9 1111,1163.9 1010.7,1281.9 1110.2,1135.9 1128.3,1097.8 1073.8,1154.7 884.1,1394.7 1038.4,1228.1 991.8,1272.2 934.2,1360.1 897.3,1365.8 1063.1,1142.7 1084.4,1209.7 1125.5,1093.9 973.8,1325.7 1061.1,1227 1039.2,1226.8 1064.4,1162.3 999.2,1271.1 944,1280.2 942.9,1324.8 990,1254.8 946.8,1365.9 1096.7,1188.9 1087.3,1122.5 920.8,1411.4 960.3,1251.8 918.4,1413.4 1020,1239.3 1097.1,1139.8 1061.9,1236.9 1092.9,1174.9 993.9,1212 937.2,1388.9 1004.5,1255.4 942.2,1339.3 1062,1174.4 938.2,1370.5 1130.7,1076.2 1086.7,1192.8 949.3,1272.6 905.7,1338 871,1362.4 984.9,1325.9 1043.4,1203.1 1002.1,1286.2 987.7,1282.4 936.8,1343.8 967,1283.1 987.6,1316.4 1032.6,1181.1 1036.5,1235.8 954.9,1297.5 1008.2,1255.6 1039.5,1202.6 849,1407.6 1089.7,1170.5 968.1,1262.7 1016.9,1258.4 1090.4,1138.8 989.8,1277.4 1010.9,1276.1 1007.4,1285.9 1138.4,1126.1 1099.7,1164.3 1035.4,1168.2 1008,1292 1055.6,1171.7 969.4,1334.2 892,1370.3 1023.1,1204 1015.3,1241.4 1068.4,1173.7 940.9,1302.6 978.3,1314.3 907.4,1348.5 1044,1201.2 953.6,1291.6 1101.4,1125.1 901.3,1373.9 1029.2,1240.4 993.5,1299.2 1022.2,1219.3 1017.4,1208.3 956.3,1298.3 928.2,1322.9 1064.4,1187.4 994.9,1308.8 982.5,1227.9 1053.3,1237.9 1142.7,1087.3 1026.6,1217 1119.6,1141.3 964.6,1339 853.8,1419.9 1052,1245.3 918.8,1339.9 889.7,1369.8 1001.1,1304.2 1029.2,1196.6 967.5,1349.2 1021,1226 879.8,1430.8 980.2,1303.9 1020.7,1229.6 969.4,1267.2 988.9,1248.5 968.2,1332.3 1031.7,1227.4 989,1240.4 952.3,1316.6 980,1290.1 1015.2,1253.8 1129.6,1096 1021.1,1229.8 1010.9,1251 1078.1,1127.3 968.1,1303.8 1062.3,1208.7 1023.5,1187.1 1086,1169 1063.5,1220.6 946,1342.3 1124.3,1131.7 948.4,1365.3 977.3,1269 1097.4,1150.5 966.5,1298.3 1020.4,1196.6 1115.1,1126.2 904.2,1384.4 864.3,1378.9 1039.4,1158.5 1014.7,1233.4 948.9,1355.2 851.2,1415.4 947.5,1368.7 1075.3,1120.4 872.8,1399.5 1044.7,1244.9 993,1325.9 919.2,1313.5 1087.2,1172.1 985.7,1297.7 956.4,1302.5 1108,1092 1017.8,1241.5 934.4,1323.9 974,1286.2 883.9,1414.3 933.6,1311.4 1040.3,1220.2 1068.6,1201.7 997.7,1296 993.5,1277.3 1021.1,1294.2 872.1,1385.2 984.6,1258.1 1011.8,1226.9 1073.9,1171.5 1076.9,1183.8 1074.3,1136.3 1116.4,1094 1035.1,1187.5 1044.2,1226 862.4,1404.6 960.4,1311.5 965,1322 857.3,1385.1 1056.8,1248.7 925,1359.8 937.7,1386.1 891,1339.1 971,1267.7 939.9,1319.9 1070.4,1226 917.7,1358.4 916.9,1329.8 1060.9,1162 992.8,1253.4 996.2,1303.3 997.4,1260.6 1058.5,1177.4 1047,1171.1 839.9,1408 1063,1183.9 943.8,1297.9 1093.3,1115.2 1062.5,1240.6 984.1,1269.4 1110.7,1121.8 1018.3,1215.4 976,1261 962.6,1292.3 996.2,1260.2 898.1,1434.7 980,1292.3 896.8,1416.9 892.8,1440.6 996,1224.3 941.9,1366.1 968.4,1338.8 1029.4,1179.6 921.3,1295.8 1046,1190.6 913.7,1374.4 1073.3,1153.6 893.2,1364.7 1032.4,1218.7 999.8,1249.9 960.9,1300.5 1059.9,1207.4 958.1,1318 1115.4,1129.5 1074.8,1228.6 1018.7,1228.3 1042.9,1185 1075.9,1113.7 933.1,1399.5 1056,1166.1 1026.6,1194.4 959.4,1320.8 936.9,1365.4 1040,1242.8 914.3,1391.3 965.6,1323.2 884.5,1415.3 1083.9,1133.1 1032.2,1221.7 1039.6,1192 1104.4,1150.7 945.9,1346.8 934.4,1370.5 940.4,1331.8 934.6,1324.9 1051.7,1228.4 897.1,1376.6 1043.2,1253.5 1058.9,1215.7 918,1411.7 1052.1,1203.7 886.2,1373.6 1050.9,1215.5 893.1,1331.2 986.6,1280.2 937,1301 974.3,1303.9 1030.9,1226.9 965.6,1339.7 1118.4,1095.7 1101.3,1152.5 912.4,1328 910.9,1332 1006.6,1245.3 923.2,1362.3 974.9,1304.4 952.9,1313.7 1146.9,1085.5 1012,1196.3 1018.7,1273.3 986,1313.5 922.5,1308.5 904.4,1347.2 1059.2,1208.7 968.1,1306.4 932.9,1318 1120.4,1130.6 1065.2,1212.8 941.9,1323.8 1010.1,1220.3 1128.8,1147.5 898.9,1397.2 904,1350.9 998,1274.6 1006.7,1217.4 1079.1,1203.5 927.1,1321.8 1037.7,1189.9 979.8,1322.8 894.5,1352.9 1031.6,1181.6 1000.9,1244.9 1116.1,1155.3 1052.7,1203.5 976.5,1296.9 1092.5,1102.4 1074.5,1185 1028.4,1216.7 945,1301.6 1027.5,1176.8 1065.5,1147.4 1049.4,1248.2 957.3,1262.7 1029,1273.7 899.9,1396.6 954.8,1374.3 1013.8,1259.4 1074.4,1143.8 895.5,1381.2 990.9,1228.5 1069.7,1138.3 914.6,1369.2 1088.1,1178.7 1028.3,1174.7 1085.1,1132.4 876.4,1355.8 934.4,1349.1 887.8,1419.3 915.2,1351.8 1044.1,1229 994.3,1293.7 1064.7,1220.3 1037.8,1221.1 865.9,1430.7 944.4,1308.4 1039.7,1190.3 971.3,1244.3 952.8,1303.3 1049.4,1193.4 832.8,1437.2 1023.6,1226.1 968.2,1282.7 941.8,1351.4 1040.6,1207.5 892.6,1438.5 1018.9,1195.1 1127.7,1102.7 1020.5,1217.3 1059.7,1246 996.2,1303.6 886.4,1418.5 1061.6,1148 897.6,1356.4 919,1355 896,1340.2 955.8,1270.1 874.4,1379 977.5,1292.1 894.9,1366.8 1055.3,1191.4 875.9,1424.9 860.8,1445.6 1040,1253.2 924.4,1351.7 945,1334.2 960.1,1272.9 984.1,1281.8 995.3,1284.7 1025.5,1260.7 1034.5,1234.1 994.9,1207.2 844.7,1404.1 1139.3,1143.6 967,1338.8 1006.9,1307.3 960.1,1263.8 1096.4,1124.7 1083,1148.6 885,1415.9 975.8,1306.8 1135,1113.4 894.8,1399.8 1100.4,1183.8 978.7,1294.8 934.4,1334.7 906.6,1366.8 1046.7,1252.6 916.1,1332.9 945.7,1380.6 1034.4,1250.1 1123.9,1165.4 946.1,1320.8 1042.2,1246.5 1051.4,1152.3 969.9,1309.8 1028.6,1194.8 962.3,1342.4 881.4,1427.4 838.9,1432.7 1141.8,1133.8 1147.6,1088.7 1082.6,1149.8 985.4,1259.4 899.4,1350.3 1049.4,1224.3 925.7,1342.6 923.4,1400.2 1023.7,1247.5 1102,1083.6 931.9,1322.3 975.2,1337.7 1106,1166.4 955.6,1373.9 1052.5,1218.8 1063.9,1236.1 1087.3,1097.7 938.5,1330.9 1026,1272 951.2,1356.2 1033.8,1268.5 1066.5,1192.4 1090,1164.3 977.2,1272.7 1036.6,1255.4 930.7,1366.4 1091.8,1139 1036.5,1169.2 846.1,1395.7 1043.9,1260.2 1015.8,1257.4 992.1,1245 973.8,1329.5 1106.7,1189.3 1023.2,1237.6 1059.7,1221.1 948.9,1338.9 932.7,1391.9 965.7,1288.7 918.6,1390.5 919.3,1407.1 895.8,1430.2 958.2,1364.5 994.3,1248.8 979.2,1258.1 895.5,1414.4 890.8,1422.8 941.2,1299.3 1096.4,1091.6 1055.4,1176 960.9,1299.1 1040.5,1152 933,1324.4 947.6,1317.6 997.9,1224.2 991.7,1240 1013.2,1250 999.3,1286.5 871.2,1439.3 878.5,1418.6 922.2,1364.3 991.3,1284.8 1013.5,1293.4 957.2,1290.2 1005.7,1255.5 959.6,1290 1076.2,1114.1 905.1,1379.5 860.6,1419.8 915.5,1387.3 938.9,1295.6 979.3,1266.8 947.9,1278.2 926.2,1399.5 888.3,1441.6 1072.8,1216.6 997.3,1284.1 1024,1208.5 1042.7,1236.2 1137.1,1101 1059.3,1236.5 1086.2,1170.6 1004.5,1199.2 858.4,1415.2 1028.9,1214.1 1044.6,1177.2 1068.1,1201.3 1008.8,1300.7 1014,1289.3 951.4,1337.7 1049.7,1154.4 895.6,1383.1 989.5,1292.7 925.2,1345.4 988.5,1303.4 1002.6,1222.9 980.9,1251.8 940.7,1362 1105.6,1186.4 1015.3,1225 865.5,1431.1 960.5,1273.5 917,1323.2 1045.7,1204 1030.2,1214 1029.9,1282.3 919.4,1415.5 921.1,1353.1 970.4,1283.5 1106,1157.7 912.2,1338.7 990.6,1227.9 1025.5,1216.1 943.4,1330.3 1025.8,1231.5 935.7,1335.1 884.7,1375.9 955.5,1294.5 985.9,1292.5 1022.2,1209.3 1114.4,1150.7 902.5,1378.4 1048.9,1163.3 904.7,1378.6 965.4,1286.1 1122,1158.1 1061.1,1191.6 983.8,1264.4 1064.8,1218.6 941.4,1323.8 1110.4,1151.8 1061.7,1164.4 964.7,1334.5 958.6,1275.6 907.4,1411.8 1066.9,1178.8 1069,1188.9 914.3,1356.9 958.1,1298.6 986.9,1261 954.5,1271.3 982.6,1278.5 941.1,1354.4 926.9,1401.8 1034.9,1239.6 961.9,1344.3 923.4,1312.2 1155.6,1122.9 1042,1230.6 925.2,1337.7 1080.7,1106.1 1105.3,1141.7 976,1250.1 884.4,1366.9 1040.4,1216.8 998.3,1300.8 995.1,1283.7 915.8,1344.9 927.8,1283.6 1095,1181.9 1017.8,1298.1 862.9,1418.7 938.4,1308.6 906.8,1308.9 872.9,1380.1 1040.2,1229 889.1,1409.1 1083.4,1132.7 1068.8,1209.9 957,1299.5 1049.8,1199.5 1041.6,1204.5 1116.4,1079.6 901,1333.7 1030.2,1249.6 935.2,1358 1037.5,1212.7 1051.1,1204.9 1061.7,1236 1100.3,1118 955.6,1304.9 1006.4,1263.1 1089.5,1196.6 1022.5,1216.8 1126.1,1113.4 950.7,1294.2 995.3,1226.7 1077.1,1170.8 1030,1215.5 979.9,1293.7 1032.6,1208.2 877.6,1444.3 1016.3,1219.6 1058,1243.9 1019.6,1236.6 917.6,1308.6 919.5,1378.8 860.1,1398.5 1137.5,1085.1 943.5,1350.5 951.5,1303.3 887.1,1439.1 1075.3,1187.2 1079.1,1217.7 1004.3,1216.9 1017.5,1198 1032.2,1240.1 947.8,1314.2 886.7,1334 986.8,1278 983.6,1257.3 1056.3,1170.8 1006.2,1271.7 1034.3,1248.6 1020.1,1195.7 1065.9,1207.6 973.3,1283.9 1022.3,1241.6 1069.5,1142.5 1086.2,1186 906.9,1356.5 1100.2,1133.5 1105.8,1178.8 1108.7,1120.1 1032.2,1183.6 1125.5,1098.1 1005.1,1282.2 1089.3,1180.9 1032.3,1276.3 964,1348.6 1051.3,1187 1003.2,1256.5 1059.7,1192.5 1094.3,1148.3 1055.9,1164.8 1001.4,1311.8 1088.4,1171.8 1037,1243.5 1068.8,1174.1 943.3,1371.5 1129.9,1136.7 964.8,1330.6 1033.7,1211.8 1088.4,1208.9 939.9,1325.3 957,1292.1 992.8,1265.3 1096.1,1101.3 1098.9,1142 900.8,1369.7 1005.6,1245.3 1108.9,1097.2 1114.9,1107.8 970.9,1293.5 962.5,1276.9 882.3,1430.4 1024.9,1199 1028.4,1275.5 1067.5,1128.4 1000.9,1284.1 989.4,1282.7 983.6,1289.9 1102.6,1119.9 967.3,1317.8 885.4,1369.4 935.9,1321.9 950.6,1269.1 1047.2,1240.4 971.1,1311.9 1024.9,1280.7 891.8,1413.3 1063,1195.6 982.8,1334.3 1021.8,1236.7 961.7,1320.9 955.4,1332.9 1126.6,1088.1 1102.2,1156.4 997.5,1272.6 1142.8,1100.8 1097.3,1145.3 875.9,1395.9 1026.3,1242 980,1316.5 923.6,1325.1 1087.5,1153.1 971.2,1293.6 1051.7,1203.7 869.7,1445.1 1027.3,1248.7 952.6,1354.6 1149.7,1135.2 1045.3,1172.8 991.6,1280 1015.3,1278.6 986.7,1279.3 1073.4,1132.2 1038.4,1222.4 905,1360 1109.7,1160.1 1024.7,1252.5 1017.8,1252.1 1137.3,1122.7 989.5,1253.5 1069.4,1227 988.9,1253.7 958,1350.2 960.3,1303.4 943.6,1278.2 1090.9,1213.9 967.6,1274.5 909.3,1310.2 975.3,1289.9 1074.7,1119 936.6,1368.5 846.4,1441.4 1024.6,1202.5 991.8,1233.5 955,1320.5 1133.3,1113 1099.6,1108.2 1138,1096.1 981.2,1313.8 1019.5,1273.8 989.9,1255.3 1010.1,1308 874.3,1384.1 921.4,1296.2 1072.6,1224.3 1124.8,1129.8 1006.5,1220.3 1022.9,1251.5 843.5,1426.2 983.6,1284.2 915.5,1335.7 947.4,1348.8 996.6,1246 960.3,1303.8 995.9,1277.8 1012.9,1284 952.9,1302.7 1055.3,1205.5 1071.1,1151 891.6,1368.6 898.1,1426.2 1036.7,1215.9 1027.8,1186.2 902.5,1351 1038.6,1227.4 955.9,1366 985.1,1273.2 1014.4,1235.2 1115.4,1079.4 1000.9,1262.8 987.1,1274.8 972,1279.4 1056.1,1140.3 1112.2,1090.2 932.9,1359 965.3,1259.8 980.9,1273.2 1004.3,1194.9 944.5,1344.2 1064.9,1154.5 932.4,1312.2 990.4,1306.4 939.5,1330.7 993.1,1276.6 994.8,1285.1 1063.7,1213.1 1124.7,1169.7 950.7,1302.3 915.4,1356.4 933.7,1332.4 1076.3,1175.5 942,1315.5 1016.9,1266.8 978,1323.3 897.2,1365.3 901.8,1361.9 939.6,1310.5 1008.1,1234.8 1126.6,1160 1041.3,1257.9 959.7,1336.1 947.4,1298.5 1115.5,1168.8 1012.3,1206.8 1073.3,1144.7 1000.3,1278.3 1034.5,1192.7 978.5,1278.6 1040.3,1212.6 1084.3,1149.9 937.9,1286.2 946.9,1295.8 867.7,1439.4 1023.1,1178.8 1044.5,1251.2 923.2,1304.4 1051.2,1150.5 967.9,1307.1 911.7,1317.9 954.3,1289.6 903.4,1404.4 1066.1,1220.8 1025.1,1279.7 1098.6,1186.7 997.4,1259.7 1131.6,1120.1 1065.7,1162.8 1037.9,1234 1115.9,1098.6 1026.4,1211.8 897.6,1396.9 1112.4,1176.3 941,1303 965.1,1302.7 1112.3,1160.3 948.3,1335.8 987.6,1233 1073.4,1182.4 897,1353.8 1114.2,1186.2 884.9,1413.7 878.8,1418.8 1010.3,1302.4 1075.3,1187.1 920.6,1301.6 956.9,1273.5 860.3,1392.1 931.4,1382.9 1117.3,1110.2 977.1,1276.6 897.7,1353.4 930.2,1358.8 1162,1106.1 918.9,1396.3 1029.6,1218.5 957,1335 1004.4,1255.8 1048.7,1214.1 1152.7,1075 1032.6,1168.9 1048.7,1190 962,1316.3 903.1,1337.9 904.5,1393.5 996.5,1222.3 1030.5,1244.8 975.6,1329.8 927.4,1325.5 1045.9,1184.8 1004.5,1248.2 993.7,1229.6 966.9,1293.8 978.3,1275.7 997.6,1222.1 1018.3,1222.4 1021.7,1226.2 968.7,1243.4 954.7,1290.1 901,1357.4 952.4,1310 932.9,1344.7 918.5,1294.5 962.8,1267.6 1009.6,1305.6 936.4,1312.6 919.1,1399.1 948.7,1361.2 915.7,1393.7 944.4,1329.6 915.3,1315.7 892.8,1388.3 864.3,1406.2 974.4,1277.5 847.7,1424.8 1100.7,1168.9 886.2,1383.3 1024.5,1224.7 951.7,1290.2 1114.8,1147.8 969.4,1294.9 923.9,1381.9 1004.1,1270.7 1077.9,1190.3 869.4,1381.8 1034.6,1255.3 988.3,1326.9 973.3,1321.3 914.6,1417.8 1065.5,1171.9 951.9,1289.7 1121.3,1094.9 1026.5,1210.1 897.6,1393.2 985.8,1317.9 1101,1104.9 943.1,1383.9 895.3,1428 1125.9,1128.8 1069.2,1227.2 952.4,1334.4 1019.8,1245.2 957.1,1321.1 912.8,1345.6 1063.3,1180.2 898.9,1325.8 1081.2,1181.2 1055.4,1231.5 895.2,1410.3 1065.1,1188.2 1066.6,1135.2 960.1,1300 1171.5,1074.3 1050.6,1193.1 1038.2,1263.4 1035.9,1234.5 1065.1,1210.8 1001.3,1300.1 1026.4,1205.1 937.2,1367.8 990.4,1297.3 1044.2,1253.7 989.7,1260.3 1021.8,1278.2 1123.8,1155.8 1029.2,1191.2 966.8,1277.4 930.9,1305.8 1023.5,1225.7 1009.3,1289.5 939.4,1322.4 981.7,1324.9 928,1292.4 1008.5,1251.8 1139.8,1123.6 894.3,1357.5 955.4,1308.8 1007.9,1225.6 918,1356.8 967.2,1256.5 1084.4,1142.9 1020.9,1234.1 931.9,1296.4 874.2,1407.3 886.3,1420.7 987.4,1268.3 946,1300 1025.8,1209.8 1094.6,1201.3 978.7,1329 1072,1186.1 1000.7,1225.6 967.4,1289.3 870.4,1379.5 1062.3,1178.8 1148.9,1090.7 1000.7,1292.9 978.7,1276.2 937.6,1377.1 960.6,1270.4 1003.7,1207.6 965.5,1307.5 971.9,1321.4 897.7,1374 875.5,1400.1 1132.1,1102.2 938.3,1383.1 852.7,1394 1144.3,1089.1 972.2,1263.3 941.2,1343.6 1002.1,1296 1048.5,1197.8 834.9,1414 1129.3,1154.6 1137.1,1079.6 923.7,1328.7 1075.4,1175.4 971.8,1293 912.4,1374.4 984.3,1258.5 993.5,1218 1080.8,1135.6 1053,1150.4 972.2,1256.4 1081.5,1168.4 1079.3,1191.4 895.1,1431 1107.4,1158 1007.7,1238.6 978.4,1291.1 899.1,1381.1 966.5,1266 1002.6,1220.2 954.8,1322.4 956.2,1316 939.2,1390.9 963.5,1259 935.9,1342.5 925.8,1347 855.5,1437.5 946.8,1293.4 1002.5,1257 940.3,1311 1100.1,1164.9 1003.4,1222.3 914.5,1405.3 1042.2,1216.5 940.6,1321.8 1076.1,1183.8 1016.1,1206.2 908.2,1352.3 918.9,1345.3 1099.5,1135.6 938.9,1312.7 1030.9,1200.3 1099.2,1181.3 915.7,1360.1 1010.1,1258.9 947,1335.2 1000.1,1256.8 1018.9,1237.4 938.5,1383.8 924,1359.2 1085.9,1119.6 1021.7,1208.9 960.6,1329.9 897.7,1365.5 889.2,1442.9 895.1,1377 1006,1235.5 1013.1,1281.7 1023.3,1218.9 1032.9,1226 1114.8,1147.4 1078.8,1197.1 930.9,1358.7 1041.9,1170.9 971.6,1278.8 1020.1,1185.5 974.4,1287.4 891.6,1361.4 924.1,1388.4 1039.3,1213.6 911.7,1383.4 982.3,1320.8 996.7,1224.7 879.3,1428 1035.5,1204.8 946.5,1335.8 1093.7,1113.3 1012.5,1228 1045.3,1193.6 982.3,1252.2 1121.4,1073.3 905.3,1348.2 884,1418.2 1096,1173.1 1039.8,1230.4 947.6,1360.7 1057.1,1147.2 988.3,1300.2 998.9,1289.5 1073.2,1123.2 1079,1145.4 1056.3,1213.6 1072.1,1202.1 1085.8,1167.8 1064.3,1181.1 926.1,1304.4 1031.8,1207.4 1008.3,1285.8 983.8,1285.9 1018.3,1292.3 944.1,1347.5 914.2,1413.3 908.8,1386.4 1005.6,1220.1 1008.9,1240.8 1062.5,1197.6 1009.8,1278.1 945.5,1357 944.2,1297.1 1058.4,1195.8 1038.1,1202.2 1042.8,1183.4 994.8,1249.2 1009.5,1210.8 1016.1,1241.1 939.2,1299.7 980.7,1343.4 943.5,1339.2 960.4,1327.3 872.4,1431 1025.6,1210.8 913.9,1381.5 1013.7,1203.6 924.6,1363.2 1041.7,1256.3 989.5,1260.6 951.4,1370.8 916.1,1325.4 1160,1102.9 951.9,1263.2 1102.7,1126.7 910.5,1414.3 999.5,1267.2 994.5,1272.5 1075.8,1149.1 1006.1,1219.2 971.2,1303.6 1088.8,1187.9 841.8,1444.6 1006.5,1192.1 1058.5,1197.8 948.3,1312.4 972.9,1238.9 1034.8,1166.7 988.2,1223 957.8,1310 1028.3,1187 930.1,1330.4 1080.6,1201.2 917.1,1332 1024,1214 896.5,1437.2 913.1,1407.6 886.1,1345 1086.4,1168 980.2,1251.6 1038.4,1227.3 1021.5,1286.7 943.5,1353.8 853.1,1411.8 963.1,1336.7 1032.2,1215.3 963.8,1344.3 1035.4,1278.8 1058.9,1193.9 995.2,1294.8 914.2,1371.9 1039.1,1214.3 1107.7,1170 1099.7,1163.7 884.4,1428.4 940.7,1321.4 959.5,1308.1 1067.9,1184 983.3,1294.5 891.7,1408 861.1,1411.3 988.8,1296.1 1027.5,1261.5 996.3,1284.6 874.8,1419.6 917.2,1361.8 1080.8,1106.1 1036.3,1273.5 1055.4,1191 868.6,1388 968.1,1270.5 1090.4,1164.4 981.8,1312.2 1014,1229.6 822.9,1441.6 1115.1,1130.2 1086.4,1175.3 1027.2,1174.6 1015.1,1252.6 924,1353.8 1072.1,1120.4 970.2,1295 873.5,1408.4 1043.8,1218.4 927.5,1347.1 1000.1,1203 1114.7,1093.6 877.9,1400.8 1015.6,1202.3 910.1,1388.7 954.7,1343.5 1137.6,1084.5 1045.4,1168.7 979.9,1270.4 996.4,1214.6 985.7,1218 995.9,1310 1146.6,1100.5 926.4,1324.7 1074.4,1165.6 1009.1,1257.6 883.7,1379.1 1118,1153.9 898.7,1400.6 877.7,1355.6 888.1,1378.8 862.9,1363.6 964.5,1353.4 923.1,1339.8 1053.9,1253.7 1094.7,1153.4 991.7,1215.9 1056.7,1240.9 904.8,1406.8 1080.2,1145.7 1059.9,1187.9 980.3,1282.5 948.2,1345.9 993.9,1286.3 903.2,1390.8 1077.2,1155.3 1020.4,1267 1011.6,1281 998.1,1309.9 998.9,1220.7 949.1,1265.2 1035.4,1198.1 1058.6,1190.6 1017.1,1220.1 920.8,1315.1 1031.4,1225.4 1154.8,1112.4 1014.9,1242.6 961.3,1337.2 894.7,1367.3 933.1,1292.8 1167.6,1078 1030.2,1203.3 1024.3,1222.8 864.5,1427.7 952,1329.5 1012.2,1234 1035.2,1224.4 983,1330.5 990.1,1316.6 1103.2,1125.6 968.6,1312.6 918.1,1369.1 1022.3,1238.6 967.7,1241.1 922.6,1393.3 1047.6,1222.1 830.5,1439.7 916.7,1371.2 1104.3,1143.6 1003.2,1306.2 1079.4,1159.2 1008.9,1244.2 965.3,1259.7 917.3,1330.8 913.2,1383.4 1000.1,1257.5 988.6,1301.5 845.2,1417.8 887.4,1423 951.9,1299.5 929.2,1327.8 909.8,1311.4 918.8,1393.5 1053.4,1199.1 962.4,1361.5 926.6,1308.3 983.1,1289.9 879.8,1428.4 1071.1,1221.6 933.4,1370.8 933.1,1352.6 945.7,1338.2 936.4,1279.6 1036.2,1229.1 871,1412.4 922.8,1376.7 939.5,1341.5 1038.4,1269.2 944.3,1302.6 1129.8,1077.9 1037,1188.3 929.5,1325.5 924.1,1287.9 1080.5,1170.3 918.3,1333.1 941.1,1324.8 1008.4,1191.4 925,1342.7 916,1405.7 1014.1,1199.4 1117.5,1127.6 1067.6,1170.3 910.1,1360.2 988.5,1324.5 998.1,1254.8 1026.8,1197.1 1010.5,1258.7 1110.7,1128.2 1070.4,1187.1 900,1326.4 942.9,1341.6 1014.1,1301.9 936.8,1345.5 859.9,1428 959.8,1317.8 956.4,1305.6 876.3,1378.3 945.5,1324.7 944.6,1277.5 962.5,1269.2 952.9,1371.8 1032.2,1253.6 974.7,1257 1097.4,1100.6 1012.2,1265.3 1099,1116.5 1010.4,1268.3 983.7,1322.6 954.9,1343.4 1027.1,1262.2 1023.4,1189.2 857.6,1413 1002.7,1279.9 941.9,1290.4 1108.7,1193.3 846.8,1422.6 1010.6,1273 892.1,1372.2 942.4,1282.7 1120.2,1167.6 916.7,1335.1 917.2,1364.9 1041.3,1225 1132.7,1111 1103,1146.6 946.8,1322.6 998.6,1272.7 928.4,1391.8 925.6,1291.3 1037.1,1227.6 1032.3,1178.3 1126.3,1127.5 975.8,1324.8 936.8,1287.2 942,1284.7 1022.9,1252.6 1102.8,1136.1 972.8,1276.2 951.8,1375.5 1028.9,1249.6 826.6,1428.4 1111.6,1140.5" fill="none" stroke="none" marker-start="url(#mk)" marker-mid="url(#mk)" marker-end="url(#mk)"/>
<path d="M799.9 1066.3H1181.7V1448.4H799.9ZM799.9 1448.4v-3.8M799.9 1066.3v3.8M842.3 1448.4v-3.8M842.3 1066.3v3.8M884.8 1448.4v-3.8M884.8 1066.3v3.8M927.2 1448.4v-3.8M927.2 1066.3v3.8M969.7 1448.4v-3.8M969.7 1066.3v3.8M1012.1 1448.4v-3.8M1012.1 1066.3v3.8M1054.5 1448.4v-3.8M1054.5 1066.3v3.8M1097 1448.4v-3.8M1097 1066.3v3.8M1139.4 1448.4v-3.8M1139.4 1066.3v3.8M799.9 1448.4h3.8M1181.7 1448.4h-3.8M799.9 1406h3.8M1181.7 1406h-3.8M799.9 1363.5h3.8M1181.7 1363.5h-3.8M799.9 1321h3.8M1181.7 1321h-3.8M799.9 1278.6h3.8M1181.7 1278.6h-3.8M799.9 1236.1h3.8M1181.7 1236.1h-3.8M799.9 1193.7h3.8M1181.7 1193.7h-3.8M799.9 1151.2h3.8M1181.7 1151.2h-3.8M799.9 1108.8h3.8M1181.7 1108.8h-3.8M799.9 1066.3h3.8M1181.7 1066.3h-3.8" fill="none" stroke="#3c3c3c" stroke-width="1.05"/>
<text class="ss" transform="translate(799.9 1468) scale(0.94 1)" font-size="13.0" fill="#262626" text-anchor="middle">2.4</text>
<text class="ss" transform="translate(842.3 1468) scale(0.94 1)" font-size="13.0" fill="#262626" text-anchor="middle">2.5</text>
<text class="ss" transform="translate(884.8 1468) scale(0.94 1)" font-size="13.0" fill="#262626" text-anchor="middle">2.6</text>
<text class="ss" transform="translate(927.2 1468) scale(0.94 1)" font-size="13.0" fill="#262626" text-anchor="middle">2.7</text>
<text class="ss" transform="translate(969.7 1468) scale(0.94 1)" font-size="13.0" fill="#262626" text-anchor="middle">2.8</text>
<text class="ss" transform="translate(1012.1 1468) scale(0.94 1)" font-size="13.0" fill="#262626" text-anchor="middle">2.9</text>
<text class="ss" transform="translate(1054.5 1468) scale(0.94 1)" font-size="13.0" fill="#262626" text-anchor="middle">3</text>
<text class="ss" transform="translate(1097 1468) scale(0.94 1)" font-size="13.0" fill="#262626" text-anchor="middle">3.1</text>
<text class="ss" transform="translate(1139.4 1468) scale(0.94 1)" font-size="13.0" fill="#262626" text-anchor="middle">3.2</text>
<text class="ss" transform="translate(793.4 1454.2) scale(0.94 1)" font-size="13.0" fill="#262626" text-anchor="end">3.1</text>
<text class="ss" transform="translate(793.4 1411.7) scale(0.94 1)" font-size="13.0" fill="#262626" text-anchor="end">3.2</text>
<text class="ss" transform="translate(793.4 1369.3) scale(0.94 1)" font-size="13.0" fill="#262626" text-anchor="end">3.3</text>
<text class="ss" transform="translate(793.4 1326.8) scale(0.94 1)" font-size="13.0" fill="#262626" text-anchor="end">3.4</text>
<text class="ss" transform="translate(793.4 1284.4) scale(0.94 1)" font-size="13.0" fill="#262626" text-anchor="end">3.5</text>
<text class="ss" transform="translate(793.4 1241.9) scale(0.94 1)" font-size="13.0" fill="#262626" text-anchor="end">3.6</text>
<text class="ss" transform="translate(793.4 1199.5) scale(0.94 1)" font-size="13.0" fill="#262626" text-anchor="end">3.7</text>
<text class="ss" transform="translate(793.4 1157) scale(0.94 1)" font-size="13.0" fill="#262626" text-anchor="end">3.8</text>
<text class="ss" transform="translate(793.4 1114.6) scale(0.94 1)" font-size="13.0" fill="#262626" text-anchor="end">3.9</text>
<text class="ss" transform="translate(793.4 1072.1) scale(0.94 1)" font-size="13.0" fill="#262626" text-anchor="end">4</text>
<rect x="813.6" y="1079.9" width="68.8" height="51.2" rx="0.8" fill="#fff" stroke="#3c3c3c" stroke-width="1"/>
<circle cx="832" cy="1089.5" r="3.9" fill="none" stroke="#000" stroke-width="0.9"/>
<path d="M817.6 1106H846.3" stroke="#0000d8" stroke-width="2.4"/>
<path d="M817.6 1121.8H846.3" stroke="#6e6e6e" stroke-width="1.05" stroke-dasharray="1.2 2.1"/>
<text class="ss" transform="translate(849.6 1093.4)" font-size="12" fill="#111">Data</text>
<text class="ss" transform="translate(849.6 1109.8)" font-size="12" fill="#111">Fit</text>
<text class="ss" transform="translate(849.6 1126.1)" font-size="12" fill="#111">Y = T</text>
<text class="ss" transform="translate(991.8 1059.9)" font-size="14.5" text-anchor="middle" font-weight="bold" letter-spacing="0.8">: R=0.95095</text>
<text class="ss" transform="translate(991.2 1488.2)" font-size="14.5" text-anchor="middle" font-weight="bold" letter-spacing="0.8">Target</text>
<text class="ss" transform="translate(768.2 1257) rotate(-90)" font-size="14.5" text-anchor="middle" font-weight="bold" letter-spacing="0.8">Output ~= 1.2*Target + 0.18</text>
<text class="ss" font-size="100" stroke="#000" stroke-width="2.52" stroke-linejoin="miter" transform="matrix(0.4935 0 0 0.4978 702.78 1101.38)">E</text>
<text class="sf" transform="translate(995.4 1527.4) scale(0.967 1)" font-size="36.8" text-anchor="middle">CD42b</text>
<text class="sf" transform="translate(736 1256.4) rotate(-90) scale(0.94 1)" font-size="36.8" text-anchor="middle">DENV</text>
</g>
<text class="sf" transform="translate(1219.8 1106.4) scale(0.94 1)" font-size="37.5" text-anchor="end" font-style="italic">r</text>
<text class="sf" transform="translate(1227.2 1106.4)" font-size="37.5">=</text>
<text class="sf" transform="translate(1257.1 1106.4) scale(0.95 1)" font-size="37.5">0.9</text>
<text class="sf" transform="translate(1219.8 1149.2) scale(0.94 1)" font-size="37.5" text-anchor="end" font-style="italic">p</text>
<text class="sf" transform="translate(1227.2 1149.2)" font-size="37.5">=</text>
<text class="sf" transform="translate(1257.1 1149.2) scale(0.95 1)" font-size="37.5">10<tspan font-size="20.5" dy="-12.3">-322</tspan></text>
<text class="sf" transform="translate(1219.8 1192.1) scale(0.94 1)" font-size="37.5" text-anchor="end" font-style="italic">n</text>
<text class="sf" transform="translate(1227.2 1192.1)" font-size="37.5">=</text>
<text class="sf" transform="translate(1255.9 1192.1) scale(0.935 1)" font-size="37.5">2118</text>
</svg></body></html>
